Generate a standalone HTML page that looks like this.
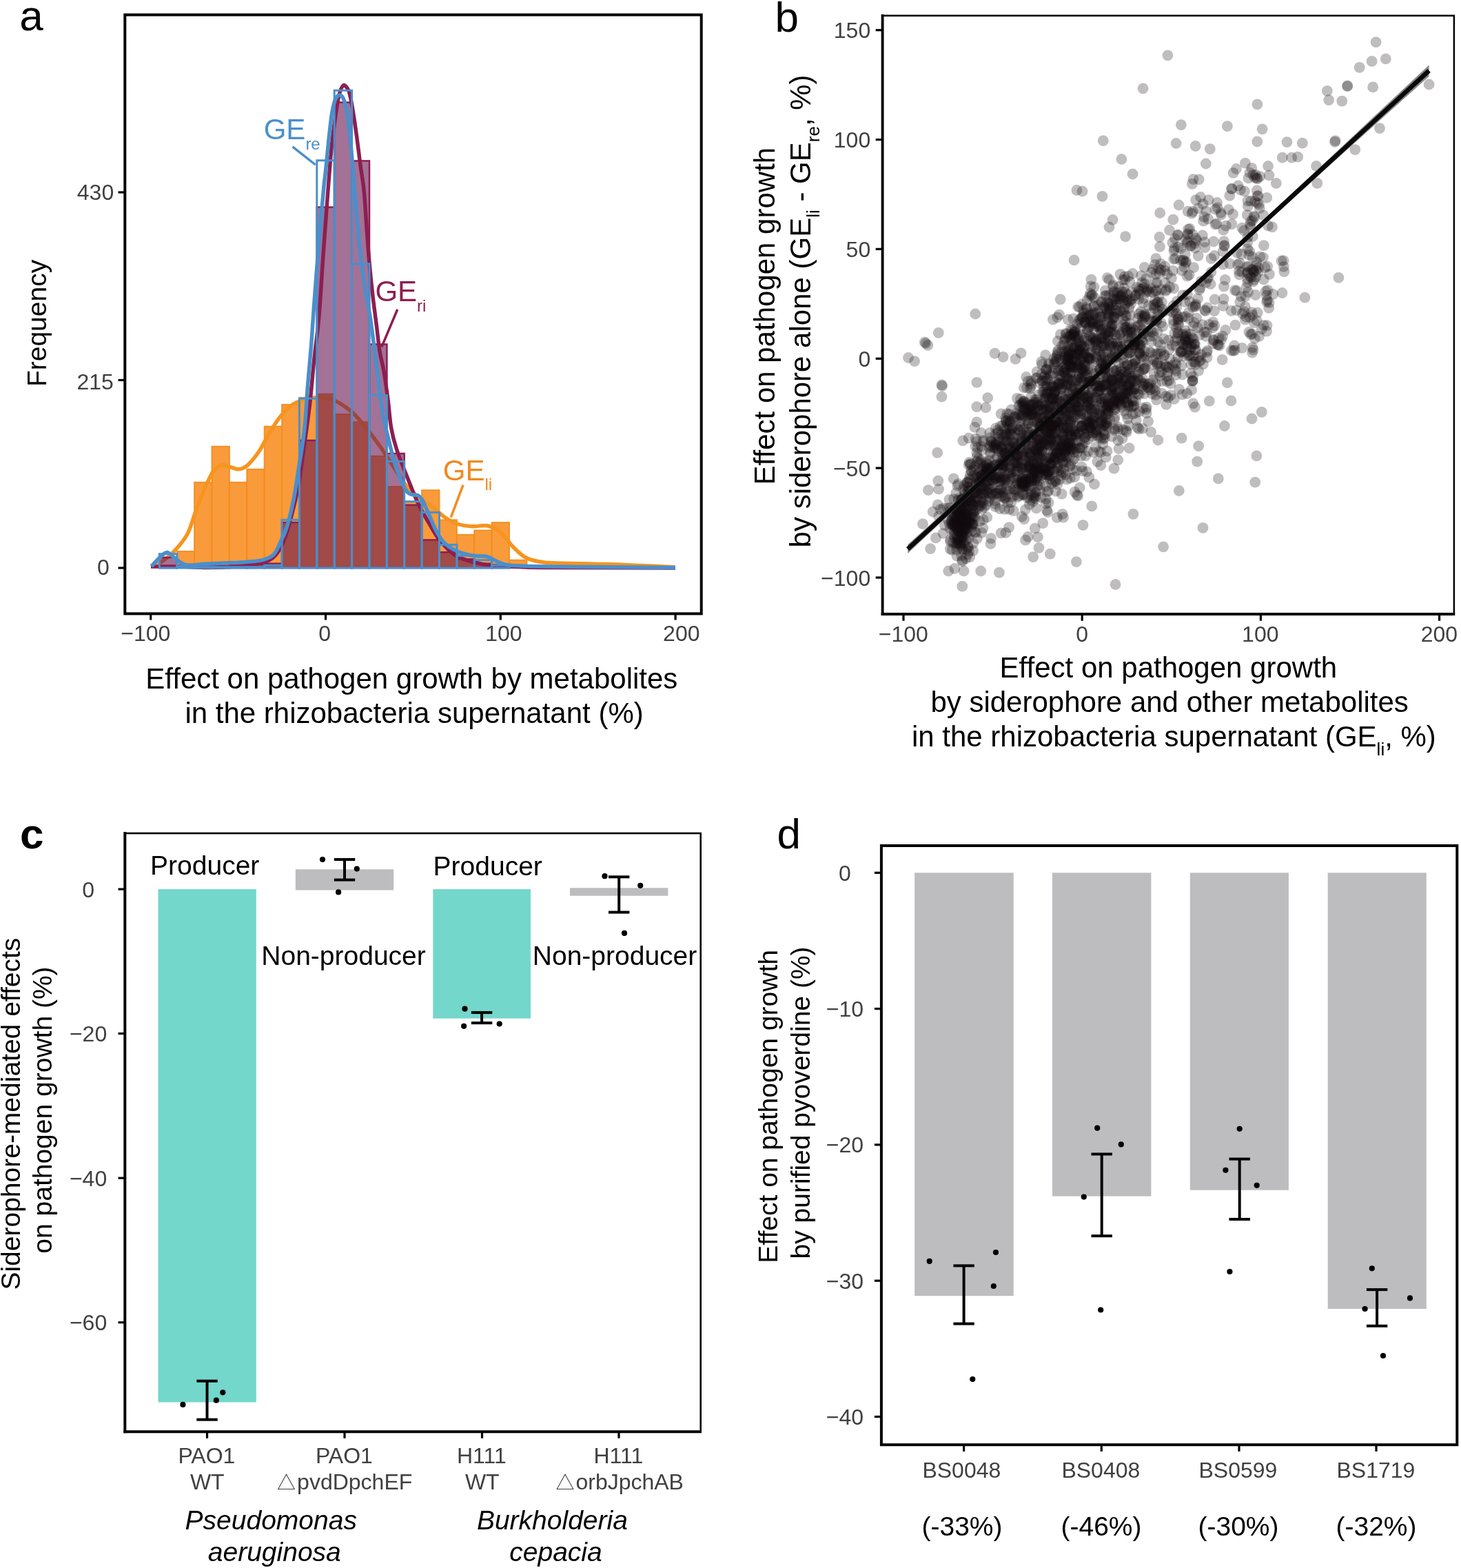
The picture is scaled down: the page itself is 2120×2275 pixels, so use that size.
<!DOCTYPE html>
<html><head><meta charset="utf-8"><title>Figure</title>
<style>html,body{margin:0;padding:0;background:#fff;}svg{display:block;}text{font-family:'Liberation Sans', Arial, Helvetica, sans-serif;}</style>
</head><body>
<svg xmlns="http://www.w3.org/2000/svg" width="2120" height="2275" viewBox="0 0 2120 2275">
<rect width="2120" height="2275" fill="#fff"/>
<g id="panel-a">
<rect x="256.8" y="799.9" width="25.4" height="24.1" fill="#F99B3B" stroke="#F28C1E" stroke-width="2" stroke-opacity="0.9"/>
<rect x="282.1" y="699.8" width="25.4" height="124.2" fill="#F99B3B" stroke="#F28C1E" stroke-width="2" stroke-opacity="0.9"/>
<rect x="307.5" y="647.8" width="25.4" height="176.2" fill="#F99B3B" stroke="#F28C1E" stroke-width="2" stroke-opacity="0.9"/>
<rect x="332.9" y="699.8" width="25.4" height="124.2" fill="#F99B3B" stroke="#F28C1E" stroke-width="2" stroke-opacity="0.9"/>
<rect x="358.3" y="680.8" width="25.4" height="143.2" fill="#F99B3B" stroke="#F28C1E" stroke-width="2" stroke-opacity="0.9"/>
<rect x="383.7" y="618.7" width="25.4" height="205.3" fill="#F99B3B" stroke="#F28C1E" stroke-width="2" stroke-opacity="0.9"/>
<rect x="409.1" y="587" width="25.4" height="237" fill="#F99B3B" stroke="#F28C1E" stroke-width="2" stroke-opacity="0.9"/>
<rect x="434.4" y="576.9" width="25.4" height="247.1" fill="#F99B3B" stroke="#F28C1E" stroke-width="2" stroke-opacity="0.9"/>
<rect x="459.8" y="571.8" width="25.4" height="252.2" fill="#F99B3B" stroke="#F28C1E" stroke-width="2" stroke-opacity="0.9"/>
<rect x="485.2" y="600.9" width="25.4" height="223.1" fill="#F99B3B" stroke="#F28C1E" stroke-width="2" stroke-opacity="0.9"/>
<rect x="510.6" y="612.3" width="25.4" height="211.7" fill="#F99B3B" stroke="#F28C1E" stroke-width="2" stroke-opacity="0.9"/>
<rect x="536" y="661.8" width="25.4" height="162.2" fill="#F99B3B" stroke="#F28C1E" stroke-width="2" stroke-opacity="0.9"/>
<rect x="561.3" y="706.1" width="25.4" height="117.9" fill="#F99B3B" stroke="#F28C1E" stroke-width="2" stroke-opacity="0.9"/>
<rect x="586.7" y="727.7" width="25.4" height="96.3" fill="#F99B3B" stroke="#F28C1E" stroke-width="2" stroke-opacity="0.9"/>
<rect x="612.1" y="711.2" width="25.4" height="112.8" fill="#F99B3B" stroke="#F28C1E" stroke-width="2" stroke-opacity="0.9"/>
<rect x="637.5" y="754.3" width="25.4" height="69.7" fill="#F99B3B" stroke="#F28C1E" stroke-width="2" stroke-opacity="0.9"/>
<rect x="662.9" y="775.8" width="25.4" height="48.2" fill="#F99B3B" stroke="#F28C1E" stroke-width="2" stroke-opacity="0.9"/>
<rect x="688.2" y="769.5" width="25.4" height="54.5" fill="#F99B3B" stroke="#F28C1E" stroke-width="2" stroke-opacity="0.9"/>
<rect x="713.6" y="758.1" width="25.4" height="65.9" fill="#F99B3B" stroke="#F28C1E" stroke-width="2" stroke-opacity="0.9"/>
<rect x="739" y="812.6" width="25.4" height="11.4" fill="#F99B3B" stroke="#F28C1E" stroke-width="2" stroke-opacity="0.9"/>
<path d="M219.8,822 C222.5,820.7 230.6,817.5 236,814 C241.4,810.5 246,807.2 252,800.7 C258,794.2 266.6,784.8 272,774.7 C277.4,764.6 280.3,751.2 284.5,740.3 C288.7,729.3 292.8,718.4 297,709 C301.2,699.6 305.3,689.7 309.5,684 C313.7,678.3 317.8,675.6 322,674.6 C326.2,673.6 330.4,676.7 334.6,677.7 C338.8,678.7 342.8,681.3 347,680.8 C351.2,680.3 354.9,678.8 359.6,674.6 C364.3,670.4 370.6,662.6 375.3,655.8 C380,649 383.1,641.7 387.8,633.9 C392.5,626.1 398.2,616 403.4,608.9 C408.6,601.8 413.8,595.5 419,591 C424.2,586.5 428.7,584.3 434.7,582 C440.7,579.7 449.1,577.8 455,577 C460.9,576.2 465,576.3 470,577 C475,577.7 480.2,579 485,581 C489.8,583 494.3,585.8 499,589 C503.7,592.2 507.5,594.6 513,600 C518.5,605.4 525.5,613.7 531.8,621.4 C538,629.1 544.2,637.5 550.5,646.4 C556.8,655.3 563,665.2 569.3,674.6 C575.5,684 581.7,694.9 588,702.7 C594.3,710.5 600.6,716.3 606.9,721.5 C613.2,726.7 619.5,729.3 625.7,734 C632,738.7 638.1,745.4 644.4,749.7 C650.6,754 656.4,757.6 663.2,760 C670,762.4 677.8,763.3 685.1,763.8 C692.4,764.3 700.2,761.5 707,762.8 C713.8,764.1 719.5,766.5 725.8,771.6 C732.1,776.7 738.3,787.2 744.6,793.5 C750.9,799.8 755.8,805.5 763.4,809.2 C771,813 778.9,814.6 790,816 C801.1,817.4 815,817.1 830,817.5 C845,817.9 863.3,818 880,818.5 C896.7,819 913.3,819.8 930,820.5 C946.7,821.2 971.7,822.6 980,823" fill="none" stroke="#F7941D" stroke-width="5.5" stroke-linejoin="round"/>
<rect x="231.4" y="808.8" width="25.4" height="15.2" fill="rgba(102,20,80,0.6)" stroke="#8C1F50" stroke-width="2.5"/>
<rect x="256.8" y="824" width="25.4" height="0" fill="rgba(102,20,80,0.6)" stroke="#8C1F50" stroke-width="2.5"/>
<rect x="282.1" y="821.5" width="25.4" height="2.5" fill="rgba(102,20,80,0.6)" stroke="#8C1F50" stroke-width="2.5"/>
<rect x="307.5" y="821.5" width="25.4" height="2.5" fill="rgba(102,20,80,0.6)" stroke="#8C1F50" stroke-width="2.5"/>
<rect x="332.9" y="820.2" width="25.4" height="3.8" fill="rgba(102,20,80,0.6)" stroke="#8C1F50" stroke-width="2.5"/>
<rect x="358.3" y="818.9" width="25.4" height="5.1" fill="rgba(102,20,80,0.6)" stroke="#8C1F50" stroke-width="2.5"/>
<rect x="383.7" y="817.7" width="25.4" height="6.3" fill="rgba(102,20,80,0.6)" stroke="#8C1F50" stroke-width="2.5"/>
<rect x="409.1" y="758.1" width="25.4" height="65.9" fill="rgba(102,20,80,0.6)" stroke="#8C1F50" stroke-width="2.5"/>
<rect x="434.4" y="639" width="25.4" height="185" fill="rgba(102,20,80,0.6)" stroke="#8C1F50" stroke-width="2.5"/>
<rect x="459.8" y="300.6" width="25.4" height="523.4" fill="rgba(102,20,80,0.6)" stroke="#8C1F50" stroke-width="2.5"/>
<rect x="485.2" y="148.5" width="25.4" height="675.5" fill="rgba(102,20,80,0.6)" stroke="#8C1F50" stroke-width="2.5"/>
<rect x="510.6" y="233.4" width="25.4" height="590.6" fill="rgba(102,20,80,0.6)" stroke="#8C1F50" stroke-width="2.5"/>
<rect x="536" y="499.5" width="25.4" height="324.5" fill="rgba(102,20,80,0.6)" stroke="#8C1F50" stroke-width="2.5"/>
<rect x="561.3" y="658" width="25.4" height="166" fill="rgba(102,20,80,0.6)" stroke="#8C1F50" stroke-width="2.5"/>
<rect x="586.7" y="732.7" width="25.4" height="91.3" fill="rgba(102,20,80,0.6)" stroke="#8C1F50" stroke-width="2.5"/>
<rect x="612.1" y="783.4" width="25.4" height="40.6" fill="rgba(102,20,80,0.6)" stroke="#8C1F50" stroke-width="2.5"/>
<rect x="637.5" y="801.2" width="25.4" height="22.8" fill="rgba(102,20,80,0.6)" stroke="#8C1F50" stroke-width="2.5"/>
<rect x="662.9" y="811.3" width="25.4" height="12.7" fill="rgba(102,20,80,0.6)" stroke="#8C1F50" stroke-width="2.5"/>
<rect x="688.2" y="817.7" width="25.4" height="6.3" fill="rgba(102,20,80,0.6)" stroke="#8C1F50" stroke-width="2.5"/>
<rect x="713.6" y="820.2" width="25.4" height="3.8" fill="rgba(102,20,80,0.6)" stroke="#8C1F50" stroke-width="2.5"/>
<path d="M219,822 C225.8,822 246.5,821.8 260,822 C273.5,822.2 286.7,823.5 300,823.5 C313.3,823.5 327.5,822.9 340,822 C352.5,821.1 365.8,820 375,818 C384.2,816 389.7,813.8 395,810 C400.3,806.2 403.3,801.7 407,795 C410.7,788.3 414,779.2 417,770 C420,760.8 422.3,750.8 425,740 C427.7,729.2 430.3,720 433,705 C435.7,690 438.2,670 441,650 C443.8,630 447.2,606.7 449.7,585 C452.2,563.3 453.8,540.8 456,520 C458.2,499.2 460.6,485 462.8,460 C465,435 466.8,400.5 469,370 C471.2,339.5 473.9,302.8 475.9,277 C477.9,251.2 479.3,232.5 481,215 C482.7,197.5 484.5,184.8 486.3,172 C488.1,159.2 490,146 492,138 C494,130 496.1,125.7 498.1,124 C500.1,122.3 502.5,126 504,128 C505.5,130 506,130.7 507.3,136 C508.6,141.3 510.3,149.6 512,160 C513.7,170.4 515.9,185.2 517.7,198.5 C519.5,211.8 521.2,226.9 523,240 C524.8,253.1 526.7,262 528.2,277 C529.7,292 530.7,312.6 532,330 C533.3,347.4 534.5,364.9 536,381.6 C537.5,398.3 539.2,414.7 541,430 C542.8,445.3 544.8,459.9 546.5,473.2 C548.2,486.5 549.2,499.1 551,510 C552.8,520.9 555,526.9 557,538.6 C559,550.3 561.2,566.4 563,580 C564.8,593.6 565.4,608 567.5,620 C569.6,632 571.6,639.8 575.6,652 C579.6,664.2 586,679.8 591.2,693 C596.4,706.2 601.8,720 607,731 C612.2,742 617.3,750.2 622.5,759 C627.7,767.8 631.5,776 638.2,784 C645,792 652.6,801.2 663,807 C673.4,812.8 688,816.1 700.8,818.6 C713.6,821.1 723.5,821.2 740,822 C756.5,822.8 760,823.2 800,823.5 C840,823.8 950,823.9 980,824" fill="none" stroke="#8C1F50" stroke-width="5.5" stroke-linejoin="round"/>
<rect x="231.4" y="803.7" width="25.4" height="20.3" fill="none" stroke="#4A8FCC" stroke-width="3"/>
<rect x="256.8" y="821.5" width="25.4" height="2.5" fill="none" stroke="#4A8FCC" stroke-width="3"/>
<rect x="282.1" y="822.7" width="25.4" height="1.3" fill="none" stroke="#4A8FCC" stroke-width="3"/>
<rect x="307.5" y="822.7" width="25.4" height="1.3" fill="none" stroke="#4A8FCC" stroke-width="3"/>
<rect x="332.9" y="822.7" width="25.4" height="1.3" fill="none" stroke="#4A8FCC" stroke-width="3"/>
<rect x="358.3" y="822.7" width="25.4" height="1.3" fill="none" stroke="#4A8FCC" stroke-width="3"/>
<rect x="383.7" y="820.2" width="25.4" height="3.8" fill="none" stroke="#4A8FCC" stroke-width="3"/>
<rect x="409.1" y="754.3" width="25.4" height="69.7" fill="none" stroke="#4A8FCC" stroke-width="3"/>
<rect x="434.4" y="578.1" width="25.4" height="245.9" fill="none" stroke="#4A8FCC" stroke-width="3"/>
<rect x="459.8" y="232.8" width="25.4" height="591.2" fill="none" stroke="#4A8FCC" stroke-width="3"/>
<rect x="485.2" y="131.2" width="25.4" height="692.8" fill="none" stroke="#4A8FCC" stroke-width="3"/>
<rect x="510.6" y="382.9" width="25.4" height="441.1" fill="none" stroke="#4A8FCC" stroke-width="3"/>
<rect x="536" y="573.6" width="25.4" height="250.4" fill="none" stroke="#4A8FCC" stroke-width="3"/>
<rect x="561.3" y="669.4" width="25.4" height="154.6" fill="none" stroke="#4A8FCC" stroke-width="3"/>
<rect x="586.7" y="727.7" width="25.4" height="96.3" fill="none" stroke="#4A8FCC" stroke-width="3"/>
<rect x="612.1" y="743.4" width="25.4" height="80.6" fill="none" stroke="#4A8FCC" stroke-width="3"/>
<rect x="637.5" y="790.4" width="25.4" height="33.6" fill="none" stroke="#4A8FCC" stroke-width="3"/>
<rect x="662.9" y="806.3" width="25.4" height="17.7" fill="none" stroke="#4A8FCC" stroke-width="3"/>
<rect x="688.2" y="812.6" width="25.4" height="11.4" fill="none" stroke="#4A8FCC" stroke-width="3"/>
<rect x="713.6" y="820.2" width="25.4" height="3.8" fill="none" stroke="#4A8FCC" stroke-width="3"/>
<rect x="739" y="824" width="25.4" height="0" fill="none" stroke="#4A8FCC" stroke-width="3"/>
<rect x="764.4" y="824" width="25.4" height="0" fill="none" stroke="#4A8FCC" stroke-width="3"/>
<rect x="789.8" y="824" width="25.4" height="0" fill="none" stroke="#4A8FCC" stroke-width="3"/>
<rect x="815.1" y="824" width="25.4" height="0" fill="none" stroke="#4A8FCC" stroke-width="3"/>
<rect x="840.5" y="824" width="25.4" height="0" fill="none" stroke="#4A8FCC" stroke-width="3"/>
<rect x="865.9" y="824" width="25.4" height="0" fill="none" stroke="#4A8FCC" stroke-width="3"/>
<rect x="891.3" y="824" width="25.4" height="0" fill="none" stroke="#4A8FCC" stroke-width="3"/>
<rect x="916.6" y="824" width="25.4" height="0" fill="none" stroke="#4A8FCC" stroke-width="3"/>
<rect x="942" y="824" width="25.4" height="0" fill="none" stroke="#4A8FCC" stroke-width="3"/>
<path d="M219.8,821.7 C221.7,819.6 227.6,812.6 231.3,809.2 C235.1,805.8 238.7,801.4 242.3,801.4 C246,801.4 248.8,806.2 253.2,809.2 C257.6,812.2 262.1,817.9 268.9,819.5 C275.7,821.1 284.5,819 293.9,818.6 C303.3,818.2 314.8,817.5 325.2,817 C335.6,816.5 347.1,816.2 356.5,815.4 C365.9,814.6 374.7,814.1 381.5,812.3 C388.3,810.5 393,808.7 397.2,804.5 C401.4,800.3 403.5,793.8 406.6,787.3 C409.7,780.8 412.9,775.3 416,765.4 C419.1,755.5 422.5,741.9 425.4,727.8 C428.3,713.7 430.5,697.9 433.2,680.8 C435.9,663.7 439.3,645.1 441.5,625 C443.7,604.9 444.8,580.9 446.5,560 C448.2,539.1 450.2,519 451.7,499.8 C453.2,480.6 454.2,462.3 455.5,445 C456.8,427.7 457.9,411.8 459.2,396 C460.4,380.2 461.7,365.1 463,350 C464.3,334.9 465.6,318.9 466.8,305.6 C468,292.3 469,280.1 470,270 C471,259.9 471.6,256.9 472.8,245.2 C474,233.5 475.9,213.4 477.3,200 C478.8,186.6 480.1,173.8 481.5,165 C482.9,156.2 484.2,151.2 485.5,147 C486.8,142.8 487.8,141.5 489,140 C490.2,138.5 491.3,138.1 492.5,138 C493.7,137.9 494.9,138.2 496,139.5 C497.1,140.8 498.4,143.4 499.4,146 C500.4,148.6 501.1,151 502,155 C502.9,159 503.7,162.5 504.7,170 C505.7,177.5 506.8,188.3 508,200 C509.2,211.7 510.6,226.7 511.7,240 C512.8,253.3 513.8,268.3 514.7,280 C515.6,291.7 516.2,298.3 517.3,310 C518.3,321.7 519.7,337.4 521,350 C522.3,362.6 523.5,373.1 525.2,385.6 C526.9,398.1 529,412.4 531,425 C533,437.6 535.2,447.5 537.3,461 C539.3,474.5 541.5,492.2 543.3,506.2 C545.1,520.2 546.5,532.7 548,545 C549.5,557.3 550.9,569.3 552.4,579.8 C553.9,590.3 555.2,599 557,608 C558.8,617 560.4,623.4 563,634 C565.6,644.6 569.4,661.1 572.5,671.5 C575.6,681.9 578.7,689.4 581.8,696.5 C584.9,703.6 588.2,710.4 591.2,714 C594.2,717.6 597.4,717.2 600,718 C602.6,718.8 604.8,717.7 607,719 C609.2,720.3 610.5,721.4 613.1,726 C615.7,730.6 619.4,739.5 622.5,746.6 C625.6,753.7 628.4,761.7 632,768.5 C635.6,775.3 639.2,782.1 644.4,787.3 C649.6,792.5 656.4,796.7 663.2,799.8 C670,802.9 677.8,804.7 685.1,806 C692.4,807.3 701.2,806.3 707,807.6 C712.8,808.9 714.4,811.8 719.6,813.9 C724.8,816 728.2,818.8 738.3,820.1 C748.4,821.4 756.4,821.2 780,821.7 C803.6,822.2 846.7,822.5 880,822.8 C913.3,823.1 963.3,823.4 980,823.5" fill="none" stroke="#4A8FCC" stroke-width="5.5" stroke-linejoin="round"/>
<text x="382.7" y="201.5" font-size="42" fill="#4A8FCC">GE<tspan font-size="24" dy="15.5">re</tspan></text>
<line x1="424.5" y1="212.8" x2="457.7" y2="239" stroke="#4A8FCC" stroke-width="3.5" stroke-linecap="butt"/>
<text x="544.4" y="437" font-size="42" fill="#8C1F50">GE<tspan font-size="24" dy="14.5">ri</tspan></text>
<line x1="576.7" y1="449" x2="553.8" y2="503.4" stroke="#8C1F50" stroke-width="3.5" stroke-linecap="butt"/>
<text x="642.8" y="696.8" font-size="42" fill="#F08A1E">GE<tspan font-size="24" dy="14.5">li</tspan></text>
<line x1="672" y1="703.7" x2="654.3" y2="750.7" stroke="#F28C1E" stroke-width="3.5" stroke-linecap="butt"/>
<rect x="181.3" y="21.5" width="836.4" height="868.9" fill="none" stroke="#000" stroke-width="4"/>
<line x1="218.7" y1="890.4" x2="218.7" y2="899.5" stroke="#000" stroke-width="3.2" stroke-linecap="butt"/>
<line x1="472.5" y1="890.4" x2="472.5" y2="899.5" stroke="#000" stroke-width="3.2" stroke-linecap="butt"/>
<line x1="726.3" y1="890.4" x2="726.3" y2="899.5" stroke="#000" stroke-width="3.2" stroke-linecap="butt"/>
<line x1="980.1" y1="890.4" x2="980.1" y2="899.5" stroke="#000" stroke-width="3.2" stroke-linecap="butt"/>
<line x1="171.5" y1="824" x2="181.3" y2="824" stroke="#000" stroke-width="3.2" stroke-linecap="butt"/>
<line x1="171.5" y1="551.5" x2="181.3" y2="551.5" stroke="#000" stroke-width="3.2" stroke-linecap="butt"/>
<line x1="171.5" y1="279" x2="181.3" y2="279" stroke="#000" stroke-width="3.2" stroke-linecap="butt"/>
<text x="175.3" y="929.8" font-size="32" fill="#404040">−100</text>
<text x="462.2" y="929.8" font-size="32" fill="#404040">0</text>
<text x="704.2" y="929.8" font-size="32" fill="#404040">100</text>
<text x="962.1" y="929.8" font-size="32" fill="#404040">200</text>
<text x="111.8" y="290.2" font-size="32" fill="#404040">430</text>
<text x="111.4" y="564.5" font-size="32" fill="#404040">215</text>
<text x="141.1" y="834.2" font-size="32" fill="#404040">0</text>
<text transform="translate(67.1,561.1) rotate(-90)" font-size="39" fill="#000">Frequency</text>
<text x="211.3" y="998.7" font-size="42" fill="#000">Effect on pathogen growth by metabolites</text>
<text x="268.4" y="1049.4" font-size="42" fill="#000">in the rhizobacteria supernatant (%)</text>
<text x="28.2" y="44.2" font-size="62" fill="#000">a</text>
</g>
<g id="panel-b">
<g fill="#140C0E" fill-opacity="0.27"><circle cx="1362.1" cy="749.1" r="7.9"/><circle cx="1368.5" cy="773.9" r="7.9"/><circle cx="1370.9" cy="762.2" r="7.9"/><circle cx="1357.9" cy="780.4" r="7.9"/><circle cx="1368.8" cy="737.4" r="7.9"/><circle cx="1362" cy="709.7" r="7.9"/><circle cx="1353.7" cy="742.5" r="7.9"/><circle cx="1360.7" cy="732.4" r="7.9"/><circle cx="1395.6" cy="754.7" r="7.9"/><circle cx="1384" cy="724.1" r="7.9"/><circle cx="1381.7" cy="749.6" r="7.9"/><circle cx="1397.7" cy="709.9" r="7.9"/><circle cx="1396.6" cy="762.1" r="7.9"/><circle cx="1381.8" cy="797.9" r="7.9"/><circle cx="1385.3" cy="756.8" r="7.9"/><circle cx="1385.8" cy="739" r="7.9"/><circle cx="1401.7" cy="767.9" r="7.9"/><circle cx="1384.4" cy="772" r="7.9"/><circle cx="1378.3" cy="736.6" r="7.9"/><circle cx="1394" cy="778.9" r="7.9"/><circle cx="1396.6" cy="750.3" r="7.9"/><circle cx="1387.1" cy="715.3" r="7.9"/><circle cx="1381" cy="757.4" r="7.9"/><circle cx="1382.3" cy="761.5" r="7.9"/><circle cx="1380.9" cy="755" r="7.9"/><circle cx="1394" cy="734.5" r="7.9"/><circle cx="1400" cy="713" r="7.9"/><circle cx="1378.9" cy="796.6" r="7.9"/><circle cx="1397.3" cy="758.1" r="7.9"/><circle cx="1388.9" cy="759.8" r="7.9"/><circle cx="1394.8" cy="750.7" r="7.9"/><circle cx="1390.4" cy="702.2" r="7.9"/><circle cx="1392.2" cy="761.8" r="7.9"/><circle cx="1379" cy="785.8" r="7.9"/><circle cx="1392.3" cy="744.9" r="7.9"/><circle cx="1380.7" cy="760.5" r="7.9"/><circle cx="1394.8" cy="724.6" r="7.9"/><circle cx="1391" cy="771" r="7.9"/><circle cx="1394" cy="730.1" r="7.9"/><circle cx="1395.3" cy="725.6" r="7.9"/><circle cx="1378.9" cy="740.7" r="7.9"/><circle cx="1401.1" cy="753.2" r="7.9"/><circle cx="1388.7" cy="766.8" r="7.9"/><circle cx="1384.6" cy="757.5" r="7.9"/><circle cx="1400.1" cy="718.1" r="7.9"/><circle cx="1397.2" cy="639.3" r="7.9"/><circle cx="1377.5" cy="724.8" r="7.9"/><circle cx="1383.8" cy="694.4" r="7.9"/><circle cx="1388.6" cy="777.4" r="7.9"/><circle cx="1384.3" cy="776.8" r="7.9"/><circle cx="1385.2" cy="780.9" r="7.9"/><circle cx="1387.1" cy="739.2" r="7.9"/><circle cx="1400.2" cy="747.3" r="7.9"/><circle cx="1390.6" cy="788.9" r="7.9"/><circle cx="1391.3" cy="756.1" r="7.9"/><circle cx="1375.8" cy="754.6" r="7.9"/><circle cx="1390.7" cy="725.6" r="7.9"/><circle cx="1390.1" cy="758.9" r="7.9"/><circle cx="1383" cy="768.3" r="7.9"/><circle cx="1384" cy="763.3" r="7.9"/><circle cx="1396" cy="763.5" r="7.9"/><circle cx="1400.7" cy="757.4" r="7.9"/><circle cx="1392.5" cy="768" r="7.9"/><circle cx="1389.2" cy="782.6" r="7.9"/><circle cx="1389.7" cy="755.8" r="7.9"/><circle cx="1387.8" cy="792.2" r="7.9"/><circle cx="1389.2" cy="704.6" r="7.9"/><circle cx="1388.2" cy="797.6" r="7.9"/><circle cx="1392.5" cy="732.9" r="7.9"/><circle cx="1391.7" cy="742" r="7.9"/><circle cx="1400.6" cy="748" r="7.9"/><circle cx="1393.2" cy="744.6" r="7.9"/><circle cx="1396.5" cy="729.8" r="7.9"/><circle cx="1379" cy="783" r="7.9"/><circle cx="1385.8" cy="752.1" r="7.9"/><circle cx="1395.4" cy="767.5" r="7.9"/><circle cx="1399.1" cy="704.8" r="7.9"/><circle cx="1378.6" cy="767.2" r="7.9"/><circle cx="1392.1" cy="732.5" r="7.9"/><circle cx="1385.7" cy="763.5" r="7.9"/><circle cx="1396.5" cy="739.9" r="7.9"/><circle cx="1395" cy="734.6" r="7.9"/><circle cx="1393.3" cy="788.6" r="7.9"/><circle cx="1386.8" cy="766.4" r="7.9"/><circle cx="1383" cy="787.2" r="7.9"/><circle cx="1387.4" cy="788.4" r="7.9"/><circle cx="1399.4" cy="742.4" r="7.9"/><circle cx="1388.4" cy="760.6" r="7.9"/><circle cx="1403.4" cy="700.3" r="7.9"/><circle cx="1413.8" cy="731.8" r="7.9"/><circle cx="1404.7" cy="712.5" r="7.9"/><circle cx="1403.8" cy="720.6" r="7.9"/><circle cx="1415.4" cy="692.7" r="7.9"/><circle cx="1418.7" cy="723.3" r="7.9"/><circle cx="1416.7" cy="714.5" r="7.9"/><circle cx="1409.7" cy="737.9" r="7.9"/><circle cx="1408.2" cy="712" r="7.9"/><circle cx="1410.7" cy="764.3" r="7.9"/><circle cx="1409.9" cy="746.3" r="7.9"/><circle cx="1403" cy="699.9" r="7.9"/><circle cx="1418.3" cy="716.2" r="7.9"/><circle cx="1402.1" cy="747.8" r="7.9"/><circle cx="1408.1" cy="725.4" r="7.9"/><circle cx="1417.2" cy="640.9" r="7.9"/><circle cx="1412.4" cy="715.3" r="7.9"/><circle cx="1427.5" cy="677.5" r="7.9"/><circle cx="1412.3" cy="788.2" r="7.9"/><circle cx="1425.7" cy="695.7" r="7.9"/><circle cx="1426.8" cy="754" r="7.9"/><circle cx="1426.5" cy="766.3" r="7.9"/><circle cx="1421.5" cy="670.6" r="7.9"/><circle cx="1424.8" cy="694.9" r="7.9"/><circle cx="1424" cy="647.8" r="7.9"/><circle cx="1420.5" cy="701.8" r="7.9"/><circle cx="1425.1" cy="652.6" r="7.9"/><circle cx="1424.9" cy="738.5" r="7.9"/><circle cx="1402.1" cy="783.9" r="7.9"/><circle cx="1407.9" cy="673.9" r="7.9"/><circle cx="1405.7" cy="635.6" r="7.9"/><circle cx="1422.9" cy="691.6" r="7.9"/><circle cx="1416.2" cy="705" r="7.9"/><circle cx="1414.9" cy="713" r="7.9"/><circle cx="1421.2" cy="672.8" r="7.9"/><circle cx="1408.6" cy="672.9" r="7.9"/><circle cx="1408" cy="758.7" r="7.9"/><circle cx="1404.9" cy="699.6" r="7.9"/><circle cx="1407.7" cy="688.3" r="7.9"/><circle cx="1424.5" cy="689.1" r="7.9"/><circle cx="1412.3" cy="759.4" r="7.9"/><circle cx="1421.2" cy="694.8" r="7.9"/><circle cx="1424.8" cy="680.8" r="7.9"/><circle cx="1405.7" cy="674.4" r="7.9"/><circle cx="1420.5" cy="679.8" r="7.9"/><circle cx="1412.1" cy="741.3" r="7.9"/><circle cx="1413.2" cy="743.8" r="7.9"/><circle cx="1405.5" cy="707.1" r="7.9"/><circle cx="1403.8" cy="721.6" r="7.9"/><circle cx="1413.7" cy="715.6" r="7.9"/><circle cx="1420.4" cy="736.2" r="7.9"/><circle cx="1410.1" cy="684.3" r="7.9"/><circle cx="1415.3" cy="647.5" r="7.9"/><circle cx="1426.4" cy="698.4" r="7.9"/><circle cx="1421" cy="699.3" r="7.9"/><circle cx="1425" cy="723.5" r="7.9"/><circle cx="1418.5" cy="650" r="7.9"/><circle cx="1410.7" cy="745.6" r="7.9"/><circle cx="1404" cy="706.1" r="7.9"/><circle cx="1417.7" cy="669.4" r="7.9"/><circle cx="1418.4" cy="692.6" r="7.9"/><circle cx="1416.2" cy="701.6" r="7.9"/><circle cx="1410.6" cy="759.4" r="7.9"/><circle cx="1402.6" cy="726.9" r="7.9"/><circle cx="1423.8" cy="715.8" r="7.9"/><circle cx="1425.2" cy="706.2" r="7.9"/><circle cx="1422" cy="707.3" r="7.9"/><circle cx="1413.1" cy="689.9" r="7.9"/><circle cx="1415.1" cy="750" r="7.9"/><circle cx="1423.7" cy="628" r="7.9"/><circle cx="1404.5" cy="732.2" r="7.9"/><circle cx="1423.8" cy="727.9" r="7.9"/><circle cx="1404.4" cy="722.2" r="7.9"/><circle cx="1417.2" cy="707.9" r="7.9"/><circle cx="1406.9" cy="711.5" r="7.9"/><circle cx="1409" cy="682.5" r="7.9"/><circle cx="1415.1" cy="727.5" r="7.9"/><circle cx="1406.9" cy="726.7" r="7.9"/><circle cx="1421" cy="684.9" r="7.9"/><circle cx="1417.8" cy="781.5" r="7.9"/><circle cx="1415.4" cy="740.9" r="7.9"/><circle cx="1411.7" cy="733.3" r="7.9"/><circle cx="1423.5" cy="667.6" r="7.9"/><circle cx="1408.2" cy="729.3" r="7.9"/><circle cx="1425.1" cy="689.5" r="7.9"/><circle cx="1413.3" cy="714.1" r="7.9"/><circle cx="1423.3" cy="733.3" r="7.9"/><circle cx="1414.2" cy="677" r="7.9"/><circle cx="1406.2" cy="755.5" r="7.9"/><circle cx="1412.4" cy="761.6" r="7.9"/><circle cx="1406.2" cy="754.6" r="7.9"/><circle cx="1421.6" cy="756.3" r="7.9"/><circle cx="1423" cy="709.5" r="7.9"/><circle cx="1425.1" cy="730.1" r="7.9"/><circle cx="1411.6" cy="718.2" r="7.9"/><circle cx="1406.5" cy="694.4" r="7.9"/><circle cx="1419.9" cy="665.3" r="7.9"/><circle cx="1407.9" cy="725.5" r="7.9"/><circle cx="1420.6" cy="699.8" r="7.9"/><circle cx="1411" cy="733" r="7.9"/><circle cx="1414.4" cy="619.8" r="7.9"/><circle cx="1415.2" cy="713.8" r="7.9"/><circle cx="1406.4" cy="671" r="7.9"/><circle cx="1403.7" cy="746.2" r="7.9"/><circle cx="1403.1" cy="749.9" r="7.9"/><circle cx="1417.6" cy="662.6" r="7.9"/><circle cx="1427.5" cy="717.5" r="7.9"/><circle cx="1403.2" cy="775.8" r="7.9"/><circle cx="1402.6" cy="738" r="7.9"/><circle cx="1416.6" cy="727.7" r="7.9"/><circle cx="1424.5" cy="772.9" r="7.9"/><circle cx="1424.8" cy="716.2" r="7.9"/><circle cx="1411.6" cy="751.1" r="7.9"/><circle cx="1427.2" cy="709.9" r="7.9"/><circle cx="1407.2" cy="696.8" r="7.9"/><circle cx="1413.2" cy="682.1" r="7.9"/><circle cx="1417.4" cy="554.8" r="7.9"/><circle cx="1426.1" cy="639.2" r="7.9"/><circle cx="1410.1" cy="730.3" r="7.9"/><circle cx="1426.7" cy="688.2" r="7.9"/><circle cx="1417.7" cy="697.7" r="7.9"/><circle cx="1407.5" cy="750.6" r="7.9"/><circle cx="1423.6" cy="690.3" r="7.9"/><circle cx="1427.5" cy="714.8" r="7.9"/><circle cx="1417.3" cy="721.7" r="7.9"/><circle cx="1452.5" cy="670.8" r="7.9"/><circle cx="1449" cy="691.2" r="7.9"/><circle cx="1452.7" cy="720.2" r="7.9"/><circle cx="1451.3" cy="695" r="7.9"/><circle cx="1452.9" cy="709.6" r="7.9"/><circle cx="1435.3" cy="649" r="7.9"/><circle cx="1451.9" cy="698.4" r="7.9"/><circle cx="1452.9" cy="656.6" r="7.9"/><circle cx="1439.6" cy="705.1" r="7.9"/><circle cx="1453" cy="679.4" r="7.9"/><circle cx="1429.8" cy="676.5" r="7.9"/><circle cx="1444.7" cy="650" r="7.9"/><circle cx="1448.8" cy="715.8" r="7.9"/><circle cx="1446.6" cy="692.6" r="7.9"/><circle cx="1434.8" cy="701.6" r="7.9"/><circle cx="1428" cy="640.7" r="7.9"/><circle cx="1438.9" cy="641.2" r="7.9"/><circle cx="1433.8" cy="697.2" r="7.9"/><circle cx="1429.9" cy="699.8" r="7.9"/><circle cx="1430.5" cy="732.6" r="7.9"/><circle cx="1432.2" cy="750.5" r="7.9"/><circle cx="1450.8" cy="738.1" r="7.9"/><circle cx="1430.4" cy="683.9" r="7.9"/><circle cx="1436.7" cy="691.4" r="7.9"/><circle cx="1444.7" cy="629.6" r="7.9"/><circle cx="1444.8" cy="621.4" r="7.9"/><circle cx="1453.5" cy="647.6" r="7.9"/><circle cx="1451.4" cy="648.7" r="7.9"/><circle cx="1444.9" cy="695" r="7.9"/><circle cx="1451.8" cy="687.2" r="7.9"/><circle cx="1451.9" cy="710.7" r="7.9"/><circle cx="1438.1" cy="781.1" r="7.9"/><circle cx="1431.3" cy="703" r="7.9"/><circle cx="1439.3" cy="679.8" r="7.9"/><circle cx="1436.4" cy="721.8" r="7.9"/><circle cx="1437" cy="635.2" r="7.9"/><circle cx="1439.3" cy="649.1" r="7.9"/><circle cx="1430.7" cy="724.5" r="7.9"/><circle cx="1436.8" cy="678.7" r="7.9"/><circle cx="1437.2" cy="656" r="7.9"/><circle cx="1444" cy="674.4" r="7.9"/><circle cx="1443.9" cy="667.5" r="7.9"/><circle cx="1434.1" cy="727.2" r="7.9"/><circle cx="1440.4" cy="689.6" r="7.9"/><circle cx="1451.7" cy="618.1" r="7.9"/><circle cx="1427.9" cy="709.8" r="7.9"/><circle cx="1445.7" cy="715.8" r="7.9"/><circle cx="1432.1" cy="684.2" r="7.9"/><circle cx="1431.8" cy="680.5" r="7.9"/><circle cx="1428.3" cy="736" r="7.9"/><circle cx="1449.3" cy="698.9" r="7.9"/><circle cx="1437" cy="646.5" r="7.9"/><circle cx="1440.7" cy="718.7" r="7.9"/><circle cx="1444.9" cy="674.3" r="7.9"/><circle cx="1444.9" cy="711.7" r="7.9"/><circle cx="1430.8" cy="687.4" r="7.9"/><circle cx="1430.4" cy="591.4" r="7.9"/><circle cx="1433.8" cy="679.5" r="7.9"/><circle cx="1443.9" cy="734.9" r="7.9"/><circle cx="1430.6" cy="705.1" r="7.9"/><circle cx="1440.5" cy="676.3" r="7.9"/><circle cx="1450.1" cy="692.6" r="7.9"/><circle cx="1435.4" cy="668.5" r="7.9"/><circle cx="1447.2" cy="662.7" r="7.9"/><circle cx="1450.2" cy="710.3" r="7.9"/><circle cx="1435.2" cy="710" r="7.9"/><circle cx="1448.1" cy="627.6" r="7.9"/><circle cx="1444.2" cy="695.2" r="7.9"/><circle cx="1438.1" cy="639.9" r="7.9"/><circle cx="1438.8" cy="716.6" r="7.9"/><circle cx="1443.9" cy="726.4" r="7.9"/><circle cx="1448.8" cy="653.9" r="7.9"/><circle cx="1438.7" cy="682.3" r="7.9"/><circle cx="1440.1" cy="696.5" r="7.9"/><circle cx="1433" cy="680.2" r="7.9"/><circle cx="1438.6" cy="689.2" r="7.9"/><circle cx="1430.9" cy="670.4" r="7.9"/><circle cx="1436.6" cy="658.9" r="7.9"/><circle cx="1447.7" cy="624.3" r="7.9"/><circle cx="1444.8" cy="642" r="7.9"/><circle cx="1433.6" cy="682.3" r="7.9"/><circle cx="1432.4" cy="679.2" r="7.9"/><circle cx="1435.8" cy="681.8" r="7.9"/><circle cx="1450.3" cy="673.5" r="7.9"/><circle cx="1441.9" cy="649.2" r="7.9"/><circle cx="1444.1" cy="730.9" r="7.9"/><circle cx="1439.6" cy="714.8" r="7.9"/><circle cx="1449.3" cy="641.4" r="7.9"/><circle cx="1444.6" cy="716.1" r="7.9"/><circle cx="1430.3" cy="690.1" r="7.9"/><circle cx="1435.8" cy="697.7" r="7.9"/><circle cx="1436.1" cy="628.1" r="7.9"/><circle cx="1452.6" cy="600.5" r="7.9"/><circle cx="1433.7" cy="673.7" r="7.9"/><circle cx="1435.4" cy="690.9" r="7.9"/><circle cx="1433" cy="715.3" r="7.9"/><circle cx="1453.2" cy="630.4" r="7.9"/><circle cx="1443.2" cy="646.1" r="7.9"/><circle cx="1451.2" cy="682.6" r="7.9"/><circle cx="1437.1" cy="708.5" r="7.9"/><circle cx="1445.1" cy="644.9" r="7.9"/><circle cx="1430.5" cy="672.7" r="7.9"/><circle cx="1437.1" cy="688" r="7.9"/><circle cx="1441.7" cy="643.3" r="7.9"/><circle cx="1448.8" cy="634.8" r="7.9"/><circle cx="1430.2" cy="690.7" r="7.9"/><circle cx="1440.4" cy="697.2" r="7.9"/><circle cx="1452.6" cy="773.3" r="7.9"/><circle cx="1431.9" cy="713" r="7.9"/><circle cx="1443.6" cy="691.8" r="7.9"/><circle cx="1433.2" cy="577.2" r="7.9"/><circle cx="1445.7" cy="645.1" r="7.9"/><circle cx="1447" cy="651.5" r="7.9"/><circle cx="1437.4" cy="789" r="7.9"/><circle cx="1450.5" cy="675.2" r="7.9"/><circle cx="1462.7" cy="661.7" r="7.9"/><circle cx="1468.3" cy="695.2" r="7.9"/><circle cx="1454.8" cy="679.2" r="7.9"/><circle cx="1477.2" cy="670.8" r="7.9"/><circle cx="1475.8" cy="691.7" r="7.9"/><circle cx="1460.9" cy="614.3" r="7.9"/><circle cx="1453.8" cy="651.6" r="7.9"/><circle cx="1468.1" cy="631" r="7.9"/><circle cx="1464.4" cy="616.9" r="7.9"/><circle cx="1456.9" cy="621.3" r="7.9"/><circle cx="1465.6" cy="612.3" r="7.9"/><circle cx="1474.3" cy="647.9" r="7.9"/><circle cx="1472" cy="657.2" r="7.9"/><circle cx="1476.7" cy="661.8" r="7.9"/><circle cx="1473.4" cy="604.6" r="7.9"/><circle cx="1472.5" cy="626.9" r="7.9"/><circle cx="1466" cy="624.2" r="7.9"/><circle cx="1471.5" cy="654.1" r="7.9"/><circle cx="1456.2" cy="671.5" r="7.9"/><circle cx="1477.6" cy="601.9" r="7.9"/><circle cx="1458" cy="675.3" r="7.9"/><circle cx="1454.2" cy="674.7" r="7.9"/><circle cx="1460" cy="696" r="7.9"/><circle cx="1454.6" cy="618" r="7.9"/><circle cx="1471.6" cy="672.9" r="7.9"/><circle cx="1455.5" cy="677.8" r="7.9"/><circle cx="1470.6" cy="684.2" r="7.9"/><circle cx="1464.7" cy="681.6" r="7.9"/><circle cx="1461.8" cy="700.7" r="7.9"/><circle cx="1464" cy="600.9" r="7.9"/><circle cx="1464.6" cy="739" r="7.9"/><circle cx="1466" cy="667.1" r="7.9"/><circle cx="1476.3" cy="660" r="7.9"/><circle cx="1467" cy="685.6" r="7.9"/><circle cx="1474.7" cy="671.2" r="7.9"/><circle cx="1472.8" cy="670" r="7.9"/><circle cx="1476" cy="577.8" r="7.9"/><circle cx="1476" cy="701" r="7.9"/><circle cx="1467.1" cy="626.7" r="7.9"/><circle cx="1457.4" cy="722.9" r="7.9"/><circle cx="1466" cy="612.3" r="7.9"/><circle cx="1467" cy="629.6" r="7.9"/><circle cx="1468.9" cy="621.5" r="7.9"/><circle cx="1479.1" cy="719.4" r="7.9"/><circle cx="1467.7" cy="640.4" r="7.9"/><circle cx="1476.7" cy="721.2" r="7.9"/><circle cx="1463.7" cy="685.9" r="7.9"/><circle cx="1457.4" cy="697.2" r="7.9"/><circle cx="1459.9" cy="666.1" r="7.9"/><circle cx="1475.4" cy="607.2" r="7.9"/><circle cx="1460.1" cy="611.1" r="7.9"/><circle cx="1454.7" cy="674.2" r="7.9"/><circle cx="1461" cy="641.4" r="7.9"/><circle cx="1458.9" cy="721.6" r="7.9"/><circle cx="1455.1" cy="634.7" r="7.9"/><circle cx="1464" cy="661.2" r="7.9"/><circle cx="1466.3" cy="654.7" r="7.9"/><circle cx="1455.3" cy="719.5" r="7.9"/><circle cx="1455.1" cy="661.7" r="7.9"/><circle cx="1455.2" cy="666.1" r="7.9"/><circle cx="1470.7" cy="692.8" r="7.9"/><circle cx="1467.5" cy="594.4" r="7.9"/><circle cx="1477.5" cy="622.9" r="7.9"/><circle cx="1460.2" cy="710.2" r="7.9"/><circle cx="1476.5" cy="676.9" r="7.9"/><circle cx="1455.4" cy="648.8" r="7.9"/><circle cx="1460.5" cy="630.4" r="7.9"/><circle cx="1465.5" cy="610.3" r="7.9"/><circle cx="1471.3" cy="671.4" r="7.9"/><circle cx="1471.6" cy="713.7" r="7.9"/><circle cx="1472.1" cy="718.3" r="7.9"/><circle cx="1460.4" cy="630.3" r="7.9"/><circle cx="1474.4" cy="662.5" r="7.9"/><circle cx="1479.3" cy="617.9" r="7.9"/><circle cx="1457.5" cy="646" r="7.9"/><circle cx="1469.6" cy="655.5" r="7.9"/><circle cx="1459.3" cy="708.2" r="7.9"/><circle cx="1464.1" cy="765.2" r="7.9"/><circle cx="1470.6" cy="710.3" r="7.9"/><circle cx="1464.9" cy="650.3" r="7.9"/><circle cx="1459.4" cy="773" r="7.9"/><circle cx="1475.8" cy="660.7" r="7.9"/><circle cx="1479.1" cy="704" r="7.9"/><circle cx="1475.1" cy="696.7" r="7.9"/><circle cx="1473.9" cy="705.4" r="7.9"/><circle cx="1462.7" cy="670.3" r="7.9"/><circle cx="1478.3" cy="588.4" r="7.9"/><circle cx="1479.2" cy="624" r="7.9"/><circle cx="1458.1" cy="667.8" r="7.9"/><circle cx="1474.8" cy="662" r="7.9"/><circle cx="1466.8" cy="681.2" r="7.9"/><circle cx="1453.7" cy="696.4" r="7.9"/><circle cx="1479.5" cy="602.3" r="7.9"/><circle cx="1463.4" cy="609.1" r="7.9"/><circle cx="1459.6" cy="659.1" r="7.9"/><circle cx="1469" cy="720.8" r="7.9"/><circle cx="1476" cy="683.6" r="7.9"/><circle cx="1471" cy="642.7" r="7.9"/><circle cx="1457.2" cy="657.6" r="7.9"/><circle cx="1473.7" cy="710.7" r="7.9"/><circle cx="1456.2" cy="693" r="7.9"/><circle cx="1470.6" cy="741.1" r="7.9"/><circle cx="1464.4" cy="644.8" r="7.9"/><circle cx="1461" cy="600.1" r="7.9"/><circle cx="1466.4" cy="678.1" r="7.9"/><circle cx="1476.5" cy="676.6" r="7.9"/><circle cx="1470.2" cy="640.7" r="7.9"/><circle cx="1467.3" cy="728.6" r="7.9"/><circle cx="1471.4" cy="668.2" r="7.9"/><circle cx="1472.1" cy="605.3" r="7.9"/><circle cx="1465.6" cy="709.4" r="7.9"/><circle cx="1471.9" cy="642.3" r="7.9"/><circle cx="1465.5" cy="628.7" r="7.9"/><circle cx="1459.6" cy="623.2" r="7.9"/><circle cx="1471.3" cy="648.8" r="7.9"/><circle cx="1470.4" cy="656.5" r="7.9"/><circle cx="1457.5" cy="633.7" r="7.9"/><circle cx="1459.8" cy="610.3" r="7.9"/><circle cx="1461.8" cy="657.2" r="7.9"/><circle cx="1462.4" cy="729.5" r="7.9"/><circle cx="1465.7" cy="695.1" r="7.9"/><circle cx="1455.8" cy="714.9" r="7.9"/><circle cx="1459.1" cy="694.1" r="7.9"/><circle cx="1458.9" cy="658.9" r="7.9"/><circle cx="1457.6" cy="738.8" r="7.9"/><circle cx="1455.7" cy="694.6" r="7.9"/><circle cx="1468.7" cy="642.7" r="7.9"/><circle cx="1474.8" cy="600" r="7.9"/><circle cx="1458.3" cy="656.3" r="7.9"/><circle cx="1463.7" cy="687.4" r="7.9"/><circle cx="1474.1" cy="650.9" r="7.9"/><circle cx="1458.2" cy="631" r="7.9"/><circle cx="1458.9" cy="723.9" r="7.9"/><circle cx="1474.9" cy="683.6" r="7.9"/><circle cx="1469.3" cy="620.3" r="7.9"/><circle cx="1459.3" cy="606.6" r="7.9"/><circle cx="1455.8" cy="638.6" r="7.9"/><circle cx="1459.7" cy="639.9" r="7.9"/><circle cx="1458.3" cy="650.8" r="7.9"/><circle cx="1456.3" cy="674.8" r="7.9"/><circle cx="1483.6" cy="702.5" r="7.9"/><circle cx="1480.7" cy="677" r="7.9"/><circle cx="1483" cy="635.3" r="7.9"/><circle cx="1502.1" cy="653.4" r="7.9"/><circle cx="1493.4" cy="621.8" r="7.9"/><circle cx="1493.9" cy="708" r="7.9"/><circle cx="1490.7" cy="722" r="7.9"/><circle cx="1480.3" cy="635.4" r="7.9"/><circle cx="1495.5" cy="725.7" r="7.9"/><circle cx="1500.8" cy="629.9" r="7.9"/><circle cx="1498.8" cy="586.7" r="7.9"/><circle cx="1493.5" cy="627" r="7.9"/><circle cx="1484.1" cy="659.7" r="7.9"/><circle cx="1484.4" cy="583.2" r="7.9"/><circle cx="1488.7" cy="645.4" r="7.9"/><circle cx="1496.3" cy="575.8" r="7.9"/><circle cx="1501" cy="687.5" r="7.9"/><circle cx="1487.7" cy="696.4" r="7.9"/><circle cx="1481.2" cy="673.4" r="7.9"/><circle cx="1501.8" cy="766.7" r="7.9"/><circle cx="1488.6" cy="705.3" r="7.9"/><circle cx="1495.8" cy="639.2" r="7.9"/><circle cx="1487" cy="698.6" r="7.9"/><circle cx="1485.8" cy="704" r="7.9"/><circle cx="1498.9" cy="588" r="7.9"/><circle cx="1504.2" cy="699.2" r="7.9"/><circle cx="1504.6" cy="692.9" r="7.9"/><circle cx="1503.8" cy="580" r="7.9"/><circle cx="1503.3" cy="548.5" r="7.9"/><circle cx="1484" cy="707.8" r="7.9"/><circle cx="1485.5" cy="588.8" r="7.9"/><circle cx="1485.7" cy="653.2" r="7.9"/><circle cx="1493.3" cy="674.6" r="7.9"/><circle cx="1493.9" cy="591.5" r="7.9"/><circle cx="1494.7" cy="680.9" r="7.9"/><circle cx="1501.4" cy="580.1" r="7.9"/><circle cx="1501.4" cy="593.8" r="7.9"/><circle cx="1498" cy="669.5" r="7.9"/><circle cx="1488.5" cy="591.7" r="7.9"/><circle cx="1486.3" cy="582.1" r="7.9"/><circle cx="1490.5" cy="599.3" r="7.9"/><circle cx="1496" cy="560.6" r="7.9"/><circle cx="1498.5" cy="649" r="7.9"/><circle cx="1492.5" cy="699.1" r="7.9"/><circle cx="1485.2" cy="595.7" r="7.9"/><circle cx="1485.2" cy="583" r="7.9"/><circle cx="1495.8" cy="553" r="7.9"/><circle cx="1503.9" cy="658.6" r="7.9"/><circle cx="1489.1" cy="547" r="7.9"/><circle cx="1490.7" cy="655.6" r="7.9"/><circle cx="1489.3" cy="662.6" r="7.9"/><circle cx="1499" cy="601" r="7.9"/><circle cx="1498" cy="644.8" r="7.9"/><circle cx="1494.7" cy="587.4" r="7.9"/><circle cx="1487.9" cy="739.3" r="7.9"/><circle cx="1483.4" cy="694.8" r="7.9"/><circle cx="1483.1" cy="657.4" r="7.9"/><circle cx="1486.8" cy="706.2" r="7.9"/><circle cx="1481" cy="641.2" r="7.9"/><circle cx="1496.2" cy="658.3" r="7.9"/><circle cx="1505.3" cy="655.9" r="7.9"/><circle cx="1500" cy="611.1" r="7.9"/><circle cx="1503.3" cy="631.3" r="7.9"/><circle cx="1481.5" cy="512.4" r="7.9"/><circle cx="1481.2" cy="627" r="7.9"/><circle cx="1483.2" cy="585.7" r="7.9"/><circle cx="1503.8" cy="737.4" r="7.9"/><circle cx="1491.7" cy="603.2" r="7.9"/><circle cx="1498.5" cy="727.9" r="7.9"/><circle cx="1496" cy="717.6" r="7.9"/><circle cx="1498.9" cy="655.6" r="7.9"/><circle cx="1494.4" cy="661.2" r="7.9"/><circle cx="1501.1" cy="630.3" r="7.9"/><circle cx="1491.8" cy="631.1" r="7.9"/><circle cx="1495.9" cy="690.1" r="7.9"/><circle cx="1482.4" cy="603" r="7.9"/><circle cx="1494.9" cy="593.6" r="7.9"/><circle cx="1485.6" cy="650.3" r="7.9"/><circle cx="1481.9" cy="631.9" r="7.9"/><circle cx="1483.4" cy="680.2" r="7.9"/><circle cx="1502.7" cy="682.9" r="7.9"/><circle cx="1488.6" cy="694.9" r="7.9"/><circle cx="1490" cy="687.1" r="7.9"/><circle cx="1487.2" cy="718.2" r="7.9"/><circle cx="1501.2" cy="698" r="7.9"/><circle cx="1503.7" cy="678.9" r="7.9"/><circle cx="1502.8" cy="696.3" r="7.9"/><circle cx="1488.2" cy="695.8" r="7.9"/><circle cx="1493.7" cy="588.3" r="7.9"/><circle cx="1497.2" cy="595.2" r="7.9"/><circle cx="1499.1" cy="642" r="7.9"/><circle cx="1497.8" cy="601" r="7.9"/><circle cx="1500.7" cy="683.7" r="7.9"/><circle cx="1488.4" cy="584.7" r="7.9"/><circle cx="1503.9" cy="683.7" r="7.9"/><circle cx="1494.9" cy="563.7" r="7.9"/><circle cx="1481" cy="700.3" r="7.9"/><circle cx="1503.5" cy="713.9" r="7.9"/><circle cx="1504.7" cy="645.1" r="7.9"/><circle cx="1483.9" cy="701.3" r="7.9"/><circle cx="1484.2" cy="717.9" r="7.9"/><circle cx="1489.9" cy="682.8" r="7.9"/><circle cx="1483.1" cy="694" r="7.9"/><circle cx="1494.6" cy="673" r="7.9"/><circle cx="1493.7" cy="664.1" r="7.9"/><circle cx="1480.7" cy="612" r="7.9"/><circle cx="1493.8" cy="731.9" r="7.9"/><circle cx="1491.7" cy="778.8" r="7.9"/><circle cx="1486.1" cy="753.1" r="7.9"/><circle cx="1485.4" cy="621.7" r="7.9"/><circle cx="1497.1" cy="686.9" r="7.9"/><circle cx="1495.8" cy="693.5" r="7.9"/><circle cx="1480.7" cy="619.5" r="7.9"/><circle cx="1484.2" cy="662.1" r="7.9"/><circle cx="1491.8" cy="594.9" r="7.9"/><circle cx="1496.1" cy="556.8" r="7.9"/><circle cx="1499.9" cy="718.6" r="7.9"/><circle cx="1499.7" cy="681.8" r="7.9"/><circle cx="1498.4" cy="694.9" r="7.9"/><circle cx="1481.9" cy="698.7" r="7.9"/><circle cx="1505" cy="638.8" r="7.9"/><circle cx="1504.7" cy="539.3" r="7.9"/><circle cx="1491.3" cy="609.8" r="7.9"/><circle cx="1497.7" cy="692.9" r="7.9"/><circle cx="1484.5" cy="695.9" r="7.9"/><circle cx="1487.7" cy="640.6" r="7.9"/><circle cx="1482.6" cy="590.6" r="7.9"/><circle cx="1503.2" cy="679.4" r="7.9"/><circle cx="1488.8" cy="606.4" r="7.9"/><circle cx="1482.7" cy="699.2" r="7.9"/><circle cx="1496.1" cy="697.9" r="7.9"/><circle cx="1494.3" cy="596.9" r="7.9"/><circle cx="1494.7" cy="676.6" r="7.9"/><circle cx="1502.7" cy="723.2" r="7.9"/><circle cx="1498.2" cy="597.7" r="7.9"/><circle cx="1482.8" cy="749.5" r="7.9"/><circle cx="1485" cy="705.7" r="7.9"/><circle cx="1490.9" cy="627.2" r="7.9"/><circle cx="1504.6" cy="548.7" r="7.9"/><circle cx="1490.3" cy="677.4" r="7.9"/><circle cx="1502.3" cy="651.5" r="7.9"/><circle cx="1488.5" cy="699.4" r="7.9"/><circle cx="1486.1" cy="587.5" r="7.9"/><circle cx="1480.2" cy="650.3" r="7.9"/><circle cx="1484.5" cy="603.9" r="7.9"/><circle cx="1488" cy="597.9" r="7.9"/><circle cx="1492.1" cy="613.9" r="7.9"/><circle cx="1499.1" cy="690.2" r="7.9"/><circle cx="1483.9" cy="690.4" r="7.9"/><circle cx="1480.1" cy="587.5" r="7.9"/><circle cx="1496.8" cy="705.3" r="7.9"/><circle cx="1480.7" cy="665.2" r="7.9"/><circle cx="1482.7" cy="702.4" r="7.9"/><circle cx="1482.8" cy="639.9" r="7.9"/><circle cx="1500.5" cy="672.3" r="7.9"/><circle cx="1502.5" cy="720.2" r="7.9"/><circle cx="1483.9" cy="705.4" r="7.9"/><circle cx="1489.7" cy="705.1" r="7.9"/><circle cx="1494.3" cy="657.1" r="7.9"/><circle cx="1485.9" cy="562.4" r="7.9"/><circle cx="1500.8" cy="673.2" r="7.9"/><circle cx="1491.4" cy="553.1" r="7.9"/><circle cx="1484.6" cy="716.9" r="7.9"/><circle cx="1494.9" cy="694.9" r="7.9"/><circle cx="1487.4" cy="700.7" r="7.9"/><circle cx="1484.4" cy="679" r="7.9"/><circle cx="1497.4" cy="601.8" r="7.9"/><circle cx="1488.8" cy="632.2" r="7.9"/><circle cx="1504.4" cy="606.3" r="7.9"/><circle cx="1486" cy="593.1" r="7.9"/><circle cx="1499.6" cy="683.3" r="7.9"/><circle cx="1501.9" cy="714.6" r="7.9"/><circle cx="1483.1" cy="601.1" r="7.9"/><circle cx="1484.8" cy="700.2" r="7.9"/><circle cx="1497.1" cy="697.7" r="7.9"/><circle cx="1496.9" cy="618.8" r="7.9"/><circle cx="1504.8" cy="664.1" r="7.9"/><circle cx="1504.4" cy="611.1" r="7.9"/><circle cx="1500.4" cy="585.3" r="7.9"/><circle cx="1501.8" cy="603" r="7.9"/><circle cx="1492.5" cy="677.9" r="7.9"/><circle cx="1484.5" cy="673.5" r="7.9"/><circle cx="1496.3" cy="661.3" r="7.9"/><circle cx="1496" cy="669.5" r="7.9"/><circle cx="1482.4" cy="636.9" r="7.9"/><circle cx="1502.7" cy="653" r="7.9"/><circle cx="1505.2" cy="691.6" r="7.9"/><circle cx="1482.5" cy="680.2" r="7.9"/><circle cx="1497.6" cy="679.2" r="7.9"/><circle cx="1499.9" cy="722.5" r="7.9"/><circle cx="1495.7" cy="712.6" r="7.9"/><circle cx="1491.2" cy="635.4" r="7.9"/><circle cx="1490.1" cy="562.6" r="7.9"/><circle cx="1487.9" cy="667.3" r="7.9"/><circle cx="1489" cy="651.7" r="7.9"/><circle cx="1492.3" cy="614.9" r="7.9"/><circle cx="1492.5" cy="647" r="7.9"/><circle cx="1495" cy="601.5" r="7.9"/><circle cx="1493.8" cy="670.3" r="7.9"/><circle cx="1480.8" cy="579" r="7.9"/><circle cx="1504.8" cy="672.3" r="7.9"/><circle cx="1494.3" cy="678.2" r="7.9"/><circle cx="1497.9" cy="634.8" r="7.9"/><circle cx="1501.5" cy="583.4" r="7.9"/><circle cx="1492.3" cy="599" r="7.9"/><circle cx="1513.7" cy="681.2" r="7.9"/><circle cx="1531" cy="634.4" r="7.9"/><circle cx="1515.5" cy="637.8" r="7.9"/><circle cx="1530.7" cy="626.8" r="7.9"/><circle cx="1518.9" cy="576.2" r="7.9"/><circle cx="1522.6" cy="595.1" r="7.9"/><circle cx="1512.8" cy="568.8" r="7.9"/><circle cx="1513.2" cy="759.1" r="7.9"/><circle cx="1506.9" cy="697.7" r="7.9"/><circle cx="1517.7" cy="623.8" r="7.9"/><circle cx="1510" cy="679.8" r="7.9"/><circle cx="1519.1" cy="569.5" r="7.9"/><circle cx="1517.6" cy="723.8" r="7.9"/><circle cx="1528.2" cy="618.4" r="7.9"/><circle cx="1528.8" cy="579.2" r="7.9"/><circle cx="1525.4" cy="623.2" r="7.9"/><circle cx="1516.3" cy="683.2" r="7.9"/><circle cx="1523.3" cy="683.9" r="7.9"/><circle cx="1524.6" cy="674.1" r="7.9"/><circle cx="1531.1" cy="663.3" r="7.9"/><circle cx="1516.3" cy="682.1" r="7.9"/><circle cx="1510.6" cy="721.5" r="7.9"/><circle cx="1510.3" cy="618.1" r="7.9"/><circle cx="1518.6" cy="626" r="7.9"/><circle cx="1509.5" cy="618.8" r="7.9"/><circle cx="1528.8" cy="599.1" r="7.9"/><circle cx="1523.5" cy="665" r="7.9"/><circle cx="1529.6" cy="662.8" r="7.9"/><circle cx="1522.3" cy="576.8" r="7.9"/><circle cx="1517.2" cy="552.5" r="7.9"/><circle cx="1525.2" cy="664.1" r="7.9"/><circle cx="1510.2" cy="634.4" r="7.9"/><circle cx="1522.9" cy="625.9" r="7.9"/><circle cx="1521.1" cy="614.1" r="7.9"/><circle cx="1510.4" cy="665.2" r="7.9"/><circle cx="1527.1" cy="617.9" r="7.9"/><circle cx="1523.5" cy="673" r="7.9"/><circle cx="1528.8" cy="588.9" r="7.9"/><circle cx="1530.7" cy="667.2" r="7.9"/><circle cx="1525.7" cy="619.9" r="7.9"/><circle cx="1524.1" cy="591" r="7.9"/><circle cx="1519.7" cy="713.5" r="7.9"/><circle cx="1508" cy="618.3" r="7.9"/><circle cx="1505.7" cy="635.6" r="7.9"/><circle cx="1523.2" cy="586.7" r="7.9"/><circle cx="1530.3" cy="631.1" r="7.9"/><circle cx="1521.2" cy="712.1" r="7.9"/><circle cx="1506" cy="637.8" r="7.9"/><circle cx="1511.5" cy="594.2" r="7.9"/><circle cx="1517" cy="680.7" r="7.9"/><circle cx="1518.3" cy="689.4" r="7.9"/><circle cx="1523.1" cy="543.5" r="7.9"/><circle cx="1521.7" cy="527.5" r="7.9"/><circle cx="1523.3" cy="627.6" r="7.9"/><circle cx="1530.8" cy="568.9" r="7.9"/><circle cx="1525.7" cy="672.3" r="7.9"/><circle cx="1519.7" cy="560.4" r="7.9"/><circle cx="1523.8" cy="803.7" r="7.9"/><circle cx="1520.9" cy="614.9" r="7.9"/><circle cx="1516.4" cy="644.5" r="7.9"/><circle cx="1512.5" cy="689.3" r="7.9"/><circle cx="1510.7" cy="660.2" r="7.9"/><circle cx="1527.2" cy="672.1" r="7.9"/><circle cx="1527.5" cy="634.5" r="7.9"/><circle cx="1513.8" cy="589.8" r="7.9"/><circle cx="1530.6" cy="606.4" r="7.9"/><circle cx="1516.8" cy="624" r="7.9"/><circle cx="1513.8" cy="593.8" r="7.9"/><circle cx="1531" cy="650.6" r="7.9"/><circle cx="1516.3" cy="571.9" r="7.9"/><circle cx="1519.7" cy="688" r="7.9"/><circle cx="1529.4" cy="681.5" r="7.9"/><circle cx="1526.9" cy="577.1" r="7.9"/><circle cx="1530.7" cy="619" r="7.9"/><circle cx="1516.9" cy="611.1" r="7.9"/><circle cx="1530" cy="528.3" r="7.9"/><circle cx="1519.1" cy="535.8" r="7.9"/><circle cx="1515.4" cy="605.4" r="7.9"/><circle cx="1508.8" cy="668.1" r="7.9"/><circle cx="1530" cy="646.1" r="7.9"/><circle cx="1526.5" cy="629.2" r="7.9"/><circle cx="1509.3" cy="703.3" r="7.9"/><circle cx="1512" cy="655.9" r="7.9"/><circle cx="1507.4" cy="596.7" r="7.9"/><circle cx="1510.1" cy="645.1" r="7.9"/><circle cx="1519.7" cy="571.4" r="7.9"/><circle cx="1520" cy="550.6" r="7.9"/><circle cx="1511.3" cy="524.8" r="7.9"/><circle cx="1521.1" cy="590.3" r="7.9"/><circle cx="1530" cy="684" r="7.9"/><circle cx="1518.9" cy="548.4" r="7.9"/><circle cx="1522.9" cy="529.1" r="7.9"/><circle cx="1511.3" cy="646.5" r="7.9"/><circle cx="1525.9" cy="701.6" r="7.9"/><circle cx="1522.6" cy="600.6" r="7.9"/><circle cx="1529.2" cy="520.3" r="7.9"/><circle cx="1507.3" cy="658.6" r="7.9"/><circle cx="1518.3" cy="610.8" r="7.9"/><circle cx="1521.6" cy="683.8" r="7.9"/><circle cx="1528.6" cy="561.9" r="7.9"/><circle cx="1523" cy="645.3" r="7.9"/><circle cx="1517.4" cy="594" r="7.9"/><circle cx="1525.6" cy="642.7" r="7.9"/><circle cx="1516.8" cy="575.6" r="7.9"/><circle cx="1520.4" cy="686.1" r="7.9"/><circle cx="1520.9" cy="603.1" r="7.9"/><circle cx="1507.5" cy="687.6" r="7.9"/><circle cx="1520.2" cy="638.8" r="7.9"/><circle cx="1509.3" cy="555.9" r="7.9"/><circle cx="1518.1" cy="536.4" r="7.9"/><circle cx="1515.6" cy="653.6" r="7.9"/><circle cx="1509" cy="601.5" r="7.9"/><circle cx="1519.9" cy="677.2" r="7.9"/><circle cx="1529.6" cy="627.6" r="7.9"/><circle cx="1523.4" cy="695.3" r="7.9"/><circle cx="1509.4" cy="664.5" r="7.9"/><circle cx="1509" cy="683.6" r="7.9"/><circle cx="1517.1" cy="543.5" r="7.9"/><circle cx="1529.4" cy="571.7" r="7.9"/><circle cx="1523.2" cy="605.4" r="7.9"/><circle cx="1526" cy="647.5" r="7.9"/><circle cx="1523.4" cy="689.3" r="7.9"/><circle cx="1512.4" cy="654.1" r="7.9"/><circle cx="1524.9" cy="615.8" r="7.9"/><circle cx="1511.9" cy="528.8" r="7.9"/><circle cx="1519.6" cy="609.9" r="7.9"/><circle cx="1521.8" cy="684.3" r="7.9"/><circle cx="1515.1" cy="546.6" r="7.9"/><circle cx="1506.5" cy="671.1" r="7.9"/><circle cx="1525.4" cy="662.9" r="7.9"/><circle cx="1528.5" cy="541.4" r="7.9"/><circle cx="1517.9" cy="560.3" r="7.9"/><circle cx="1515.7" cy="583.9" r="7.9"/><circle cx="1517.8" cy="536.1" r="7.9"/><circle cx="1528.4" cy="578" r="7.9"/><circle cx="1511.2" cy="643.7" r="7.9"/><circle cx="1517.1" cy="515.2" r="7.9"/><circle cx="1514.7" cy="561.1" r="7.9"/><circle cx="1517.7" cy="638.5" r="7.9"/><circle cx="1525.1" cy="544.4" r="7.9"/><circle cx="1517.8" cy="688.2" r="7.9"/><circle cx="1529.2" cy="534.4" r="7.9"/><circle cx="1519.1" cy="670.7" r="7.9"/><circle cx="1505.8" cy="704.7" r="7.9"/><circle cx="1508.4" cy="644.7" r="7.9"/><circle cx="1524.8" cy="558.5" r="7.9"/><circle cx="1526.2" cy="616.6" r="7.9"/><circle cx="1520.4" cy="635" r="7.9"/><circle cx="1516.6" cy="673.3" r="7.9"/><circle cx="1520.7" cy="644.9" r="7.9"/><circle cx="1507.3" cy="649.1" r="7.9"/><circle cx="1510.1" cy="617.5" r="7.9"/><circle cx="1517.4" cy="730.7" r="7.9"/><circle cx="1524.4" cy="648.5" r="7.9"/><circle cx="1516.8" cy="626.7" r="7.9"/><circle cx="1528.2" cy="560.6" r="7.9"/><circle cx="1518.9" cy="740.4" r="7.9"/><circle cx="1521.8" cy="603" r="7.9"/><circle cx="1512" cy="607.1" r="7.9"/><circle cx="1515.6" cy="645.2" r="7.9"/><circle cx="1527.1" cy="616.6" r="7.9"/><circle cx="1517.5" cy="705.9" r="7.9"/><circle cx="1511.5" cy="653.9" r="7.9"/><circle cx="1506" cy="587.4" r="7.9"/><circle cx="1522.3" cy="690.8" r="7.9"/><circle cx="1531.1" cy="612.9" r="7.9"/><circle cx="1523.5" cy="579.2" r="7.9"/><circle cx="1506.8" cy="605.9" r="7.9"/><circle cx="1525.5" cy="568.5" r="7.9"/><circle cx="1514.3" cy="641.3" r="7.9"/><circle cx="1520.7" cy="630.5" r="7.9"/><circle cx="1505.6" cy="584" r="7.9"/><circle cx="1521.7" cy="664.2" r="7.9"/><circle cx="1507.3" cy="572.9" r="7.9"/><circle cx="1514.7" cy="568.7" r="7.9"/><circle cx="1526.4" cy="581.3" r="7.9"/><circle cx="1507.3" cy="625.4" r="7.9"/><circle cx="1506.7" cy="677.9" r="7.9"/><circle cx="1523.8" cy="591.6" r="7.9"/><circle cx="1521.6" cy="729.3" r="7.9"/><circle cx="1511.4" cy="542.9" r="7.9"/><circle cx="1505.5" cy="652.3" r="7.9"/><circle cx="1526.3" cy="559.7" r="7.9"/><circle cx="1530.1" cy="621.4" r="7.9"/><circle cx="1516.1" cy="613.8" r="7.9"/><circle cx="1507.7" cy="615.7" r="7.9"/><circle cx="1524.3" cy="637.9" r="7.9"/><circle cx="1506.9" cy="604.3" r="7.9"/><circle cx="1514.2" cy="605" r="7.9"/><circle cx="1513.8" cy="621.8" r="7.9"/><circle cx="1507" cy="595.3" r="7.9"/><circle cx="1521.2" cy="566.9" r="7.9"/><circle cx="1525.8" cy="617.7" r="7.9"/><circle cx="1510" cy="678.8" r="7.9"/><circle cx="1506.3" cy="662.7" r="7.9"/><circle cx="1530.3" cy="663.1" r="7.9"/><circle cx="1527.9" cy="463.6" r="7.9"/><circle cx="1512.9" cy="679.1" r="7.9"/><circle cx="1530.4" cy="666.9" r="7.9"/><circle cx="1517" cy="629.1" r="7.9"/><circle cx="1528.4" cy="571.5" r="7.9"/><circle cx="1507.6" cy="649.4" r="7.9"/><circle cx="1506.4" cy="589.1" r="7.9"/><circle cx="1528.3" cy="698.6" r="7.9"/><circle cx="1530.2" cy="570" r="7.9"/><circle cx="1509" cy="712" r="7.9"/><circle cx="1524.4" cy="639.1" r="7.9"/><circle cx="1525.8" cy="562" r="7.9"/><circle cx="1531.1" cy="648" r="7.9"/><circle cx="1511.9" cy="552.3" r="7.9"/><circle cx="1530.3" cy="525.4" r="7.9"/><circle cx="1511.7" cy="639.5" r="7.9"/><circle cx="1523.7" cy="675" r="7.9"/><circle cx="1522" cy="617.9" r="7.9"/><circle cx="1508.3" cy="588.4" r="7.9"/><circle cx="1527.4" cy="628.8" r="7.9"/><circle cx="1516.4" cy="588.2" r="7.9"/><circle cx="1514" cy="631.5" r="7.9"/><circle cx="1522.1" cy="598.1" r="7.9"/><circle cx="1526.7" cy="620.6" r="7.9"/><circle cx="1512.3" cy="618.1" r="7.9"/><circle cx="1515.7" cy="668.9" r="7.9"/><circle cx="1520.3" cy="743.1" r="7.9"/><circle cx="1523.1" cy="635.8" r="7.9"/><circle cx="1507.5" cy="794.9" r="7.9"/><circle cx="1507.7" cy="677.8" r="7.9"/><circle cx="1511.1" cy="586.3" r="7.9"/><circle cx="1520" cy="593.1" r="7.9"/><circle cx="1512.9" cy="552.9" r="7.9"/><circle cx="1515.3" cy="620.9" r="7.9"/><circle cx="1508.6" cy="637.6" r="7.9"/><circle cx="1506.7" cy="681.6" r="7.9"/><circle cx="1527.9" cy="659" r="7.9"/><circle cx="1526.3" cy="578.7" r="7.9"/><circle cx="1505.8" cy="614.7" r="7.9"/><circle cx="1517.4" cy="669" r="7.9"/><circle cx="1508.5" cy="685.1" r="7.9"/><circle cx="1531" cy="566.9" r="7.9"/><circle cx="1516.9" cy="691.9" r="7.9"/><circle cx="1516.2" cy="577.7" r="7.9"/><circle cx="1531.6" cy="616.6" r="7.9"/><circle cx="1542.1" cy="642.5" r="7.9"/><circle cx="1555.4" cy="530.8" r="7.9"/><circle cx="1551.4" cy="592.1" r="7.9"/><circle cx="1539" cy="689.9" r="7.9"/><circle cx="1542.5" cy="628.1" r="7.9"/><circle cx="1553.6" cy="598.3" r="7.9"/><circle cx="1553.2" cy="590.7" r="7.9"/><circle cx="1535.8" cy="537" r="7.9"/><circle cx="1555.6" cy="504.9" r="7.9"/><circle cx="1555.2" cy="650.1" r="7.9"/><circle cx="1541.8" cy="644.6" r="7.9"/><circle cx="1540.8" cy="563.7" r="7.9"/><circle cx="1542.7" cy="618.4" r="7.9"/><circle cx="1534.3" cy="510.9" r="7.9"/><circle cx="1543.2" cy="539.4" r="7.9"/><circle cx="1536.1" cy="555.8" r="7.9"/><circle cx="1538.6" cy="434.3" r="7.9"/><circle cx="1550.3" cy="524.5" r="7.9"/><circle cx="1543.3" cy="532.8" r="7.9"/><circle cx="1543.8" cy="500.5" r="7.9"/><circle cx="1538.5" cy="659.5" r="7.9"/><circle cx="1540.3" cy="645.3" r="7.9"/><circle cx="1548.7" cy="604.7" r="7.9"/><circle cx="1552.6" cy="625.1" r="7.9"/><circle cx="1543.4" cy="533.1" r="7.9"/><circle cx="1550.5" cy="513.9" r="7.9"/><circle cx="1546.2" cy="535.9" r="7.9"/><circle cx="1554.5" cy="493.3" r="7.9"/><circle cx="1533.8" cy="750.8" r="7.9"/><circle cx="1540" cy="545.4" r="7.9"/><circle cx="1553.9" cy="532.9" r="7.9"/><circle cx="1534.9" cy="567.2" r="7.9"/><circle cx="1535.2" cy="598.1" r="7.9"/><circle cx="1533.2" cy="640.9" r="7.9"/><circle cx="1533.7" cy="553.9" r="7.9"/><circle cx="1545.8" cy="598.7" r="7.9"/><circle cx="1553.6" cy="613.3" r="7.9"/><circle cx="1546.4" cy="688.6" r="7.9"/><circle cx="1549.5" cy="548.9" r="7.9"/><circle cx="1556.4" cy="532.7" r="7.9"/><circle cx="1538.8" cy="612.1" r="7.9"/><circle cx="1549.3" cy="542.6" r="7.9"/><circle cx="1554.3" cy="539.1" r="7.9"/><circle cx="1547" cy="548.1" r="7.9"/><circle cx="1531.3" cy="698.3" r="7.9"/><circle cx="1536.1" cy="653.4" r="7.9"/><circle cx="1532.7" cy="612.2" r="7.9"/><circle cx="1549.9" cy="507.4" r="7.9"/><circle cx="1537" cy="551.4" r="7.9"/><circle cx="1553.7" cy="610.9" r="7.9"/><circle cx="1552" cy="676.4" r="7.9"/><circle cx="1545.1" cy="516.2" r="7.9"/><circle cx="1553.6" cy="477.4" r="7.9"/><circle cx="1554.5" cy="632.4" r="7.9"/><circle cx="1536.8" cy="521.4" r="7.9"/><circle cx="1543.1" cy="680.9" r="7.9"/><circle cx="1539.9" cy="620.4" r="7.9"/><circle cx="1544.5" cy="494.6" r="7.9"/><circle cx="1550.8" cy="515.7" r="7.9"/><circle cx="1552.9" cy="693.6" r="7.9"/><circle cx="1534.4" cy="610.3" r="7.9"/><circle cx="1539.8" cy="523.9" r="7.9"/><circle cx="1539.2" cy="684.7" r="7.9"/><circle cx="1534.3" cy="638.3" r="7.9"/><circle cx="1534.6" cy="581.9" r="7.9"/><circle cx="1551.3" cy="643" r="7.9"/><circle cx="1552.3" cy="653.5" r="7.9"/><circle cx="1545.4" cy="541.3" r="7.9"/><circle cx="1545.5" cy="656.4" r="7.9"/><circle cx="1534.4" cy="514.2" r="7.9"/><circle cx="1534.8" cy="557.7" r="7.9"/><circle cx="1546.6" cy="610.3" r="7.9"/><circle cx="1541.9" cy="669.6" r="7.9"/><circle cx="1544.5" cy="590.6" r="7.9"/><circle cx="1551" cy="556" r="7.9"/><circle cx="1546.7" cy="654.3" r="7.9"/><circle cx="1556" cy="478.4" r="7.9"/><circle cx="1541.2" cy="555.7" r="7.9"/><circle cx="1541.3" cy="648.1" r="7.9"/><circle cx="1550" cy="488.5" r="7.9"/><circle cx="1547.7" cy="594.1" r="7.9"/><circle cx="1550.2" cy="629.9" r="7.9"/><circle cx="1550.2" cy="509" r="7.9"/><circle cx="1549.8" cy="551.3" r="7.9"/><circle cx="1538.8" cy="485.4" r="7.9"/><circle cx="1541.1" cy="560.9" r="7.9"/><circle cx="1556.4" cy="681.3" r="7.9"/><circle cx="1549" cy="579.7" r="7.9"/><circle cx="1555.2" cy="484.8" r="7.9"/><circle cx="1553.1" cy="594" r="7.9"/><circle cx="1551.1" cy="627" r="7.9"/><circle cx="1533.7" cy="679.1" r="7.9"/><circle cx="1545.8" cy="491.1" r="7.9"/><circle cx="1551.3" cy="530.2" r="7.9"/><circle cx="1556.2" cy="597.6" r="7.9"/><circle cx="1553.4" cy="617.1" r="7.9"/><circle cx="1553.8" cy="674.5" r="7.9"/><circle cx="1536.1" cy="683.4" r="7.9"/><circle cx="1547.1" cy="484.9" r="7.9"/><circle cx="1546.6" cy="483.8" r="7.9"/><circle cx="1542.4" cy="608.2" r="7.9"/><circle cx="1543" cy="631.3" r="7.9"/><circle cx="1532.7" cy="611.7" r="7.9"/><circle cx="1544.1" cy="661.4" r="7.9"/><circle cx="1552.2" cy="642.4" r="7.9"/><circle cx="1537.3" cy="556.1" r="7.9"/><circle cx="1533.9" cy="579.8" r="7.9"/><circle cx="1533.1" cy="595.6" r="7.9"/><circle cx="1545.7" cy="579.2" r="7.9"/><circle cx="1534.7" cy="656.8" r="7.9"/><circle cx="1545.9" cy="596.5" r="7.9"/><circle cx="1531.8" cy="585.5" r="7.9"/><circle cx="1531.8" cy="712.6" r="7.9"/><circle cx="1549.6" cy="520.5" r="7.9"/><circle cx="1542" cy="604.1" r="7.9"/><circle cx="1552.7" cy="650.2" r="7.9"/><circle cx="1552.2" cy="661.5" r="7.9"/><circle cx="1551.3" cy="569.6" r="7.9"/><circle cx="1547.5" cy="663" r="7.9"/><circle cx="1546.1" cy="530.6" r="7.9"/><circle cx="1545" cy="509.9" r="7.9"/><circle cx="1553.9" cy="488" r="7.9"/><circle cx="1547.1" cy="556.7" r="7.9"/><circle cx="1543.5" cy="620.8" r="7.9"/><circle cx="1547.6" cy="620.4" r="7.9"/><circle cx="1537.5" cy="695.8" r="7.9"/><circle cx="1555.4" cy="564.4" r="7.9"/><circle cx="1547.4" cy="558" r="7.9"/><circle cx="1539.6" cy="662.1" r="7.9"/><circle cx="1553.3" cy="636.4" r="7.9"/><circle cx="1533.1" cy="517.4" r="7.9"/><circle cx="1550.5" cy="515.4" r="7.9"/><circle cx="1532.2" cy="657.3" r="7.9"/><circle cx="1540.7" cy="628.5" r="7.9"/><circle cx="1531.8" cy="697.9" r="7.9"/><circle cx="1534.3" cy="460.3" r="7.9"/><circle cx="1540.7" cy="716.7" r="7.9"/><circle cx="1537.9" cy="601" r="7.9"/><circle cx="1548.5" cy="528.1" r="7.9"/><circle cx="1540.2" cy="595.8" r="7.9"/><circle cx="1555.6" cy="496.8" r="7.9"/><circle cx="1554.7" cy="511.6" r="7.9"/><circle cx="1539.7" cy="649.1" r="7.9"/><circle cx="1541" cy="501.4" r="7.9"/><circle cx="1555.1" cy="540.3" r="7.9"/><circle cx="1541.7" cy="635" r="7.9"/><circle cx="1553" cy="644" r="7.9"/><circle cx="1540.1" cy="664.7" r="7.9"/><circle cx="1552.8" cy="527.7" r="7.9"/><circle cx="1554.5" cy="630.8" r="7.9"/><circle cx="1554.7" cy="601.6" r="7.9"/><circle cx="1544.9" cy="606.4" r="7.9"/><circle cx="1543.8" cy="672.6" r="7.9"/><circle cx="1549.6" cy="501.9" r="7.9"/><circle cx="1542.9" cy="631.9" r="7.9"/><circle cx="1555.6" cy="652.1" r="7.9"/><circle cx="1550.2" cy="571.1" r="7.9"/><circle cx="1546.1" cy="520.5" r="7.9"/><circle cx="1553.3" cy="541.8" r="7.9"/><circle cx="1546.2" cy="656.2" r="7.9"/><circle cx="1531.7" cy="567" r="7.9"/><circle cx="1549.5" cy="647.9" r="7.9"/><circle cx="1553.3" cy="578.6" r="7.9"/><circle cx="1535.6" cy="508.2" r="7.9"/><circle cx="1541.2" cy="600" r="7.9"/><circle cx="1534.9" cy="494.8" r="7.9"/><circle cx="1533.8" cy="613" r="7.9"/><circle cx="1542.6" cy="670.8" r="7.9"/><circle cx="1544.6" cy="518.2" r="7.9"/><circle cx="1548.4" cy="643" r="7.9"/><circle cx="1551.6" cy="611.8" r="7.9"/><circle cx="1540.2" cy="563.9" r="7.9"/><circle cx="1539.1" cy="537.6" r="7.9"/><circle cx="1534.6" cy="664.9" r="7.9"/><circle cx="1554.6" cy="608.1" r="7.9"/><circle cx="1535.8" cy="538.2" r="7.9"/><circle cx="1547.6" cy="585.1" r="7.9"/><circle cx="1543.3" cy="651.9" r="7.9"/><circle cx="1544" cy="662.2" r="7.9"/><circle cx="1549.6" cy="621.1" r="7.9"/><circle cx="1540.6" cy="654.5" r="7.9"/><circle cx="1542.4" cy="574.6" r="7.9"/><circle cx="1551.2" cy="520.7" r="7.9"/><circle cx="1536.6" cy="617.1" r="7.9"/><circle cx="1538.3" cy="594.1" r="7.9"/><circle cx="1554.3" cy="522.5" r="7.9"/><circle cx="1552.5" cy="528.6" r="7.9"/><circle cx="1552.8" cy="530.8" r="7.9"/><circle cx="1533.8" cy="657.7" r="7.9"/><circle cx="1547.9" cy="546.1" r="7.9"/><circle cx="1542.2" cy="686.1" r="7.9"/><circle cx="1537" cy="558.6" r="7.9"/><circle cx="1544.7" cy="625.5" r="7.9"/><circle cx="1549.5" cy="510.8" r="7.9"/><circle cx="1552.3" cy="646.6" r="7.9"/><circle cx="1540.7" cy="510" r="7.9"/><circle cx="1532.2" cy="521.1" r="7.9"/><circle cx="1536.9" cy="456.7" r="7.9"/><circle cx="1532.5" cy="524.5" r="7.9"/><circle cx="1553.3" cy="632.5" r="7.9"/><circle cx="1556.5" cy="668.2" r="7.9"/><circle cx="1535.2" cy="676.6" r="7.9"/><circle cx="1538.2" cy="581.9" r="7.9"/><circle cx="1554.3" cy="552.2" r="7.9"/><circle cx="1533" cy="583.1" r="7.9"/><circle cx="1555.5" cy="514.4" r="7.9"/><circle cx="1544" cy="540.8" r="7.9"/><circle cx="1532.7" cy="672.1" r="7.9"/><circle cx="1546.5" cy="652.7" r="7.9"/><circle cx="1552.8" cy="486.8" r="7.9"/><circle cx="1546.6" cy="575.2" r="7.9"/><circle cx="1539.8" cy="651.1" r="7.9"/><circle cx="1552" cy="584.4" r="7.9"/><circle cx="1550.6" cy="608.6" r="7.9"/><circle cx="1551.1" cy="639.7" r="7.9"/><circle cx="1538.8" cy="638.3" r="7.9"/><circle cx="1536.4" cy="590.6" r="7.9"/><circle cx="1548.3" cy="523" r="7.9"/><circle cx="1538.1" cy="544.8" r="7.9"/><circle cx="1551.3" cy="518.3" r="7.9"/><circle cx="1551.8" cy="490.3" r="7.9"/><circle cx="1555.5" cy="579.2" r="7.9"/><circle cx="1546.5" cy="670.5" r="7.9"/><circle cx="1535" cy="613.6" r="7.9"/><circle cx="1556.3" cy="566.8" r="7.9"/><circle cx="1554.1" cy="590.8" r="7.9"/><circle cx="1538.9" cy="584.2" r="7.9"/><circle cx="1534.3" cy="702.6" r="7.9"/><circle cx="1544.5" cy="639.5" r="7.9"/><circle cx="1556" cy="552.2" r="7.9"/><circle cx="1554.7" cy="560.4" r="7.9"/><circle cx="1544.1" cy="621.1" r="7.9"/><circle cx="1548.9" cy="518.1" r="7.9"/><circle cx="1548.6" cy="559.7" r="7.9"/><circle cx="1547.1" cy="646.3" r="7.9"/><circle cx="1538" cy="577.9" r="7.9"/><circle cx="1542.3" cy="558" r="7.9"/><circle cx="1548.1" cy="695.7" r="7.9"/><circle cx="1541.3" cy="593.9" r="7.9"/><circle cx="1533.9" cy="656.8" r="7.9"/><circle cx="1550.1" cy="645.4" r="7.9"/><circle cx="1549.6" cy="649.2" r="7.9"/><circle cx="1556.3" cy="532.5" r="7.9"/><circle cx="1539.9" cy="615.2" r="7.9"/><circle cx="1555.2" cy="622.2" r="7.9"/><circle cx="1537.4" cy="651.7" r="7.9"/><circle cx="1549.8" cy="463.7" r="7.9"/><circle cx="1537.1" cy="638.7" r="7.9"/><circle cx="1544.4" cy="646.5" r="7.9"/><circle cx="1579.6" cy="613.1" r="7.9"/><circle cx="1559" cy="617.3" r="7.9"/><circle cx="1573.7" cy="513.1" r="7.9"/><circle cx="1557.3" cy="652" r="7.9"/><circle cx="1559.8" cy="513.3" r="7.9"/><circle cx="1560.5" cy="584.6" r="7.9"/><circle cx="1562.1" cy="550.8" r="7.9"/><circle cx="1570.8" cy="683.3" r="7.9"/><circle cx="1561.8" cy="570.4" r="7.9"/><circle cx="1570.4" cy="536.8" r="7.9"/><circle cx="1582.7" cy="463.7" r="7.9"/><circle cx="1567.3" cy="649.7" r="7.9"/><circle cx="1558.4" cy="582.7" r="7.9"/><circle cx="1569.6" cy="677.4" r="7.9"/><circle cx="1564.9" cy="548.2" r="7.9"/><circle cx="1563.4" cy="656.2" r="7.9"/><circle cx="1572.5" cy="517.3" r="7.9"/><circle cx="1564.3" cy="514.6" r="7.9"/><circle cx="1580.2" cy="604.5" r="7.9"/><circle cx="1573.6" cy="504.7" r="7.9"/><circle cx="1568.2" cy="579" r="7.9"/><circle cx="1567" cy="607.7" r="7.9"/><circle cx="1570.2" cy="624.2" r="7.9"/><circle cx="1575.8" cy="622.2" r="7.9"/><circle cx="1560.9" cy="554.6" r="7.9"/><circle cx="1562.1" cy="512.4" r="7.9"/><circle cx="1558.7" cy="626.2" r="7.9"/><circle cx="1573.8" cy="467.7" r="7.9"/><circle cx="1582.7" cy="593.3" r="7.9"/><circle cx="1575.3" cy="577.6" r="7.9"/><circle cx="1576.8" cy="448.4" r="7.9"/><circle cx="1566.1" cy="630.7" r="7.9"/><circle cx="1570.8" cy="543.3" r="7.9"/><circle cx="1580.8" cy="430.1" r="7.9"/><circle cx="1570" cy="441.4" r="7.9"/><circle cx="1567.6" cy="502.1" r="7.9"/><circle cx="1582.9" cy="609.9" r="7.9"/><circle cx="1565.1" cy="564" r="7.9"/><circle cx="1566.6" cy="650.4" r="7.9"/><circle cx="1564" cy="601" r="7.9"/><circle cx="1566.1" cy="445.3" r="7.9"/><circle cx="1562.7" cy="552.2" r="7.9"/><circle cx="1582.7" cy="553.3" r="7.9"/><circle cx="1560.7" cy="630.4" r="7.9"/><circle cx="1558.3" cy="483.1" r="7.9"/><circle cx="1562.4" cy="276" r="7.9"/><circle cx="1581.2" cy="612.3" r="7.9"/><circle cx="1569.7" cy="459.9" r="7.9"/><circle cx="1559.6" cy="593.6" r="7.9"/><circle cx="1563.5" cy="508" r="7.9"/><circle cx="1564.2" cy="719.4" r="7.9"/><circle cx="1573.5" cy="635" r="7.9"/><circle cx="1557.3" cy="462.3" r="7.9"/><circle cx="1579.3" cy="522.7" r="7.9"/><circle cx="1576.2" cy="584.7" r="7.9"/><circle cx="1565.8" cy="627.5" r="7.9"/><circle cx="1568.6" cy="606.1" r="7.9"/><circle cx="1557.6" cy="605.1" r="7.9"/><circle cx="1561.6" cy="589.3" r="7.9"/><circle cx="1582.1" cy="425.9" r="7.9"/><circle cx="1564.1" cy="591.3" r="7.9"/><circle cx="1560.6" cy="524.1" r="7.9"/><circle cx="1576.6" cy="446" r="7.9"/><circle cx="1563.4" cy="577.5" r="7.9"/><circle cx="1582.7" cy="623.2" r="7.9"/><circle cx="1568.8" cy="582.6" r="7.9"/><circle cx="1569.5" cy="547.5" r="7.9"/><circle cx="1577.5" cy="576.8" r="7.9"/><circle cx="1568.5" cy="599" r="7.9"/><circle cx="1572.6" cy="502.2" r="7.9"/><circle cx="1575.2" cy="661.3" r="7.9"/><circle cx="1565.6" cy="617.8" r="7.9"/><circle cx="1578.5" cy="519.6" r="7.9"/><circle cx="1571.5" cy="761.9" r="7.9"/><circle cx="1563.9" cy="583.3" r="7.9"/><circle cx="1576.6" cy="595.4" r="7.9"/><circle cx="1562.5" cy="499.4" r="7.9"/><circle cx="1566.9" cy="523.3" r="7.9"/><circle cx="1561.4" cy="633" r="7.9"/><circle cx="1570.9" cy="460.6" r="7.9"/><circle cx="1559.3" cy="585.6" r="7.9"/><circle cx="1564.2" cy="445" r="7.9"/><circle cx="1582.6" cy="467.9" r="7.9"/><circle cx="1572.5" cy="524.9" r="7.9"/><circle cx="1564.7" cy="629.6" r="7.9"/><circle cx="1573.2" cy="565.3" r="7.9"/><circle cx="1558.6" cy="377.4" r="7.9"/><circle cx="1569.5" cy="521.4" r="7.9"/><circle cx="1569.9" cy="618" r="7.9"/><circle cx="1579.3" cy="637.1" r="7.9"/><circle cx="1578.8" cy="654.8" r="7.9"/><circle cx="1569.7" cy="535" r="7.9"/><circle cx="1575.5" cy="610.3" r="7.9"/><circle cx="1563.7" cy="571.1" r="7.9"/><circle cx="1581.8" cy="512.1" r="7.9"/><circle cx="1574.8" cy="514" r="7.9"/><circle cx="1559.7" cy="604" r="7.9"/><circle cx="1558.6" cy="505.3" r="7.9"/><circle cx="1578" cy="518.9" r="7.9"/><circle cx="1579.9" cy="616.4" r="7.9"/><circle cx="1570.6" cy="277.5" r="7.9"/><circle cx="1565.3" cy="497.9" r="7.9"/><circle cx="1579.8" cy="518.8" r="7.9"/><circle cx="1572.2" cy="494.3" r="7.9"/><circle cx="1569.4" cy="572.5" r="7.9"/><circle cx="1560.5" cy="488.6" r="7.9"/><circle cx="1566.6" cy="508.5" r="7.9"/><circle cx="1565.4" cy="465.1" r="7.9"/><circle cx="1571.7" cy="535" r="7.9"/><circle cx="1568.8" cy="534.7" r="7.9"/><circle cx="1574.9" cy="634.5" r="7.9"/><circle cx="1581.9" cy="620.5" r="7.9"/><circle cx="1559.1" cy="532.9" r="7.9"/><circle cx="1573.4" cy="490" r="7.9"/><circle cx="1564.6" cy="490.1" r="7.9"/><circle cx="1559.5" cy="488" r="7.9"/><circle cx="1572" cy="554.4" r="7.9"/><circle cx="1571.4" cy="460.1" r="7.9"/><circle cx="1572" cy="576.2" r="7.9"/><circle cx="1577.2" cy="544" r="7.9"/><circle cx="1581.8" cy="466.5" r="7.9"/><circle cx="1557.9" cy="562.9" r="7.9"/><circle cx="1577.4" cy="454" r="7.9"/><circle cx="1573.7" cy="628.6" r="7.9"/><circle cx="1573.9" cy="620.8" r="7.9"/><circle cx="1563.5" cy="514.1" r="7.9"/><circle cx="1577.3" cy="554.6" r="7.9"/><circle cx="1565.2" cy="542.5" r="7.9"/><circle cx="1564.2" cy="590.5" r="7.9"/><circle cx="1577.6" cy="481.7" r="7.9"/><circle cx="1578.2" cy="587.6" r="7.9"/><circle cx="1577.8" cy="583.2" r="7.9"/><circle cx="1568.3" cy="485.7" r="7.9"/><circle cx="1569.2" cy="540.2" r="7.9"/><circle cx="1574" cy="642.2" r="7.9"/><circle cx="1576.5" cy="617.4" r="7.9"/><circle cx="1559.7" cy="477.6" r="7.9"/><circle cx="1580.9" cy="456.9" r="7.9"/><circle cx="1572.1" cy="512.8" r="7.9"/><circle cx="1577" cy="604.5" r="7.9"/><circle cx="1561.9" cy="595.5" r="7.9"/><circle cx="1567.6" cy="557.1" r="7.9"/><circle cx="1577.8" cy="478.1" r="7.9"/><circle cx="1579.5" cy="580.4" r="7.9"/><circle cx="1581.5" cy="621.1" r="7.9"/><circle cx="1565.9" cy="528.4" r="7.9"/><circle cx="1576.9" cy="684.4" r="7.9"/><circle cx="1579.6" cy="475.4" r="7.9"/><circle cx="1565.7" cy="591.2" r="7.9"/><circle cx="1575.7" cy="468.8" r="7.9"/><circle cx="1559.3" cy="503.6" r="7.9"/><circle cx="1568.2" cy="514" r="7.9"/><circle cx="1567.6" cy="463" r="7.9"/><circle cx="1560.4" cy="533.2" r="7.9"/><circle cx="1558.8" cy="502.4" r="7.9"/><circle cx="1578.7" cy="589.5" r="7.9"/><circle cx="1579.2" cy="583.6" r="7.9"/><circle cx="1558.8" cy="516.4" r="7.9"/><circle cx="1562.7" cy="718.1" r="7.9"/><circle cx="1573.8" cy="529.9" r="7.9"/><circle cx="1580.5" cy="520.5" r="7.9"/><circle cx="1581.1" cy="499.4" r="7.9"/><circle cx="1570.4" cy="649.8" r="7.9"/><circle cx="1574.1" cy="538" r="7.9"/><circle cx="1574.8" cy="546.4" r="7.9"/><circle cx="1566.6" cy="707.7" r="7.9"/><circle cx="1557.5" cy="521.2" r="7.9"/><circle cx="1566.1" cy="640.4" r="7.9"/><circle cx="1581.3" cy="593" r="7.9"/><circle cx="1577.5" cy="435.9" r="7.9"/><circle cx="1566.3" cy="571" r="7.9"/><circle cx="1565.6" cy="528" r="7.9"/><circle cx="1558.8" cy="656" r="7.9"/><circle cx="1577.6" cy="611.6" r="7.9"/><circle cx="1566.8" cy="584.1" r="7.9"/><circle cx="1581.5" cy="553.6" r="7.9"/><circle cx="1582.2" cy="520" r="7.9"/><circle cx="1568.9" cy="619.2" r="7.9"/><circle cx="1564.9" cy="494.2" r="7.9"/><circle cx="1578.8" cy="573.1" r="7.9"/><circle cx="1582.7" cy="415.4" r="7.9"/><circle cx="1579.9" cy="556.3" r="7.9"/><circle cx="1557.6" cy="643.3" r="7.9"/><circle cx="1567.7" cy="574.4" r="7.9"/><circle cx="1578" cy="536.9" r="7.9"/><circle cx="1580.9" cy="571.1" r="7.9"/><circle cx="1573.4" cy="541.4" r="7.9"/><circle cx="1574.3" cy="531.8" r="7.9"/><circle cx="1561.4" cy="524.6" r="7.9"/><circle cx="1559.9" cy="480.9" r="7.9"/><circle cx="1569.6" cy="499.5" r="7.9"/><circle cx="1569.6" cy="501.4" r="7.9"/><circle cx="1567" cy="510.1" r="7.9"/><circle cx="1582.2" cy="619.7" r="7.9"/><circle cx="1583" cy="489.2" r="7.9"/><circle cx="1582.4" cy="577.4" r="7.9"/><circle cx="1573.6" cy="527.2" r="7.9"/><circle cx="1581.4" cy="473.6" r="7.9"/><circle cx="1580.4" cy="692.7" r="7.9"/><circle cx="1558.2" cy="485.2" r="7.9"/><circle cx="1558.8" cy="665.7" r="7.9"/><circle cx="1580.8" cy="614.2" r="7.9"/><circle cx="1559.7" cy="481.5" r="7.9"/><circle cx="1563" cy="574.6" r="7.9"/><circle cx="1578.8" cy="494.4" r="7.9"/><circle cx="1582.5" cy="590" r="7.9"/><circle cx="1569" cy="661.3" r="7.9"/><circle cx="1581.5" cy="487.1" r="7.9"/><circle cx="1579.9" cy="459.1" r="7.9"/><circle cx="1572.1" cy="450.2" r="7.9"/><circle cx="1581.4" cy="552.6" r="7.9"/><circle cx="1571.1" cy="645.1" r="7.9"/><circle cx="1559.3" cy="630.2" r="7.9"/><circle cx="1560.7" cy="516.7" r="7.9"/><circle cx="1568.1" cy="549.6" r="7.9"/><circle cx="1563.1" cy="470.1" r="7.9"/><circle cx="1569.1" cy="467.9" r="7.9"/><circle cx="1576.8" cy="590.2" r="7.9"/><circle cx="1569.1" cy="618.2" r="7.9"/><circle cx="1562" cy="682.8" r="7.9"/><circle cx="1559.2" cy="692.2" r="7.9"/><circle cx="1579.4" cy="575.2" r="7.9"/><circle cx="1582.7" cy="510.1" r="7.9"/><circle cx="1582.6" cy="521.7" r="7.9"/><circle cx="1558.7" cy="625.2" r="7.9"/><circle cx="1569.8" cy="553.9" r="7.9"/><circle cx="1568.6" cy="595.6" r="7.9"/><circle cx="1576.5" cy="461.6" r="7.9"/><circle cx="1563.9" cy="529.2" r="7.9"/><circle cx="1573.9" cy="467.3" r="7.9"/><circle cx="1560.6" cy="650.7" r="7.9"/><circle cx="1573.2" cy="566.2" r="7.9"/><circle cx="1572.1" cy="601" r="7.9"/><circle cx="1564" cy="532.9" r="7.9"/><circle cx="1569.8" cy="618.7" r="7.9"/><circle cx="1563.6" cy="639.3" r="7.9"/><circle cx="1567.7" cy="569.1" r="7.9"/><circle cx="1563.2" cy="487.2" r="7.9"/><circle cx="1559.6" cy="713.9" r="7.9"/><circle cx="1560.4" cy="564.7" r="7.9"/><circle cx="1579.1" cy="556.1" r="7.9"/><circle cx="1577.3" cy="630.3" r="7.9"/><circle cx="1558.1" cy="576.5" r="7.9"/><circle cx="1568.5" cy="475.1" r="7.9"/><circle cx="1566.6" cy="508.2" r="7.9"/><circle cx="1572.5" cy="454.5" r="7.9"/><circle cx="1580.2" cy="628.5" r="7.9"/><circle cx="1571.2" cy="507.2" r="7.9"/><circle cx="1566.2" cy="596.6" r="7.9"/><circle cx="1557.9" cy="485.6" r="7.9"/><circle cx="1588" cy="702.5" r="7.9"/><circle cx="1603.4" cy="630.1" r="7.9"/><circle cx="1608.4" cy="459.9" r="7.9"/><circle cx="1593.7" cy="634.2" r="7.9"/><circle cx="1587.6" cy="525.5" r="7.9"/><circle cx="1604" cy="565.2" r="7.9"/><circle cx="1605" cy="429" r="7.9"/><circle cx="1594.7" cy="474.3" r="7.9"/><circle cx="1596" cy="536.2" r="7.9"/><circle cx="1590.8" cy="618.8" r="7.9"/><circle cx="1606.3" cy="452.8" r="7.9"/><circle cx="1603.8" cy="601.7" r="7.9"/><circle cx="1607.7" cy="595.7" r="7.9"/><circle cx="1603.5" cy="615.6" r="7.9"/><circle cx="1588.1" cy="605.4" r="7.9"/><circle cx="1596.5" cy="478.4" r="7.9"/><circle cx="1597.4" cy="656.2" r="7.9"/><circle cx="1587.5" cy="444.3" r="7.9"/><circle cx="1588.6" cy="541.8" r="7.9"/><circle cx="1597.7" cy="437.5" r="7.9"/><circle cx="1592.4" cy="631.7" r="7.9"/><circle cx="1599" cy="438.8" r="7.9"/><circle cx="1598.7" cy="578.9" r="7.9"/><circle cx="1601.6" cy="486.8" r="7.9"/><circle cx="1587.5" cy="616.9" r="7.9"/><circle cx="1588.9" cy="453.8" r="7.9"/><circle cx="1592.1" cy="522.2" r="7.9"/><circle cx="1585.5" cy="610.7" r="7.9"/><circle cx="1592.1" cy="492.9" r="7.9"/><circle cx="1597.9" cy="603.3" r="7.9"/><circle cx="1588.2" cy="431.8" r="7.9"/><circle cx="1608" cy="597.7" r="7.9"/><circle cx="1606.8" cy="403.2" r="7.9"/><circle cx="1586.1" cy="491.5" r="7.9"/><circle cx="1584.8" cy="536.7" r="7.9"/><circle cx="1606.1" cy="558.2" r="7.9"/><circle cx="1600.9" cy="497.5" r="7.9"/><circle cx="1607.1" cy="588.9" r="7.9"/><circle cx="1608.4" cy="600.2" r="7.9"/><circle cx="1597.5" cy="578.8" r="7.9"/><circle cx="1600.4" cy="644.5" r="7.9"/><circle cx="1588.3" cy="469.3" r="7.9"/><circle cx="1587.6" cy="443.7" r="7.9"/><circle cx="1603" cy="535.2" r="7.9"/><circle cx="1586.2" cy="628.5" r="7.9"/><circle cx="1596" cy="566.1" r="7.9"/><circle cx="1594.2" cy="555.5" r="7.9"/><circle cx="1598.1" cy="479.1" r="7.9"/><circle cx="1588.5" cy="559.2" r="7.9"/><circle cx="1602.9" cy="533.5" r="7.9"/><circle cx="1608.7" cy="443.7" r="7.9"/><circle cx="1605.4" cy="579.1" r="7.9"/><circle cx="1584.3" cy="569.6" r="7.9"/><circle cx="1601.7" cy="617.1" r="7.9"/><circle cx="1598.1" cy="583.5" r="7.9"/><circle cx="1585.1" cy="598.8" r="7.9"/><circle cx="1605.8" cy="614" r="7.9"/><circle cx="1596.5" cy="622.5" r="7.9"/><circle cx="1595.9" cy="535.7" r="7.9"/><circle cx="1593.5" cy="568.2" r="7.9"/><circle cx="1597.4" cy="591.8" r="7.9"/><circle cx="1597.9" cy="483.2" r="7.9"/><circle cx="1602.6" cy="558" r="7.9"/><circle cx="1592.8" cy="468.4" r="7.9"/><circle cx="1606" cy="449.1" r="7.9"/><circle cx="1604.2" cy="485.4" r="7.9"/><circle cx="1604.8" cy="522.8" r="7.9"/><circle cx="1599.7" cy="559.2" r="7.9"/><circle cx="1599.1" cy="477.7" r="7.9"/><circle cx="1601.4" cy="443.5" r="7.9"/><circle cx="1589.4" cy="495.5" r="7.9"/><circle cx="1597.5" cy="611.5" r="7.9"/><circle cx="1585" cy="465.8" r="7.9"/><circle cx="1586.3" cy="489.8" r="7.9"/><circle cx="1583.4" cy="405.6" r="7.9"/><circle cx="1605.5" cy="593.1" r="7.9"/><circle cx="1592" cy="589.3" r="7.9"/><circle cx="1597.4" cy="516.2" r="7.9"/><circle cx="1600.6" cy="526.8" r="7.9"/><circle cx="1588" cy="551.1" r="7.9"/><circle cx="1602.2" cy="518.4" r="7.9"/><circle cx="1586.5" cy="475.1" r="7.9"/><circle cx="1585.5" cy="614" r="7.9"/><circle cx="1592.1" cy="509" r="7.9"/><circle cx="1585" cy="565.7" r="7.9"/><circle cx="1602.1" cy="577.6" r="7.9"/><circle cx="1596.2" cy="596.4" r="7.9"/><circle cx="1602.5" cy="635.6" r="7.9"/><circle cx="1588.5" cy="593.9" r="7.9"/><circle cx="1607.5" cy="481.1" r="7.9"/><circle cx="1583.8" cy="429.1" r="7.9"/><circle cx="1599.6" cy="522.2" r="7.9"/><circle cx="1601.5" cy="446.7" r="7.9"/><circle cx="1589.2" cy="552.5" r="7.9"/><circle cx="1600.7" cy="531" r="7.9"/><circle cx="1608.6" cy="494.5" r="7.9"/><circle cx="1589.9" cy="648.8" r="7.9"/><circle cx="1598.3" cy="497.2" r="7.9"/><circle cx="1606.7" cy="438.8" r="7.9"/><circle cx="1603.9" cy="421.6" r="7.9"/><circle cx="1586.4" cy="496.6" r="7.9"/><circle cx="1602.1" cy="534.5" r="7.9"/><circle cx="1584.8" cy="580.8" r="7.9"/><circle cx="1587.2" cy="615.4" r="7.9"/><circle cx="1605.9" cy="617.4" r="7.9"/><circle cx="1607.9" cy="487.3" r="7.9"/><circle cx="1591.5" cy="473.7" r="7.9"/><circle cx="1596.8" cy="536.4" r="7.9"/><circle cx="1591.3" cy="623.8" r="7.9"/><circle cx="1606.3" cy="591.2" r="7.9"/><circle cx="1598.3" cy="491" r="7.9"/><circle cx="1607.4" cy="584.6" r="7.9"/><circle cx="1599.9" cy="610.1" r="7.9"/><circle cx="1589.8" cy="627.6" r="7.9"/><circle cx="1585.2" cy="633.1" r="7.9"/><circle cx="1592.3" cy="669.8" r="7.9"/><circle cx="1604.7" cy="663.4" r="7.9"/><circle cx="1607.6" cy="455.5" r="7.9"/><circle cx="1599" cy="538" r="7.9"/><circle cx="1596.9" cy="464.9" r="7.9"/><circle cx="1583.7" cy="456.6" r="7.9"/><circle cx="1596.3" cy="472.1" r="7.9"/><circle cx="1600.2" cy="560.6" r="7.9"/><circle cx="1596.1" cy="564.9" r="7.9"/><circle cx="1603.1" cy="616.7" r="7.9"/><circle cx="1603.2" cy="429.4" r="7.9"/><circle cx="1602.6" cy="491.4" r="7.9"/><circle cx="1601.2" cy="502.4" r="7.9"/><circle cx="1588.8" cy="490.7" r="7.9"/><circle cx="1608.5" cy="487.2" r="7.9"/><circle cx="1595.4" cy="606.7" r="7.9"/><circle cx="1585.9" cy="456.6" r="7.9"/><circle cx="1604" cy="586.1" r="7.9"/><circle cx="1601.5" cy="501.4" r="7.9"/><circle cx="1603.2" cy="445.1" r="7.9"/><circle cx="1590.2" cy="582.1" r="7.9"/><circle cx="1604.3" cy="482.9" r="7.9"/><circle cx="1603.9" cy="558.8" r="7.9"/><circle cx="1609" cy="440.4" r="7.9"/><circle cx="1596.7" cy="456.6" r="7.9"/><circle cx="1603.9" cy="529.6" r="7.9"/><circle cx="1605.3" cy="601.1" r="7.9"/><circle cx="1592.9" cy="453.1" r="7.9"/><circle cx="1587.7" cy="604.4" r="7.9"/><circle cx="1608.9" cy="586.5" r="7.9"/><circle cx="1584.2" cy="552.6" r="7.9"/><circle cx="1592.8" cy="442.4" r="7.9"/><circle cx="1593.3" cy="568.3" r="7.9"/><circle cx="1585.5" cy="468" r="7.9"/><circle cx="1602.2" cy="630.5" r="7.9"/><circle cx="1605.6" cy="595.9" r="7.9"/><circle cx="1606.5" cy="654.4" r="7.9"/><circle cx="1595.7" cy="509.4" r="7.9"/><circle cx="1603" cy="544.9" r="7.9"/><circle cx="1589.2" cy="496.5" r="7.9"/><circle cx="1591.6" cy="624.2" r="7.9"/><circle cx="1596" cy="613.1" r="7.9"/><circle cx="1607.5" cy="548.3" r="7.9"/><circle cx="1585" cy="427.6" r="7.9"/><circle cx="1591.3" cy="593.5" r="7.9"/><circle cx="1597.8" cy="553.6" r="7.9"/><circle cx="1600.6" cy="606.4" r="7.9"/><circle cx="1594.5" cy="600" r="7.9"/><circle cx="1596.1" cy="602" r="7.9"/><circle cx="1606.9" cy="619.9" r="7.9"/><circle cx="1601.6" cy="625.7" r="7.9"/><circle cx="1597.4" cy="635.7" r="7.9"/><circle cx="1603.9" cy="495.5" r="7.9"/><circle cx="1603.9" cy="534.5" r="7.9"/><circle cx="1584.1" cy="595.3" r="7.9"/><circle cx="1591.4" cy="578.2" r="7.9"/><circle cx="1601" cy="512.7" r="7.9"/><circle cx="1599.5" cy="459.7" r="7.9"/><circle cx="1597.7" cy="523.4" r="7.9"/><circle cx="1589.7" cy="576.6" r="7.9"/><circle cx="1591.1" cy="506.4" r="7.9"/><circle cx="1583.8" cy="540.3" r="7.9"/><circle cx="1607.1" cy="508.8" r="7.9"/><circle cx="1603.4" cy="582.9" r="7.9"/><circle cx="1598.7" cy="491.5" r="7.9"/><circle cx="1603.4" cy="541.2" r="7.9"/><circle cx="1605.3" cy="471.7" r="7.9"/><circle cx="1605.6" cy="612.8" r="7.9"/><circle cx="1597.6" cy="459.8" r="7.9"/><circle cx="1589.6" cy="512.4" r="7.9"/><circle cx="1591" cy="559.2" r="7.9"/><circle cx="1607.8" cy="589.7" r="7.9"/><circle cx="1596.5" cy="459.8" r="7.9"/><circle cx="1591.1" cy="562" r="7.9"/><circle cx="1608.1" cy="568.7" r="7.9"/><circle cx="1604.5" cy="577.9" r="7.9"/><circle cx="1597.3" cy="675.1" r="7.9"/><circle cx="1607.3" cy="466.8" r="7.9"/><circle cx="1586.7" cy="656.3" r="7.9"/><circle cx="1585.2" cy="469.9" r="7.9"/><circle cx="1597.7" cy="526.6" r="7.9"/><circle cx="1607.9" cy="523.8" r="7.9"/><circle cx="1585.1" cy="608.2" r="7.9"/><circle cx="1587.4" cy="416.6" r="7.9"/><circle cx="1600.4" cy="637.1" r="7.9"/><circle cx="1606.7" cy="548.1" r="7.9"/><circle cx="1605.5" cy="510.9" r="7.9"/><circle cx="1597.7" cy="615" r="7.9"/><circle cx="1593.4" cy="568.4" r="7.9"/><circle cx="1590.1" cy="492.8" r="7.9"/><circle cx="1592.5" cy="500.5" r="7.9"/><circle cx="1604.8" cy="528" r="7.9"/><circle cx="1607.5" cy="536.2" r="7.9"/><circle cx="1585" cy="502.2" r="7.9"/><circle cx="1595.2" cy="560.1" r="7.9"/><circle cx="1589.8" cy="627" r="7.9"/><circle cx="1598.3" cy="502.1" r="7.9"/><circle cx="1594.7" cy="655.1" r="7.9"/><circle cx="1598.7" cy="562.4" r="7.9"/><circle cx="1587" cy="454.1" r="7.9"/><circle cx="1591" cy="517.5" r="7.9"/><circle cx="1593.6" cy="471.5" r="7.9"/><circle cx="1600.7" cy="545.8" r="7.9"/><circle cx="1596.3" cy="559.8" r="7.9"/><circle cx="1608.3" cy="550" r="7.9"/><circle cx="1614" cy="550.7" r="7.9"/><circle cx="1619.5" cy="437.4" r="7.9"/><circle cx="1623.4" cy="651" r="7.9"/><circle cx="1633.7" cy="624.4" r="7.9"/><circle cx="1626.6" cy="587.3" r="7.9"/><circle cx="1629.6" cy="623.5" r="7.9"/><circle cx="1617.9" cy="579.2" r="7.9"/><circle cx="1612" cy="572.6" r="7.9"/><circle cx="1612" cy="501.8" r="7.9"/><circle cx="1626.1" cy="549.1" r="7.9"/><circle cx="1634.3" cy="576" r="7.9"/><circle cx="1610.6" cy="608.9" r="7.9"/><circle cx="1615.6" cy="570" r="7.9"/><circle cx="1613.4" cy="588.8" r="7.9"/><circle cx="1619.7" cy="442.6" r="7.9"/><circle cx="1620.7" cy="541.9" r="7.9"/><circle cx="1619.2" cy="537.4" r="7.9"/><circle cx="1625.8" cy="485.3" r="7.9"/><circle cx="1622.1" cy="501.6" r="7.9"/><circle cx="1627.4" cy="231" r="7.9"/><circle cx="1630.8" cy="578.4" r="7.9"/><circle cx="1617.6" cy="593.6" r="7.9"/><circle cx="1615.2" cy="552.5" r="7.9"/><circle cx="1610.1" cy="468.2" r="7.9"/><circle cx="1613.7" cy="550.3" r="7.9"/><circle cx="1621.9" cy="429.5" r="7.9"/><circle cx="1620.4" cy="516.8" r="7.9"/><circle cx="1632.4" cy="466.5" r="7.9"/><circle cx="1613.2" cy="633.4" r="7.9"/><circle cx="1618.6" cy="848" r="7.9"/><circle cx="1621.7" cy="454" r="7.9"/><circle cx="1625.5" cy="397.9" r="7.9"/><circle cx="1616.2" cy="503.2" r="7.9"/><circle cx="1612.9" cy="565.1" r="7.9"/><circle cx="1618" cy="455.7" r="7.9"/><circle cx="1629.9" cy="436.2" r="7.9"/><circle cx="1617.8" cy="582" r="7.9"/><circle cx="1626.8" cy="554.7" r="7.9"/><circle cx="1612.9" cy="552.8" r="7.9"/><circle cx="1610.4" cy="590.8" r="7.9"/><circle cx="1631.5" cy="500.3" r="7.9"/><circle cx="1629.3" cy="506.9" r="7.9"/><circle cx="1613.9" cy="497.8" r="7.9"/><circle cx="1611.8" cy="481.4" r="7.9"/><circle cx="1615.2" cy="587.9" r="7.9"/><circle cx="1614.7" cy="470.8" r="7.9"/><circle cx="1621.6" cy="584.8" r="7.9"/><circle cx="1631" cy="552.7" r="7.9"/><circle cx="1620.8" cy="577.7" r="7.9"/><circle cx="1622" cy="619.3" r="7.9"/><circle cx="1629.1" cy="564.2" r="7.9"/><circle cx="1618.2" cy="473.1" r="7.9"/><circle cx="1621.4" cy="569.3" r="7.9"/><circle cx="1613.3" cy="439.1" r="7.9"/><circle cx="1628.4" cy="514.3" r="7.9"/><circle cx="1609.9" cy="447.2" r="7.9"/><circle cx="1634.2" cy="479" r="7.9"/><circle cx="1625.4" cy="429.7" r="7.9"/><circle cx="1609.5" cy="456.5" r="7.9"/><circle cx="1628.6" cy="481.8" r="7.9"/><circle cx="1616.6" cy="514" r="7.9"/><circle cx="1617.5" cy="624.3" r="7.9"/><circle cx="1632.3" cy="475.3" r="7.9"/><circle cx="1615.3" cy="413.3" r="7.9"/><circle cx="1616.9" cy="622.2" r="7.9"/><circle cx="1623.3" cy="583.2" r="7.9"/><circle cx="1631.7" cy="401.5" r="7.9"/><circle cx="1634.5" cy="544.5" r="7.9"/><circle cx="1629.4" cy="406.1" r="7.9"/><circle cx="1626.9" cy="590.5" r="7.9"/><circle cx="1625" cy="557.4" r="7.9"/><circle cx="1613.3" cy="560.3" r="7.9"/><circle cx="1632.4" cy="405.7" r="7.9"/><circle cx="1634.6" cy="539.4" r="7.9"/><circle cx="1613.6" cy="535.2" r="7.9"/><circle cx="1629.6" cy="576" r="7.9"/><circle cx="1632.8" cy="442.3" r="7.9"/><circle cx="1616.6" cy="434.1" r="7.9"/><circle cx="1633.4" cy="583.7" r="7.9"/><circle cx="1634.1" cy="578.2" r="7.9"/><circle cx="1614.5" cy="521" r="7.9"/><circle cx="1615" cy="562.6" r="7.9"/><circle cx="1627.1" cy="555.3" r="7.9"/><circle cx="1624.5" cy="434.2" r="7.9"/><circle cx="1623.4" cy="580.5" r="7.9"/><circle cx="1628.1" cy="549.1" r="7.9"/><circle cx="1619.5" cy="582" r="7.9"/><circle cx="1629.6" cy="471.5" r="7.9"/><circle cx="1629.8" cy="570.5" r="7.9"/><circle cx="1625.1" cy="451.3" r="7.9"/><circle cx="1630" cy="452.8" r="7.9"/><circle cx="1617.2" cy="594.4" r="7.9"/><circle cx="1622.7" cy="560.7" r="7.9"/><circle cx="1632.7" cy="547.7" r="7.9"/><circle cx="1632.1" cy="539.9" r="7.9"/><circle cx="1612.8" cy="551.4" r="7.9"/><circle cx="1628.2" cy="423.3" r="7.9"/><circle cx="1623.2" cy="546.5" r="7.9"/><circle cx="1616.8" cy="591.3" r="7.9"/><circle cx="1609.6" cy="405.9" r="7.9"/><circle cx="1625" cy="439.3" r="7.9"/><circle cx="1633.1" cy="343.2" r="7.9"/><circle cx="1623.2" cy="526.9" r="7.9"/><circle cx="1619.5" cy="450.7" r="7.9"/><circle cx="1610.8" cy="473.2" r="7.9"/><circle cx="1630.6" cy="431.9" r="7.9"/><circle cx="1626.8" cy="534.9" r="7.9"/><circle cx="1626.2" cy="575.2" r="7.9"/><circle cx="1630.8" cy="417.8" r="7.9"/><circle cx="1629.2" cy="490.8" r="7.9"/><circle cx="1618.9" cy="485.9" r="7.9"/><circle cx="1626" cy="576.6" r="7.9"/><circle cx="1619.2" cy="572.4" r="7.9"/><circle cx="1615.7" cy="442.3" r="7.9"/><circle cx="1614" cy="497.9" r="7.9"/><circle cx="1626.9" cy="539.4" r="7.9"/><circle cx="1614.9" cy="573.5" r="7.9"/><circle cx="1629.4" cy="463.3" r="7.9"/><circle cx="1624.6" cy="582.2" r="7.9"/><circle cx="1609.5" cy="329.5" r="7.9"/><circle cx="1620.9" cy="425" r="7.9"/><circle cx="1611.2" cy="450" r="7.9"/><circle cx="1612.9" cy="442.7" r="7.9"/><circle cx="1622" cy="495.3" r="7.9"/><circle cx="1624" cy="415.8" r="7.9"/><circle cx="1622.4" cy="622.6" r="7.9"/><circle cx="1617.3" cy="517.3" r="7.9"/><circle cx="1610.4" cy="481.9" r="7.9"/><circle cx="1634.5" cy="458.3" r="7.9"/><circle cx="1613.6" cy="585.4" r="7.9"/><circle cx="1625.8" cy="585.5" r="7.9"/><circle cx="1609.5" cy="586.9" r="7.9"/><circle cx="1615.1" cy="415.7" r="7.9"/><circle cx="1610.3" cy="501.7" r="7.9"/><circle cx="1622" cy="550.4" r="7.9"/><circle cx="1622.4" cy="639" r="7.9"/><circle cx="1616.7" cy="580" r="7.9"/><circle cx="1613.5" cy="566.6" r="7.9"/><circle cx="1617.5" cy="481.4" r="7.9"/><circle cx="1632.7" cy="457.6" r="7.9"/><circle cx="1631.3" cy="596.3" r="7.9"/><circle cx="1616.3" cy="460.5" r="7.9"/><circle cx="1616.6" cy="422.9" r="7.9"/><circle cx="1632.6" cy="571.9" r="7.9"/><circle cx="1629.9" cy="520.7" r="7.9"/><circle cx="1627" cy="429.9" r="7.9"/><circle cx="1619.7" cy="537.8" r="7.9"/><circle cx="1619.6" cy="497.8" r="7.9"/><circle cx="1620.7" cy="577.1" r="7.9"/><circle cx="1634.9" cy="513.6" r="7.9"/><circle cx="1616.2" cy="459.3" r="7.9"/><circle cx="1617.8" cy="558.4" r="7.9"/><circle cx="1622.2" cy="667.3" r="7.9"/><circle cx="1634.5" cy="474.5" r="7.9"/><circle cx="1634.9" cy="626.7" r="7.9"/><circle cx="1614.6" cy="462" r="7.9"/><circle cx="1624.4" cy="508.2" r="7.9"/><circle cx="1609.4" cy="428.2" r="7.9"/><circle cx="1632.4" cy="531.7" r="7.9"/><circle cx="1611.2" cy="565" r="7.9"/><circle cx="1613.4" cy="551.5" r="7.9"/><circle cx="1613.4" cy="471.5" r="7.9"/><circle cx="1616.7" cy="539.2" r="7.9"/><circle cx="1615.9" cy="429" r="7.9"/><circle cx="1613.9" cy="517.2" r="7.9"/><circle cx="1631.3" cy="449.1" r="7.9"/><circle cx="1628.6" cy="636.2" r="7.9"/><circle cx="1633.1" cy="476.2" r="7.9"/><circle cx="1632.4" cy="569.7" r="7.9"/><circle cx="1632.4" cy="423.9" r="7.9"/><circle cx="1629.8" cy="560.5" r="7.9"/><circle cx="1616.5" cy="679.7" r="7.9"/><circle cx="1616.4" cy="424.6" r="7.9"/><circle cx="1614" cy="482.9" r="7.9"/><circle cx="1622.3" cy="545.3" r="7.9"/><circle cx="1626.3" cy="450.6" r="7.9"/><circle cx="1611.3" cy="556.6" r="7.9"/><circle cx="1634.5" cy="560.3" r="7.9"/><circle cx="1617.6" cy="604.6" r="7.9"/><circle cx="1618.3" cy="460.7" r="7.9"/><circle cx="1631.1" cy="526.8" r="7.9"/><circle cx="1634.6" cy="601.1" r="7.9"/><circle cx="1612.7" cy="474.8" r="7.9"/><circle cx="1632.1" cy="571.4" r="7.9"/><circle cx="1622.3" cy="503.7" r="7.9"/><circle cx="1624.9" cy="486" r="7.9"/><circle cx="1620.4" cy="433.5" r="7.9"/><circle cx="1613.8" cy="517.6" r="7.9"/><circle cx="1616.8" cy="608.7" r="7.9"/><circle cx="1616.6" cy="572.8" r="7.9"/><circle cx="1626.1" cy="558.2" r="7.9"/><circle cx="1628.4" cy="506.6" r="7.9"/><circle cx="1614.6" cy="318.8" r="7.9"/><circle cx="1619.3" cy="518.6" r="7.9"/><circle cx="1626.3" cy="502.8" r="7.9"/><circle cx="1610.1" cy="452" r="7.9"/><circle cx="1628.6" cy="427.8" r="7.9"/><circle cx="1618.8" cy="564.2" r="7.9"/><circle cx="1625.8" cy="543.1" r="7.9"/><circle cx="1611.7" cy="503.4" r="7.9"/><circle cx="1646.4" cy="552.7" r="7.9"/><circle cx="1654.8" cy="552" r="7.9"/><circle cx="1636.5" cy="566.7" r="7.9"/><circle cx="1646.6" cy="552.3" r="7.9"/><circle cx="1654.5" cy="500" r="7.9"/><circle cx="1647.1" cy="496.9" r="7.9"/><circle cx="1653.4" cy="426.2" r="7.9"/><circle cx="1646.8" cy="542.6" r="7.9"/><circle cx="1660.6" cy="459.9" r="7.9"/><circle cx="1646.3" cy="570.5" r="7.9"/><circle cx="1657.5" cy="478.1" r="7.9"/><circle cx="1638.5" cy="560.6" r="7.9"/><circle cx="1660.1" cy="558.1" r="7.9"/><circle cx="1642.9" cy="552" r="7.9"/><circle cx="1641.7" cy="545.7" r="7.9"/><circle cx="1656.7" cy="419.4" r="7.9"/><circle cx="1637.5" cy="558.1" r="7.9"/><circle cx="1659" cy="535.8" r="7.9"/><circle cx="1639.5" cy="511.4" r="7.9"/><circle cx="1642.8" cy="581.1" r="7.9"/><circle cx="1653.3" cy="597.2" r="7.9"/><circle cx="1657.7" cy="463.2" r="7.9"/><circle cx="1657.3" cy="555.8" r="7.9"/><circle cx="1656.3" cy="489.8" r="7.9"/><circle cx="1655.5" cy="452.3" r="7.9"/><circle cx="1660.5" cy="517.7" r="7.9"/><circle cx="1636" cy="528.9" r="7.9"/><circle cx="1636.9" cy="559.5" r="7.9"/><circle cx="1640.8" cy="441.2" r="7.9"/><circle cx="1639.1" cy="557.2" r="7.9"/><circle cx="1646.7" cy="523.7" r="7.9"/><circle cx="1650.3" cy="497.1" r="7.9"/><circle cx="1635.3" cy="438.7" r="7.9"/><circle cx="1643.4" cy="482.3" r="7.9"/><circle cx="1651.8" cy="472.1" r="7.9"/><circle cx="1637.1" cy="490.4" r="7.9"/><circle cx="1641.8" cy="490" r="7.9"/><circle cx="1645.1" cy="588.2" r="7.9"/><circle cx="1659.7" cy="483.8" r="7.9"/><circle cx="1652.9" cy="572.4" r="7.9"/><circle cx="1649.6" cy="417" r="7.9"/><circle cx="1640.1" cy="457" r="7.9"/><circle cx="1648.7" cy="609.8" r="7.9"/><circle cx="1652.3" cy="433.9" r="7.9"/><circle cx="1636.4" cy="570.5" r="7.9"/><circle cx="1638" cy="588.1" r="7.9"/><circle cx="1658.5" cy="591.8" r="7.9"/><circle cx="1639.6" cy="535.6" r="7.9"/><circle cx="1645.5" cy="500" r="7.9"/><circle cx="1657.1" cy="458.2" r="7.9"/><circle cx="1651.4" cy="461.6" r="7.9"/><circle cx="1639.6" cy="409" r="7.9"/><circle cx="1638" cy="500.6" r="7.9"/><circle cx="1642.2" cy="590.6" r="7.9"/><circle cx="1657.1" cy="410.1" r="7.9"/><circle cx="1642.9" cy="433.6" r="7.9"/><circle cx="1646.1" cy="562.5" r="7.9"/><circle cx="1639.3" cy="469.5" r="7.9"/><circle cx="1657.9" cy="621.7" r="7.9"/><circle cx="1637.1" cy="590.1" r="7.9"/><circle cx="1638.9" cy="540.6" r="7.9"/><circle cx="1638.6" cy="650.1" r="7.9"/><circle cx="1641.6" cy="475.5" r="7.9"/><circle cx="1636" cy="569.2" r="7.9"/><circle cx="1636" cy="435.6" r="7.9"/><circle cx="1645.2" cy="528" r="7.9"/><circle cx="1656" cy="400.1" r="7.9"/><circle cx="1650.7" cy="547.2" r="7.9"/><circle cx="1653.6" cy="512.6" r="7.9"/><circle cx="1647" cy="564.1" r="7.9"/><circle cx="1658.7" cy="565.2" r="7.9"/><circle cx="1653.8" cy="514.2" r="7.9"/><circle cx="1650.7" cy="571.6" r="7.9"/><circle cx="1643" cy="488.8" r="7.9"/><circle cx="1640.8" cy="549.1" r="7.9"/><circle cx="1652.4" cy="418.8" r="7.9"/><circle cx="1658.7" cy="484.6" r="7.9"/><circle cx="1638.5" cy="437.5" r="7.9"/><circle cx="1650.4" cy="620.3" r="7.9"/><circle cx="1643.9" cy="565.6" r="7.9"/><circle cx="1658.2" cy="467.8" r="7.9"/><circle cx="1641.8" cy="552.4" r="7.9"/><circle cx="1644.4" cy="745.8" r="7.9"/><circle cx="1652.7" cy="622.3" r="7.9"/><circle cx="1648.8" cy="474.9" r="7.9"/><circle cx="1659.4" cy="521.1" r="7.9"/><circle cx="1659.5" cy="536.1" r="7.9"/><circle cx="1641" cy="509.8" r="7.9"/><circle cx="1658.7" cy="560.3" r="7.9"/><circle cx="1643.3" cy="528.9" r="7.9"/><circle cx="1637.5" cy="495.8" r="7.9"/><circle cx="1636.3" cy="583.9" r="7.9"/><circle cx="1647.9" cy="581.3" r="7.9"/><circle cx="1652.6" cy="455.5" r="7.9"/><circle cx="1640" cy="481.1" r="7.9"/><circle cx="1636" cy="427.3" r="7.9"/><circle cx="1660.8" cy="387.8" r="7.9"/><circle cx="1660.4" cy="571.1" r="7.9"/><circle cx="1653.7" cy="510.9" r="7.9"/><circle cx="1637.8" cy="617.5" r="7.9"/><circle cx="1642" cy="423.7" r="7.9"/><circle cx="1637.9" cy="542.7" r="7.9"/><circle cx="1643.5" cy="600.8" r="7.9"/><circle cx="1658.7" cy="439.9" r="7.9"/><circle cx="1646.2" cy="504.2" r="7.9"/><circle cx="1641.9" cy="482.7" r="7.9"/><circle cx="1652.7" cy="532.8" r="7.9"/><circle cx="1636.4" cy="481.8" r="7.9"/><circle cx="1655" cy="501.5" r="7.9"/><circle cx="1651.3" cy="550.1" r="7.9"/><circle cx="1646.8" cy="500.1" r="7.9"/><circle cx="1645.2" cy="501.2" r="7.9"/><circle cx="1657.1" cy="494.5" r="7.9"/><circle cx="1657.2" cy="548.7" r="7.9"/><circle cx="1640.2" cy="565" r="7.9"/><circle cx="1643.6" cy="397" r="7.9"/><circle cx="1640.2" cy="435.6" r="7.9"/><circle cx="1653.5" cy="512.2" r="7.9"/><circle cx="1656.4" cy="517.5" r="7.9"/><circle cx="1652.9" cy="422" r="7.9"/><circle cx="1637.1" cy="400.6" r="7.9"/><circle cx="1638" cy="512.5" r="7.9"/><circle cx="1636.9" cy="586.1" r="7.9"/><circle cx="1644.6" cy="589.3" r="7.9"/><circle cx="1647.8" cy="532.1" r="7.9"/><circle cx="1652.4" cy="539.7" r="7.9"/><circle cx="1659.6" cy="417.5" r="7.9"/><circle cx="1647.9" cy="599.4" r="7.9"/><circle cx="1636.2" cy="530.1" r="7.9"/><circle cx="1654.7" cy="471.8" r="7.9"/><circle cx="1658.7" cy="496.4" r="7.9"/><circle cx="1640.3" cy="478.2" r="7.9"/><circle cx="1646.1" cy="500.7" r="7.9"/><circle cx="1647.7" cy="428.5" r="7.9"/><circle cx="1644.9" cy="582.9" r="7.9"/><circle cx="1652.4" cy="499.1" r="7.9"/><circle cx="1646.9" cy="522.7" r="7.9"/><circle cx="1654.3" cy="504.8" r="7.9"/><circle cx="1636.3" cy="607.3" r="7.9"/><circle cx="1642.4" cy="567.5" r="7.9"/><circle cx="1645.4" cy="495.9" r="7.9"/><circle cx="1647.5" cy="429" r="7.9"/><circle cx="1638.4" cy="511.6" r="7.9"/><circle cx="1647.7" cy="526.7" r="7.9"/><circle cx="1647" cy="479.5" r="7.9"/><circle cx="1640.2" cy="553.8" r="7.9"/><circle cx="1638.4" cy="447.1" r="7.9"/><circle cx="1643.6" cy="252.5" r="7.9"/><circle cx="1645.6" cy="565.6" r="7.9"/><circle cx="1659.1" cy="433" r="7.9"/><circle cx="1667.5" cy="423.4" r="7.9"/><circle cx="1678.7" cy="463.7" r="7.9"/><circle cx="1661.1" cy="509.9" r="7.9"/><circle cx="1685.7" cy="420" r="7.9"/><circle cx="1685.9" cy="570.6" r="7.9"/><circle cx="1664.4" cy="419.2" r="7.9"/><circle cx="1686.3" cy="552.8" r="7.9"/><circle cx="1662.9" cy="593.8" r="7.9"/><circle cx="1667.9" cy="463.8" r="7.9"/><circle cx="1665.6" cy="523.8" r="7.9"/><circle cx="1678.2" cy="465.9" r="7.9"/><circle cx="1672.6" cy="424" r="7.9"/><circle cx="1683" cy="357.8" r="7.9"/><circle cx="1682.3" cy="444.1" r="7.9"/><circle cx="1683" cy="545.5" r="7.9"/><circle cx="1675.7" cy="383.8" r="7.9"/><circle cx="1677.1" cy="557.4" r="7.9"/><circle cx="1663.7" cy="590.7" r="7.9"/><circle cx="1679.5" cy="480.9" r="7.9"/><circle cx="1680.6" cy="495.8" r="7.9"/><circle cx="1665.6" cy="481" r="7.9"/><circle cx="1666.1" cy="611.3" r="7.9"/><circle cx="1666.1" cy="562.7" r="7.9"/><circle cx="1679.5" cy="513.5" r="7.9"/><circle cx="1684.5" cy="391.9" r="7.9"/><circle cx="1674.6" cy="542.4" r="7.9"/><circle cx="1676.3" cy="513.6" r="7.9"/><circle cx="1678.9" cy="410.2" r="7.9"/><circle cx="1670.5" cy="495.5" r="7.9"/><circle cx="1683.7" cy="500.5" r="7.9"/><circle cx="1682.4" cy="540.1" r="7.9"/><circle cx="1661" cy="556.3" r="7.9"/><circle cx="1682.3" cy="396.4" r="7.9"/><circle cx="1666.9" cy="443.3" r="7.9"/><circle cx="1670.5" cy="454.2" r="7.9"/><circle cx="1663.3" cy="424" r="7.9"/><circle cx="1685.9" cy="438.6" r="7.9"/><circle cx="1672.4" cy="528.9" r="7.9"/><circle cx="1681.2" cy="389.7" r="7.9"/><circle cx="1677.5" cy="422.3" r="7.9"/><circle cx="1678" cy="421.1" r="7.9"/><circle cx="1679.1" cy="527.2" r="7.9"/><circle cx="1668.2" cy="510.1" r="7.9"/><circle cx="1670.5" cy="467.1" r="7.9"/><circle cx="1682.4" cy="344" r="7.9"/><circle cx="1677" cy="398.1" r="7.9"/><circle cx="1661.8" cy="534.7" r="7.9"/><circle cx="1684.3" cy="382.9" r="7.9"/><circle cx="1680.1" cy="525.9" r="7.9"/><circle cx="1673.3" cy="481.9" r="7.9"/><circle cx="1683.5" cy="513.5" r="7.9"/><circle cx="1679.4" cy="528.7" r="7.9"/><circle cx="1676.5" cy="466.1" r="7.9"/><circle cx="1686.8" cy="448.8" r="7.9"/><circle cx="1670.6" cy="481.2" r="7.9"/><circle cx="1673.3" cy="564" r="7.9"/><circle cx="1680.3" cy="438.5" r="7.9"/><circle cx="1672.6" cy="551.4" r="7.9"/><circle cx="1661.1" cy="533.9" r="7.9"/><circle cx="1667.7" cy="487.8" r="7.9"/><circle cx="1665.4" cy="421.3" r="7.9"/><circle cx="1674" cy="487.9" r="7.9"/><circle cx="1680" cy="450.7" r="7.9"/><circle cx="1684.4" cy="531.5" r="7.9"/><circle cx="1661" cy="455.6" r="7.9"/><circle cx="1669.8" cy="511.9" r="7.9"/><circle cx="1680.3" cy="638.5" r="7.9"/><circle cx="1675.1" cy="447.2" r="7.9"/><circle cx="1666.5" cy="557.2" r="7.9"/><circle cx="1669.5" cy="556.1" r="7.9"/><circle cx="1686.5" cy="453.4" r="7.9"/><circle cx="1679" cy="439" r="7.9"/><circle cx="1673.3" cy="465.6" r="7.9"/><circle cx="1670.3" cy="418" r="7.9"/><circle cx="1673.7" cy="443.1" r="7.9"/><circle cx="1680.3" cy="456.8" r="7.9"/><circle cx="1671.9" cy="571.5" r="7.9"/><circle cx="1685.6" cy="539.3" r="7.9"/><circle cx="1676.7" cy="409.8" r="7.9"/><circle cx="1675.6" cy="435.9" r="7.9"/><circle cx="1677.3" cy="375.1" r="7.9"/><circle cx="1676.3" cy="566.6" r="7.9"/><circle cx="1662.9" cy="404.4" r="7.9"/><circle cx="1670.6" cy="395.5" r="7.9"/><circle cx="1663.7" cy="599.4" r="7.9"/><circle cx="1678.1" cy="580.1" r="7.9"/><circle cx="1675.7" cy="441.6" r="7.9"/><circle cx="1684.7" cy="468.4" r="7.9"/><circle cx="1661.6" cy="459.2" r="7.9"/><circle cx="1677" cy="573.1" r="7.9"/><circle cx="1669.2" cy="565.3" r="7.9"/><circle cx="1665.1" cy="561.5" r="7.9"/><circle cx="1673.9" cy="521.9" r="7.9"/><circle cx="1683.2" cy="309" r="7.9"/><circle cx="1670.1" cy="626.8" r="7.9"/><circle cx="1672.9" cy="390.6" r="7.9"/><circle cx="1684.5" cy="509.7" r="7.9"/><circle cx="1681.6" cy="429.8" r="7.9"/><circle cx="1661.1" cy="457.5" r="7.9"/><circle cx="1661" cy="411.9" r="7.9"/><circle cx="1705.5" cy="375.2" r="7.9"/><circle cx="1697" cy="334" r="7.9"/><circle cx="1698.8" cy="573.4" r="7.9"/><circle cx="1689.7" cy="515" r="7.9"/><circle cx="1708.8" cy="341" r="7.9"/><circle cx="1709.5" cy="358.4" r="7.9"/><circle cx="1691.6" cy="422.2" r="7.9"/><circle cx="1693.7" cy="397.6" r="7.9"/><circle cx="1702.8" cy="464.7" r="7.9"/><circle cx="1704.9" cy="346.3" r="7.9"/><circle cx="1692.3" cy="586.8" r="7.9"/><circle cx="1691.9" cy="574.9" r="7.9"/><circle cx="1689.3" cy="516" r="7.9"/><circle cx="1697.2" cy="416.4" r="7.9"/><circle cx="1699.8" cy="403.6" r="7.9"/><circle cx="1687" cy="473.7" r="7.9"/><circle cx="1690.1" cy="392.3" r="7.9"/><circle cx="1688.1" cy="793.3" r="7.9"/><circle cx="1692.6" cy="531.7" r="7.9"/><circle cx="1703.1" cy="418.4" r="7.9"/><circle cx="1697.6" cy="520.9" r="7.9"/><circle cx="1707.2" cy="445.8" r="7.9"/><circle cx="1707.8" cy="490.3" r="7.9"/><circle cx="1706.6" cy="208" r="7.9"/><circle cx="1701.3" cy="352.1" r="7.9"/><circle cx="1695.8" cy="493.6" r="7.9"/><circle cx="1690.4" cy="529.1" r="7.9"/><circle cx="1702.4" cy="443.7" r="7.9"/><circle cx="1710" cy="460" r="7.9"/><circle cx="1696.3" cy="552.2" r="7.9"/><circle cx="1703.2" cy="375.9" r="7.9"/><circle cx="1702.7" cy="470.3" r="7.9"/><circle cx="1707" cy="475.8" r="7.9"/><circle cx="1710.9" cy="564.9" r="7.9"/><circle cx="1688.9" cy="491.7" r="7.9"/><circle cx="1704.1" cy="360.7" r="7.9"/><circle cx="1703.6" cy="449.5" r="7.9"/><circle cx="1692.6" cy="420.1" r="7.9"/><circle cx="1690.3" cy="386.6" r="7.9"/><circle cx="1701" cy="530.5" r="7.9"/><circle cx="1692.2" cy="532.6" r="7.9"/><circle cx="1705.3" cy="526" r="7.9"/><circle cx="1694.9" cy="576.9" r="7.9"/><circle cx="1698.6" cy="556.5" r="7.9"/><circle cx="1704.5" cy="535.6" r="7.9"/><circle cx="1690.6" cy="410.4" r="7.9"/><circle cx="1695.9" cy="533.2" r="7.9"/><circle cx="1703.8" cy="578.9" r="7.9"/><circle cx="1710.8" cy="712" r="7.9"/><circle cx="1709" cy="463.6" r="7.9"/><circle cx="1702.3" cy="318.7" r="7.9"/><circle cx="1701.9" cy="392.9" r="7.9"/><circle cx="1709.8" cy="482.4" r="7.9"/><circle cx="1710.6" cy="297.5" r="7.9"/><circle cx="1706.8" cy="455.1" r="7.9"/><circle cx="1703.4" cy="364" r="7.9"/><circle cx="1697" cy="451.2" r="7.9"/><circle cx="1696.2" cy="507.1" r="7.9"/><circle cx="1701.7" cy="453.1" r="7.9"/><circle cx="1709.6" cy="341" r="7.9"/><circle cx="1693.4" cy="553.5" r="7.9"/><circle cx="1693.4" cy="545.9" r="7.9"/><circle cx="1694.9" cy="540.3" r="7.9"/><circle cx="1707.9" cy="437.1" r="7.9"/><circle cx="1709.7" cy="462.6" r="7.9"/><circle cx="1706.4" cy="538.4" r="7.9"/><circle cx="1715.6" cy="572.3" r="7.9"/><circle cx="1724.7" cy="462" r="7.9"/><circle cx="1719.5" cy="368.7" r="7.9"/><circle cx="1734.3" cy="443.6" r="7.9"/><circle cx="1726.3" cy="492.5" r="7.9"/><circle cx="1722" cy="511.4" r="7.9"/><circle cx="1733.7" cy="506.9" r="7.9"/><circle cx="1738.1" cy="433.3" r="7.9"/><circle cx="1733.9" cy="353.2" r="7.9"/><circle cx="1730.8" cy="306.9" r="7.9"/><circle cx="1718.6" cy="387.6" r="7.9"/><circle cx="1720.5" cy="494.3" r="7.9"/><circle cx="1720.4" cy="381.1" r="7.9"/><circle cx="1737.9" cy="475.4" r="7.9"/><circle cx="1734.7" cy="528.9" r="7.9"/><circle cx="1719.8" cy="480" r="7.9"/><circle cx="1730.9" cy="551.8" r="7.9"/><circle cx="1734.7" cy="212" r="7.9"/><circle cx="1722.9" cy="350.1" r="7.9"/><circle cx="1713.9" cy="181.1" r="7.9"/><circle cx="1723.7" cy="306.6" r="7.9"/><circle cx="1720.2" cy="347.3" r="7.9"/><circle cx="1723.4" cy="339.1" r="7.9"/><circle cx="1717.5" cy="378.3" r="7.9"/><circle cx="1735.4" cy="441.4" r="7.9"/><circle cx="1728.4" cy="356.6" r="7.9"/><circle cx="1721.1" cy="379.3" r="7.9"/><circle cx="1715.1" cy="392.7" r="7.9"/><circle cx="1730.2" cy="552.6" r="7.9"/><circle cx="1725.7" cy="399" r="7.9"/><circle cx="1731.9" cy="515.8" r="7.9"/><circle cx="1726.4" cy="437.7" r="7.9"/><circle cx="1729.5" cy="309.6" r="7.9"/><circle cx="1733.7" cy="525.3" r="7.9"/><circle cx="1722.6" cy="353" r="7.9"/><circle cx="1734.3" cy="360" r="7.9"/><circle cx="1727.9" cy="541.8" r="7.9"/><circle cx="1732.6" cy="499.6" r="7.9"/><circle cx="1716" cy="428.4" r="7.9"/><circle cx="1724.4" cy="516.3" r="7.9"/><circle cx="1735.3" cy="346" r="7.9"/><circle cx="1729.9" cy="266.9" r="7.9"/><circle cx="1731.1" cy="473.2" r="7.9"/><circle cx="1717.3" cy="500.1" r="7.9"/><circle cx="1726.5" cy="332" r="7.9"/><circle cx="1722.4" cy="571" r="7.9"/><circle cx="1734.4" cy="444.9" r="7.9"/><circle cx="1731.5" cy="260.2" r="7.9"/><circle cx="1737.2" cy="669.6" r="7.9"/><circle cx="1722.7" cy="400.7" r="7.9"/><circle cx="1713.1" cy="377.7" r="7.9"/><circle cx="1731.3" cy="585.3" r="7.9"/><circle cx="1729" cy="565.6" r="7.9"/><circle cx="1723.6" cy="340.7" r="7.9"/><circle cx="1719.4" cy="438.1" r="7.9"/><circle cx="1719.7" cy="495.1" r="7.9"/><circle cx="1738.7" cy="371.1" r="7.9"/><circle cx="1716.8" cy="377.6" r="7.9"/><circle cx="1730.7" cy="445.3" r="7.9"/><circle cx="1724.1" cy="332.7" r="7.9"/><circle cx="1733.9" cy="590.6" r="7.9"/><circle cx="1732.6" cy="467.9" r="7.9"/><circle cx="1716" cy="459.9" r="7.9"/><circle cx="1716" cy="543.5" r="7.9"/><circle cx="1713.2" cy="360.5" r="7.9"/><circle cx="1715.9" cy="508.9" r="7.9"/><circle cx="1720.1" cy="459.4" r="7.9"/><circle cx="1730.7" cy="340.2" r="7.9"/><circle cx="1723.1" cy="427.3" r="7.9"/><circle cx="1727.2" cy="356.6" r="7.9"/><circle cx="1726.4" cy="484.9" r="7.9"/><circle cx="1736.3" cy="348.9" r="7.9"/><circle cx="1714.5" cy="530.5" r="7.9"/><circle cx="1735.2" cy="290.2" r="7.9"/><circle cx="1732" cy="388.2" r="7.9"/><circle cx="1761.1" cy="350.5" r="7.9"/><circle cx="1753" cy="317.6" r="7.9"/><circle cx="1750" cy="410.2" r="7.9"/><circle cx="1762.4" cy="472.3" r="7.9"/><circle cx="1744.7" cy="471.1" r="7.9"/><circle cx="1756.6" cy="412.2" r="7.9"/><circle cx="1755.8" cy="216.2" r="7.9"/><circle cx="1743.1" cy="407.9" r="7.9"/><circle cx="1739.5" cy="518.4" r="7.9"/><circle cx="1763.6" cy="303.6" r="7.9"/><circle cx="1762.6" cy="434.5" r="7.9"/><circle cx="1744.9" cy="341.5" r="7.9"/><circle cx="1757.4" cy="395" r="7.9"/><circle cx="1741.4" cy="417.7" r="7.9"/><circle cx="1760.1" cy="467.4" r="7.9"/><circle cx="1742" cy="286" r="7.9"/><circle cx="1746.2" cy="320.7" r="7.9"/><circle cx="1738.7" cy="302.3" r="7.9"/><circle cx="1757.5" cy="375.2" r="7.9"/><circle cx="1739.7" cy="260.3" r="7.9"/><circle cx="1749" cy="451.2" r="7.9"/><circle cx="1739.2" cy="647.1" r="7.9"/><circle cx="1762" cy="451.1" r="7.9"/><circle cx="1753.8" cy="290.1" r="7.9"/><circle cx="1743" cy="514.5" r="7.9"/><circle cx="1762.1" cy="371" r="7.9"/><circle cx="1749.9" cy="488" r="7.9"/><circle cx="1751.6" cy="518.6" r="7.9"/><circle cx="1747.9" cy="351.2" r="7.9"/><circle cx="1740.4" cy="420.5" r="7.9"/><circle cx="1745.6" cy="295.8" r="7.9"/><circle cx="1751" cy="482.2" r="7.9"/><circle cx="1753.2" cy="402.9" r="7.9"/><circle cx="1760.2" cy="498.5" r="7.9"/><circle cx="1750" cy="306.3" r="7.9"/><circle cx="1747.6" cy="481.8" r="7.9"/><circle cx="1754.2" cy="470.9" r="7.9"/><circle cx="1749.8" cy="237.5" r="7.9"/><circle cx="1761.1" cy="493.9" r="7.9"/><circle cx="1745.5" cy="765.9" r="7.9"/><circle cx="1742.3" cy="522.8" r="7.9"/><circle cx="1751.9" cy="446.3" r="7.9"/><circle cx="1751.7" cy="404.1" r="7.9"/><circle cx="1747.1" cy="314.7" r="7.9"/><circle cx="1748.2" cy="450" r="7.9"/><circle cx="1748.5" cy="359.1" r="7.9"/><circle cx="1763.6" cy="325.7" r="7.9"/><circle cx="1745.9" cy="528.3" r="7.9"/><circle cx="1760.9" cy="493" r="7.9"/><circle cx="1759.6" cy="475.4" r="7.9"/><circle cx="1766.1" cy="294" r="7.9"/><circle cx="1773.6" cy="521.9" r="7.9"/><circle cx="1771.4" cy="308.6" r="7.9"/><circle cx="1789" cy="310.7" r="7.9"/><circle cx="1789.6" cy="250.8" r="7.9"/><circle cx="1769.5" cy="501.4" r="7.9"/><circle cx="1786.8" cy="508.5" r="7.9"/><circle cx="1767.7" cy="500.4" r="7.9"/><circle cx="1766.8" cy="499.8" r="7.9"/><circle cx="1782.9" cy="304.1" r="7.9"/><circle cx="1774.7" cy="383.7" r="7.9"/><circle cx="1784.3" cy="283.9" r="7.9"/><circle cx="1775" cy="443.8" r="7.9"/><circle cx="1775.6" cy="433.8" r="7.9"/><circle cx="1776" cy="415.7" r="7.9"/><circle cx="1789.7" cy="509.2" r="7.9"/><circle cx="1774.5" cy="364.9" r="7.9"/><circle cx="1784.6" cy="382.6" r="7.9"/><circle cx="1786.4" cy="581.4" r="7.9"/><circle cx="1765.3" cy="324.5" r="7.9"/><circle cx="1776.9" cy="618" r="7.9"/><circle cx="1775.2" cy="333.7" r="7.9"/><circle cx="1787.4" cy="325.2" r="7.9"/><circle cx="1787.2" cy="274.1" r="7.9"/><circle cx="1767.8" cy="694.4" r="7.9"/><circle cx="1766.7" cy="301.3" r="7.9"/><circle cx="1777.7" cy="405.8" r="7.9"/><circle cx="1778.3" cy="479" r="7.9"/><circle cx="1772.1" cy="492.7" r="7.9"/><circle cx="1776" cy="350.2" r="7.9"/><circle cx="1776.8" cy="356.8" r="7.9"/><circle cx="1774.2" cy="487.6" r="7.9"/><circle cx="1786.5" cy="451" r="7.9"/><circle cx="1776.3" cy="356.2" r="7.9"/><circle cx="1778.8" cy="327.7" r="7.9"/><circle cx="1787.2" cy="273.6" r="7.9"/><circle cx="1768.4" cy="490.5" r="7.9"/><circle cx="1772" cy="311.5" r="7.9"/><circle cx="1791.1" cy="501.5" r="7.9"/><circle cx="1810.5" cy="291.7" r="7.9"/><circle cx="1805.9" cy="277.7" r="7.9"/><circle cx="1802.4" cy="394.6" r="7.9"/><circle cx="1796.6" cy="269.5" r="7.9"/><circle cx="1813.2" cy="364.7" r="7.9"/><circle cx="1805.2" cy="452.1" r="7.9"/><circle cx="1802.3" cy="504.8" r="7.9"/><circle cx="1796.1" cy="383.9" r="7.9"/><circle cx="1802.8" cy="454.8" r="7.9"/><circle cx="1794.3" cy="421.8" r="7.9"/><circle cx="1800.9" cy="430.2" r="7.9"/><circle cx="1810.2" cy="361" r="7.9"/><circle cx="1808.1" cy="460" r="7.9"/><circle cx="1809.8" cy="311.8" r="7.9"/><circle cx="1810.9" cy="299.2" r="7.9"/><circle cx="1810.4" cy="409.7" r="7.9"/><circle cx="1791.7" cy="508.2" r="7.9"/><circle cx="1816.2" cy="243.8" r="7.9"/><circle cx="1810.5" cy="343.9" r="7.9"/><circle cx="1795.3" cy="366.7" r="7.9"/><circle cx="1808.4" cy="417.3" r="7.9"/><circle cx="1799.9" cy="275.3" r="7.9"/><circle cx="1806.8" cy="463.6" r="7.9"/><circle cx="1793.9" cy="245" r="7.9"/><circle cx="1802.3" cy="330.7" r="7.9"/><circle cx="1798" cy="393.4" r="7.9"/><circle cx="1809.5" cy="386.9" r="7.9"/><circle cx="1816.4" cy="453.1" r="7.9"/><circle cx="1798.9" cy="381.8" r="7.9"/><circle cx="1814.9" cy="485.2" r="7.9"/><circle cx="1810.3" cy="404.7" r="7.9"/><circle cx="1794" cy="450.2" r="7.9"/><circle cx="1812.2" cy="370" r="7.9"/><circle cx="1813.4" cy="250.5" r="7.9"/><circle cx="1791.9" cy="421.2" r="7.9"/><circle cx="1792.4" cy="471.6" r="7.9"/><circle cx="1810.1" cy="351.4" r="7.9"/><circle cx="1805.2" cy="334.5" r="7.9"/><circle cx="1799.3" cy="438" r="7.9"/><circle cx="1811.5" cy="258.4" r="7.9"/><circle cx="1810.3" cy="395.1" r="7.9"/><circle cx="1819.5" cy="313.7" r="7.9"/><circle cx="1827.8" cy="302.1" r="7.9"/><circle cx="1833.7" cy="405.4" r="7.9"/><circle cx="1818.4" cy="507.7" r="7.9"/><circle cx="1839.4" cy="420.8" r="7.9"/><circle cx="1824.7" cy="453.6" r="7.9"/><circle cx="1819.8" cy="468.2" r="7.9"/><circle cx="1841.9" cy="397.8" r="7.9"/><circle cx="1830.7" cy="477.5" r="7.9"/><circle cx="1835.5" cy="388.2" r="7.9"/><circle cx="1817.5" cy="504.1" r="7.9"/><circle cx="1833.9" cy="356.2" r="7.9"/><circle cx="1830.8" cy="597.8" r="7.9"/><circle cx="1841.7" cy="439.1" r="7.9"/><circle cx="1817.4" cy="457.2" r="7.9"/><circle cx="1823.7" cy="258.4" r="7.9"/><circle cx="1838.5" cy="472.2" r="7.9"/><circle cx="1838.1" cy="438.2" r="7.9"/><circle cx="1818.3" cy="253.9" r="7.9"/><circle cx="1838.9" cy="435.7" r="7.9"/><circle cx="1828.3" cy="256.1" r="7.9"/><circle cx="1823.9" cy="276.5" r="7.9"/><circle cx="1841.5" cy="254.3" r="7.9"/><circle cx="1838.2" cy="286.8" r="7.9"/><circle cx="1839.1" cy="386.7" r="7.9"/><circle cx="1822.4" cy="401.4" r="7.9"/><circle cx="1821.8" cy="253.7" r="7.9"/><circle cx="1817.8" cy="342.9" r="7.9"/><circle cx="1824.4" cy="294.3" r="7.9"/><circle cx="1823.7" cy="465.2" r="7.9"/><circle cx="1828.3" cy="372.4" r="7.9"/><circle cx="1823.4" cy="661.4" r="7.9"/><circle cx="1837.8" cy="428.6" r="7.9"/><circle cx="1816.5" cy="607.5" r="7.9"/><circle cx="1821.9" cy="428" r="7.9"/><circle cx="1824.3" cy="205.5" r="7.9"/><circle cx="1838" cy="480.6" r="7.9"/><circle cx="1820.3" cy="315.1" r="7.9"/><circle cx="1824.4" cy="151.3" r="7.9"/><circle cx="1824.7" cy="259.3" r="7.9"/><circle cx="1827" cy="487.9" r="7.9"/><circle cx="1820.9" cy="257.7" r="7.9"/><circle cx="1840" cy="327.4" r="7.9"/><circle cx="1825.6" cy="394.5" r="7.9"/><circle cx="1833.2" cy="312.2" r="7.9"/><circle cx="1819.1" cy="394.2" r="7.9"/><circle cx="1826.9" cy="296.6" r="7.9"/><circle cx="1821.2" cy="699.7" r="7.9"/><circle cx="1833.6" cy="471.9" r="7.9"/><circle cx="1832.9" cy="373.6" r="7.9"/><circle cx="1840.1" cy="241" r="7.9"/><circle cx="1841.2" cy="446.8" r="7.9"/><circle cx="1863.4" cy="394.1" r="7.9"/><circle cx="1859.5" cy="378.5" r="7.9"/><circle cx="1851.8" cy="265.9" r="7.9"/><circle cx="1862.8" cy="386.8" r="7.9"/><circle cx="1862.6" cy="378.1" r="7.9"/><circle cx="1392.2" cy="746.8" r="7.9"/><circle cx="1410.9" cy="760.6" r="7.9"/><circle cx="1390.3" cy="785.9" r="7.9"/><circle cx="1412" cy="799" r="7.9"/><circle cx="1395" cy="806.1" r="7.9"/><circle cx="1416.1" cy="772.4" r="7.9"/><circle cx="1402.3" cy="762.9" r="7.9"/><circle cx="1413.3" cy="747.9" r="7.9"/><circle cx="1398.6" cy="779.8" r="7.9"/><circle cx="1396.2" cy="812.7" r="7.9"/><circle cx="1401.1" cy="760.6" r="7.9"/><circle cx="1389.4" cy="759" r="7.9"/><circle cx="1398.8" cy="746.3" r="7.9"/><circle cx="1387.8" cy="742.6" r="7.9"/><circle cx="1390.2" cy="786.7" r="7.9"/><circle cx="1400.1" cy="743.8" r="7.9"/><circle cx="1383.9" cy="761.1" r="7.9"/><circle cx="1398" cy="787.2" r="7.9"/><circle cx="1396.6" cy="724.5" r="7.9"/><circle cx="1389.6" cy="755.9" r="7.9"/><circle cx="1393.8" cy="756.5" r="7.9"/><circle cx="1398.6" cy="744.6" r="7.9"/><circle cx="1388.7" cy="764.8" r="7.9"/><circle cx="1404.4" cy="761.5" r="7.9"/><circle cx="1407.3" cy="808.1" r="7.9"/><circle cx="1391.1" cy="771.3" r="7.9"/><circle cx="1382.7" cy="745.8" r="7.9"/><circle cx="1392.6" cy="737.3" r="7.9"/><circle cx="1395.1" cy="759.4" r="7.9"/><circle cx="1396.5" cy="814.5" r="7.9"/><circle cx="1396.3" cy="753.5" r="7.9"/><circle cx="1394.5" cy="754.5" r="7.9"/><circle cx="1397.3" cy="737.2" r="7.9"/><circle cx="1399.7" cy="732.2" r="7.9"/><circle cx="1399.1" cy="752.9" r="7.9"/><circle cx="1409.4" cy="727.8" r="7.9"/><circle cx="1393.8" cy="770.1" r="7.9"/><circle cx="1398" cy="772.2" r="7.9"/><circle cx="1388.9" cy="748.2" r="7.9"/><circle cx="1394.4" cy="769.3" r="7.9"/><circle cx="1396.4" cy="797.5" r="7.9"/><circle cx="1392.5" cy="762.8" r="7.9"/><circle cx="1387.3" cy="738" r="7.9"/><circle cx="1397.5" cy="753.7" r="7.9"/><circle cx="1398.8" cy="738.7" r="7.9"/><circle cx="1398.9" cy="770.8" r="7.9"/><circle cx="1397" cy="756.2" r="7.9"/><circle cx="1390.4" cy="744.1" r="7.9"/><circle cx="1406.2" cy="758.7" r="7.9"/><circle cx="1364.6" cy="739.2" r="7.9"/><circle cx="1402.2" cy="796.9" r="7.9"/><circle cx="1399.1" cy="769.4" r="7.9"/><circle cx="1401.7" cy="810.1" r="7.9"/><circle cx="1388.5" cy="806.6" r="7.9"/><circle cx="1406" cy="799.6" r="7.9"/><circle cx="1401.5" cy="757.7" r="7.9"/><circle cx="1393.2" cy="733.7" r="7.9"/><circle cx="1396.5" cy="779.7" r="7.9"/><circle cx="1385.3" cy="824.8" r="7.9"/><circle cx="1389.8" cy="759.8" r="7.9"/><circle cx="1410.1" cy="770.8" r="7.9"/><circle cx="1396.2" cy="751.4" r="7.9"/><circle cx="1403.8" cy="720.2" r="7.9"/><circle cx="1403.7" cy="740.2" r="7.9"/><circle cx="1388.6" cy="752" r="7.9"/><circle cx="1400.3" cy="728.3" r="7.9"/><circle cx="1387.2" cy="763.7" r="7.9"/><circle cx="1397.1" cy="796.4" r="7.9"/><circle cx="1404.7" cy="793.2" r="7.9"/><circle cx="1398.4" cy="756.6" r="7.9"/><circle cx="1395.3" cy="775.5" r="7.9"/><circle cx="1398.9" cy="789.6" r="7.9"/><circle cx="1394.1" cy="751.9" r="7.9"/><circle cx="1385.1" cy="749" r="7.9"/><circle cx="1402.8" cy="757.8" r="7.9"/><circle cx="1394" cy="746.5" r="7.9"/><circle cx="1395.4" cy="781.9" r="7.9"/><circle cx="1403.4" cy="765.9" r="7.9"/><circle cx="1389.8" cy="750.2" r="7.9"/><circle cx="1390.4" cy="770.3" r="7.9"/><circle cx="1404.3" cy="804.1" r="7.9"/><circle cx="1395" cy="772.5" r="7.9"/><circle cx="1381.5" cy="754.3" r="7.9"/><circle cx="1394.4" cy="791.5" r="7.9"/><circle cx="1414.3" cy="772.4" r="7.9"/><circle cx="1377.7" cy="760.1" r="7.9"/><circle cx="1390.3" cy="762" r="7.9"/><circle cx="1400" cy="764.9" r="7.9"/><circle cx="1404.8" cy="794.6" r="7.9"/><circle cx="1374.6" cy="737.3" r="7.9"/><circle cx="1391.3" cy="723.2" r="7.9"/><circle cx="1402.1" cy="773.3" r="7.9"/><circle cx="1396" cy="777.3" r="7.9"/><circle cx="1389.3" cy="778.7" r="7.9"/><circle cx="1393" cy="753.5" r="7.9"/><circle cx="1393.4" cy="784.1" r="7.9"/><circle cx="1391.1" cy="782" r="7.9"/><circle cx="1399.5" cy="737.7" r="7.9"/><circle cx="1395.4" cy="730" r="7.9"/><circle cx="1385.7" cy="747.1" r="7.9"/><circle cx="1386.9" cy="739.2" r="7.9"/><circle cx="1397.6" cy="767.2" r="7.9"/><circle cx="1393.5" cy="791.8" r="7.9"/><circle cx="1399.2" cy="767.9" r="7.9"/><circle cx="1396.3" cy="765" r="7.9"/><circle cx="1419.8" cy="733.7" r="7.9"/><circle cx="1394.1" cy="765.2" r="7.9"/><circle cx="1393.5" cy="742" r="7.9"/><circle cx="1395.7" cy="724.4" r="7.9"/><circle cx="1405.8" cy="780.9" r="7.9"/><circle cx="1709.3" cy="518" r="7.9"/><circle cx="1710" cy="471.7" r="7.9"/><circle cx="1714.1" cy="510.1" r="7.9"/><circle cx="1713.6" cy="511.2" r="7.9"/><circle cx="1731.6" cy="524.8" r="7.9"/><circle cx="1729.6" cy="489.3" r="7.9"/><circle cx="1733.3" cy="498.3" r="7.9"/><circle cx="1701" cy="500.8" r="7.9"/><circle cx="1713.2" cy="509.8" r="7.9"/><circle cx="1721.3" cy="501.4" r="7.9"/><circle cx="1716.2" cy="485.2" r="7.9"/><circle cx="1735.4" cy="507.9" r="7.9"/><circle cx="1723.9" cy="496.5" r="7.9"/><circle cx="1751.8" cy="508.8" r="7.9"/><circle cx="1751.1" cy="511.2" r="7.9"/><circle cx="1728.9" cy="499.4" r="7.9"/><circle cx="1704.9" cy="494.6" r="7.9"/><circle cx="1720.2" cy="492.3" r="7.9"/><circle cx="1715.2" cy="499.1" r="7.9"/><circle cx="1741" cy="486" r="7.9"/><circle cx="1720.8" cy="484.3" r="7.9"/><circle cx="1734.2" cy="499.6" r="7.9"/><circle cx="1710.2" cy="468" r="7.9"/><circle cx="1706.5" cy="544.1" r="7.9"/><circle cx="1706.6" cy="502.9" r="7.9"/><circle cx="1722.8" cy="502.2" r="7.9"/><circle cx="1730.4" cy="552.9" r="7.9"/><circle cx="1714.2" cy="494.5" r="7.9"/><circle cx="1740.4" cy="524.1" r="7.9"/><circle cx="1736.1" cy="461.6" r="7.9"/><circle cx="1706.6" cy="528.9" r="7.9"/><circle cx="1721.6" cy="487.8" r="7.9"/><circle cx="1727.1" cy="507.7" r="7.9"/><circle cx="1709.3" cy="484" r="7.9"/><circle cx="1704.2" cy="483.8" r="7.9"/><circle cx="1717.8" cy="516.7" r="7.9"/><circle cx="1725.9" cy="515.3" r="7.9"/><circle cx="1728.6" cy="503.3" r="7.9"/><circle cx="1728.1" cy="528.3" r="7.9"/><circle cx="1731.6" cy="491.8" r="7.9"/><circle cx="1724.6" cy="453.3" r="7.9"/><circle cx="1727.8" cy="515.9" r="7.9"/><circle cx="1739.1" cy="537.8" r="7.9"/><circle cx="1730.9" cy="546.3" r="7.9"/><circle cx="1718.8" cy="488.5" r="7.9"/><circle cx="1811" cy="423.7" r="7.9"/><circle cx="1826" cy="388.2" r="7.9"/><circle cx="1817" cy="511.7" r="7.9"/><circle cx="1823.4" cy="380.2" r="7.9"/><circle cx="1817.7" cy="391.1" r="7.9"/><circle cx="1806.9" cy="445.2" r="7.9"/><circle cx="1816" cy="391.2" r="7.9"/><circle cx="1813.9" cy="401" r="7.9"/><circle cx="1815.2" cy="291.7" r="7.9"/><circle cx="1831.6" cy="187.3" r="7.9"/><circle cx="1818.5" cy="408.6" r="7.9"/><circle cx="1836.6" cy="422.7" r="7.9"/><circle cx="1817.4" cy="320" r="7.9"/><circle cx="1823.1" cy="392.3" r="7.9"/><circle cx="1821" cy="292.2" r="7.9"/><circle cx="1823" cy="385.8" r="7.9"/><circle cx="1811.6" cy="386.9" r="7.9"/><circle cx="1819.4" cy="405.9" r="7.9"/><circle cx="1817.5" cy="373" r="7.9"/><circle cx="1815.5" cy="402.3" r="7.9"/><circle cx="1814.4" cy="329.6" r="7.9"/><circle cx="1810.2" cy="396.2" r="7.9"/><circle cx="1817.1" cy="484.6" r="7.9"/><circle cx="1801.5" cy="368.7" r="7.9"/><circle cx="1819.5" cy="393.8" r="7.9"/><circle cx="1825.6" cy="284.1" r="7.9"/><circle cx="1824.3" cy="284.3" r="7.9"/><circle cx="1814.8" cy="321" r="7.9"/><circle cx="1812.4" cy="481.8" r="7.9"/><circle cx="1814" cy="325.5" r="7.9"/><circle cx="1798.3" cy="398.5" r="7.9"/><circle cx="1807.1" cy="430" r="7.9"/><circle cx="1806.9" cy="236.7" r="7.9"/><circle cx="1813.6" cy="460.3" r="7.9"/><circle cx="1820.8" cy="491.2" r="7.9"/><circle cx="1694.4" cy="80.3" r="7.9"/><circle cx="1658.6" cy="128.3" r="7.9"/><circle cx="1600.8" cy="204.2" r="7.9"/><circle cx="1599.5" cy="284.9" r="7.9"/><circle cx="1780.9" cy="183.2" r="7.9"/><circle cx="1415.2" cy="455.5" r="7.9"/><circle cx="1318" cy="519" r="7.9"/><circle cx="1327.1" cy="524.1" r="7.9"/><circle cx="1341.8" cy="496.5" r="7.9"/><circle cx="1343.4" cy="498.1" r="7.9"/><circle cx="1346.3" cy="500.9" r="7.9"/><circle cx="1361.8" cy="482.8" r="7.9"/><circle cx="1366.5" cy="558.4" r="7.9"/><circle cx="1367.2" cy="560" r="7.9"/><circle cx="1366.5" cy="575.6" r="7.9"/><circle cx="1443.5" cy="512.7" r="7.9"/><circle cx="1455.6" cy="517.8" r="7.9"/><circle cx="1473.5" cy="520.9" r="7.9"/><circle cx="1417.3" cy="590.2" r="7.9"/><circle cx="1417.3" cy="612.4" r="7.9"/><circle cx="1416" cy="636.6" r="7.9"/><circle cx="1417.3" cy="656.9" r="7.9"/><circle cx="1360.2" cy="656.9" r="7.9"/><circle cx="1361.3" cy="697.6" r="7.9"/><circle cx="1347" cy="711.2" r="7.9"/><circle cx="1339" cy="760.2" r="7.9"/><circle cx="1350.1" cy="796.1" r="7.9"/><circle cx="1376.3" cy="828.5" r="7.9"/><circle cx="1398.6" cy="828.5" r="7.9"/><circle cx="1396.3" cy="850.7" r="7.9"/><circle cx="1423.2" cy="828.5" r="7.9"/><circle cx="1449.9" cy="830.7" r="7.9"/><circle cx="1499.2" cy="808.1" r="7.9"/><circle cx="1561.9" cy="815.1" r="7.9"/><circle cx="1488" cy="783.7" r="7.9"/><circle cx="1505.9" cy="779.2" r="7.9"/><circle cx="1584.2" cy="734.4" r="7.9"/><circle cx="1541.7" cy="745.9" r="7.9"/><circle cx="1543" cy="750.6" r="7.9"/><circle cx="1714.6" cy="635.6" r="7.9"/><circle cx="1754.8" cy="581.9" r="7.9"/><circle cx="1780.9" cy="555.2" r="7.9"/><circle cx="1942.4" cy="402.8" r="7.9"/><circle cx="1893.4" cy="431.7" r="7.9"/><circle cx="1860.5" cy="425" r="7.9"/><circle cx="1847.3" cy="426.9" r="7.9"/><circle cx="1846" cy="329.4" r="7.9"/><circle cx="1867.5" cy="206.1" r="7.9"/><circle cx="1889.8" cy="207.7" r="7.9"/><circle cx="1860.8" cy="228.7" r="7.9"/><circle cx="1883.1" cy="227.7" r="7.9"/><circle cx="1874.2" cy="228.7" r="7.9"/><circle cx="1911.3" cy="265.8" r="7.9"/><circle cx="1910" cy="241" r="7.9"/><circle cx="1937" cy="205.8" r="7.9"/><circle cx="1937.7" cy="204.2" r="7.9"/><circle cx="1966.3" cy="217.2" r="7.9"/><circle cx="2002" cy="186.1" r="7.9"/><circle cx="1925.8" cy="131.8" r="7.9"/><circle cx="1928.2" cy="145.1" r="7.9"/><circle cx="1947.3" cy="146.7" r="7.9"/><circle cx="1954.9" cy="125.1" r="7.9"/><circle cx="1955.4" cy="124.4" r="7.9"/><circle cx="1972.7" cy="97.8" r="7.9"/><circle cx="1990.6" cy="88.9" r="7.9"/><circle cx="2010.8" cy="85.4" r="7.9"/><circle cx="1996.6" cy="61.2" r="7.9"/><circle cx="1992.2" cy="126.4" r="7.9"/><circle cx="2073.6" cy="122.5" r="7.9"/></g>
<polygon points="1317.2,790.3 1336.1,773.3 1355,756.3 1373.9,739.3 1392.9,722.2 1411.8,705.1 1430.7,688 1449.6,670.9 1468.5,653.8 1487.4,636.6 1506.3,619.4 1525.2,602.2 1544.1,585 1563,567.7 1581.9,550.4 1600.9,533.1 1619.8,515.8 1638.7,498.5 1657.6,481.1 1676.5,463.8 1695.4,446.4 1714.3,429 1733.2,411.5 1752.1,394.1 1771,376.6 1789.9,359.1 1808.8,341.6 1827.8,324 1846.7,306.5 1865.6,288.9 1884.5,271.3 1903.4,253.7 1922.3,236.1 1941.2,218.4 1960.1,200.7 1979,183 1997.9,165.3 2016.8,147.6 2035.7,129.8 2054.7,112.1 2073.6,94.3 2073.6,110.8 2054.7,127.7 2035.7,144.6 2016.8,161.6 1997.9,178.6 1979,195.5 1960.1,212.6 1941.2,229.6 1922.3,246.6 1903.4,263.7 1884.5,280.8 1865.6,297.9 1846.7,315.1 1827.8,332.2 1808.8,349.4 1789.9,366.6 1771,383.8 1752.1,401 1733.2,418.3 1714.3,435.6 1695.4,452.9 1676.5,470.2 1657.6,487.5 1638.7,504.9 1619.8,522.2 1600.9,539.6 1581.9,557 1563,574.5 1544.1,591.9 1525.2,609.4 1506.3,626.9 1487.4,644.4 1468.5,662 1449.6,679.5 1430.7,697.1 1411.8,714.7 1392.9,732.3 1373.9,750 1355,767.7 1336.1,785.3 1317.2,803.1" fill="#6E6A6A" fill-opacity="0.8"/>
<line x1="1317.2" y1="796.7" x2="2073.6" y2="102.5" stroke="#0A0A0A" stroke-width="6.5" stroke-linecap="butt"/>
<rect x="1280.6" y="22.7" width="829.3" height="868.3" fill="none" stroke="#000" stroke-width="2.5"/>
<line x1="1280.6" y1="20.8" x2="1280.6" y2="893" stroke="#000" stroke-width="3.9" stroke-linecap="butt"/>
<line x1="1278.7" y1="891" x2="2111.2" y2="891" stroke="#000" stroke-width="3.9" stroke-linecap="butt"/>
<line x1="1311" y1="891" x2="1311" y2="900.7" stroke="#000" stroke-width="3.2" stroke-linecap="butt"/>
<line x1="1570.2" y1="891" x2="1570.2" y2="900.7" stroke="#000" stroke-width="3.2" stroke-linecap="butt"/>
<line x1="1829.4" y1="891" x2="1829.4" y2="900.7" stroke="#000" stroke-width="3.2" stroke-linecap="butt"/>
<line x1="2088.6" y1="891" x2="2088.6" y2="900.7" stroke="#000" stroke-width="3.2" stroke-linecap="butt"/>
<line x1="1270.7" y1="43.7" x2="1280.6" y2="43.7" stroke="#000" stroke-width="3.2" stroke-linecap="butt"/>
<line x1="1270.7" y1="202.6" x2="1280.6" y2="202.6" stroke="#000" stroke-width="3.2" stroke-linecap="butt"/>
<line x1="1270.7" y1="361.4" x2="1280.6" y2="361.4" stroke="#000" stroke-width="3.2" stroke-linecap="butt"/>
<line x1="1270.7" y1="520.3" x2="1280.6" y2="520.3" stroke="#000" stroke-width="3.2" stroke-linecap="butt"/>
<line x1="1270.7" y1="679.1" x2="1280.6" y2="679.1" stroke="#000" stroke-width="3.2" stroke-linecap="butt"/>
<line x1="1270.7" y1="838" x2="1280.6" y2="838" stroke="#000" stroke-width="3.2" stroke-linecap="butt"/>
<text x="1274.8" y="931" font-size="32" fill="#404040">−100</text>
<text x="1561.3" y="931" font-size="32" fill="#404040">0</text>
<text x="1802.1" y="931" font-size="32" fill="#404040">100</text>
<text x="2061.7" y="931" font-size="32" fill="#404040">200</text>
<text x="1209.8" y="55.3" font-size="32" fill="#404040">150</text>
<text x="1209.8" y="214.2" font-size="32" fill="#404040">100</text>
<text x="1227.6" y="373" font-size="32" fill="#404040">50</text>
<text x="1245.4" y="531.9" font-size="32" fill="#404040">0</text>
<text x="1208.9" y="690.8" font-size="32" fill="#404040">−50</text>
<text x="1191.1" y="849.6" font-size="32" fill="#404040">−100</text>
<text x="1450.6" y="982.9" font-size="42" fill="#000">Effect on pathogen growth</text>
<text x="1350.4" y="1032.9" font-size="42" fill="#000">by siderophore and other metabolites</text>
<text x="1322.9" y="1082.5" font-size="42" fill="#000">in the rhizobacteria supernatant (GE<tspan font-size="26" dy="13">li</tspan><tspan dy="-13">, %)</tspan></text>
<text transform="translate(1124.3,703.4) rotate(-90)" font-size="42" fill="#000">Effect on pathogen growth</text>
<text transform="translate(1175.8,794.4) rotate(-90)" font-size="42" fill="#000">by siderophore alone (GE<tspan font-size="26" dy="13">li</tspan><tspan dy="-13"> - GE</tspan><tspan font-size="26" dy="13">re</tspan><tspan dy="-13">, %)</tspan></text>
<text x="1124.4" y="45.5" font-size="62" fill="#000">b</text>
</g>
<g id="panel-c">
<rect x="229.5" y="1290.1" width="142.3" height="744.4" fill="#74D7CB"/>
<rect x="428.8" y="1261.3" width="142.4" height="30.2" fill="#BDBDC0"/>
<rect x="628.3" y="1290.1" width="141.7" height="187.6" fill="#74D7CB"/>
<rect x="827" y="1288.3" width="142.4" height="11.4" fill="#BDBDC0"/>
<line x1="300.5" y1="2003.7" x2="300.5" y2="2059.7" stroke="#000" stroke-width="4" stroke-linecap="butt"/>
<line x1="285.3" y1="2003.7" x2="315.7" y2="2003.7" stroke="#000" stroke-width="4" stroke-linecap="butt"/>
<line x1="285.3" y1="2059.7" x2="315.7" y2="2059.7" stroke="#000" stroke-width="4" stroke-linecap="butt"/>
<circle cx="265.4" cy="2037.9" r="4.1" fill="#000"/>
<circle cx="323.3" cy="2020.3" r="4.1" fill="#000"/>
<circle cx="313.8" cy="2031.7" r="4.1" fill="#000"/>
<line x1="500" y1="1247" x2="500" y2="1276.6" stroke="#000" stroke-width="4" stroke-linecap="butt"/>
<line x1="484.8" y1="1247" x2="515.2" y2="1247" stroke="#000" stroke-width="4" stroke-linecap="butt"/>
<line x1="484.8" y1="1276.6" x2="515.2" y2="1276.6" stroke="#000" stroke-width="4" stroke-linecap="butt"/>
<circle cx="468" cy="1247" r="4.1" fill="#000"/>
<circle cx="517.8" cy="1260.5" r="4.1" fill="#000"/>
<circle cx="491.1" cy="1294.4" r="4.1" fill="#000"/>
<line x1="699.1" y1="1469.1" x2="699.1" y2="1484.2" stroke="#000" stroke-width="4" stroke-linecap="butt"/>
<line x1="683.9" y1="1469.1" x2="714.3" y2="1469.1" stroke="#000" stroke-width="4" stroke-linecap="butt"/>
<line x1="683.9" y1="1484.2" x2="714.3" y2="1484.2" stroke="#000" stroke-width="4" stroke-linecap="butt"/>
<circle cx="674.5" cy="1463.7" r="4.1" fill="#000"/>
<circle cx="673.1" cy="1488.8" r="4.1" fill="#000"/>
<circle cx="724.7" cy="1485.5" r="4.1" fill="#000"/>
<line x1="898.2" y1="1272.3" x2="898.2" y2="1323.6" stroke="#000" stroke-width="4" stroke-linecap="butt"/>
<line x1="883" y1="1272.3" x2="913.4" y2="1272.3" stroke="#000" stroke-width="4" stroke-linecap="butt"/>
<line x1="883" y1="1323.6" x2="913.4" y2="1323.6" stroke="#000" stroke-width="4" stroke-linecap="butt"/>
<circle cx="877.5" cy="1271.2" r="4.1" fill="#000"/>
<circle cx="929.2" cy="1284.8" r="4.1" fill="#000"/>
<circle cx="906" cy="1353.9" r="4.1" fill="#000"/>
<text x="218.1" y="1268.9" font-size="39" fill="#000">Producer</text>
<text x="628.6" y="1269.5" font-size="39" fill="#000">Producer</text>
<text x="379.3" y="1399.5" font-size="39" fill="#000">Non-producer</text>
<text x="772.8" y="1399.5" font-size="39" fill="#000">Non-producer</text>
<rect x="181.3" y="1209.0" width="835.4" height="868.3" fill="none" stroke="#000" stroke-width="2.6"/>
<line x1="181.3" y1="1207" x2="181.3" y2="2079.3" stroke="#000" stroke-width="4" stroke-linecap="butt"/>
<line x1="179.3" y1="2077.3" x2="1018" y2="2077.3" stroke="#000" stroke-width="4" stroke-linecap="butt"/>
<line x1="300.5" y1="2077.3" x2="300.5" y2="2086.8" stroke="#000" stroke-width="3.2" stroke-linecap="butt"/>
<line x1="500" y1="2077.3" x2="500" y2="2086.8" stroke="#000" stroke-width="3.2" stroke-linecap="butt"/>
<line x1="699.5" y1="2077.3" x2="699.5" y2="2086.8" stroke="#000" stroke-width="3.2" stroke-linecap="butt"/>
<line x1="898" y1="2077.3" x2="898" y2="2086.8" stroke="#000" stroke-width="3.2" stroke-linecap="butt"/>
<line x1="171.5" y1="1290.1" x2="181.3" y2="1290.1" stroke="#000" stroke-width="3.2" stroke-linecap="butt"/>
<line x1="171.5" y1="1499.6" x2="181.3" y2="1499.6" stroke="#000" stroke-width="3.2" stroke-linecap="butt"/>
<line x1="171.5" y1="1709.2" x2="181.3" y2="1709.2" stroke="#000" stroke-width="3.2" stroke-linecap="butt"/>
<line x1="171.5" y1="1918.7" x2="181.3" y2="1918.7" stroke="#000" stroke-width="3.2" stroke-linecap="butt"/>
<text x="119.3" y="1301.7" font-size="32" fill="#404040">0</text>
<text x="100.9" y="1511.2" font-size="32" fill="#404040">−20</text>
<text x="100.9" y="1720.8" font-size="32" fill="#404040">−40</text>
<text x="100.9" y="1930.3" font-size="32" fill="#404040">−60</text>
<text x="258.4" y="2123.3" font-size="32" fill="#404040">PAO1</text>
<text x="275.9" y="2161.3" font-size="32" fill="#404040">WT</text>
<text x="457.9" y="2123.3" font-size="32" fill="#404040">PAO1</text>
<text x="663" y="2123.3" font-size="32" fill="#404040">H111</text>
<text x="674.9" y="2161.3" font-size="32" fill="#404040">WT</text>
<text x="861.5" y="2123.3" font-size="32" fill="#404040">H111</text>
<text x="500.2" y="2161.3" font-size="32" fill="#404040" text-anchor="middle"><tspan font-family="Noto Sans CJK JP, sans-serif" font-size="27">△</tspan><tspan dx="2">pvdDpchEF</tspan></text>
<text x="899.2" y="2161.3" font-size="32" fill="#404040" text-anchor="middle"><tspan font-family="Noto Sans CJK JP, sans-serif" font-size="27">△</tspan><tspan dx="2">orbJpchAB</tspan></text>
<text x="268.6" y="2219.3" font-size="39" fill="#000" font-style="italic">Pseudomonas</text>
<text x="301.8" y="2264.9" font-size="39" fill="#000" font-style="italic">aeruginosa</text>
<text x="691.9" y="2219.3" font-size="39" fill="#000" font-style="italic">Burkholderia</text>
<text x="739.3" y="2264.9" font-size="39" fill="#000" font-style="italic">cepacia</text>
<text transform="translate(29,1871.6) rotate(-90)" font-size="39" fill="#000">Siderophore-mediated effects</text>
<text transform="translate(75.4,1818.7) rotate(-90)" font-size="39" fill="#000">on pathogen growth (%)</text>
<text x="28.9" y="1231.2" font-size="62" fill="#000" font-weight="bold">c</text>
</g>
<g id="panel-d">
<rect x="1327.1" y="1266.3" width="143.6" height="613.9" fill="#BDBDC0"/>
<rect x="1527" y="1266.3" width="143.4" height="469.3" fill="#BDBDC0"/>
<rect x="1726.8" y="1266.3" width="143.1" height="460.4" fill="#BDBDC0"/>
<rect x="1926.7" y="1266.3" width="143.1" height="632.7" fill="#BDBDC0"/>
<line x1="1398.6" y1="1836.4" x2="1398.6" y2="1920.6" stroke="#000" stroke-width="4" stroke-linecap="butt"/>
<line x1="1383.4" y1="1836.4" x2="1413.8" y2="1836.4" stroke="#000" stroke-width="4" stroke-linecap="butt"/>
<line x1="1383.4" y1="1920.6" x2="1413.8" y2="1920.6" stroke="#000" stroke-width="4" stroke-linecap="butt"/>
<circle cx="1348.7" cy="1829.9" r="4.1" fill="#000"/>
<circle cx="1445" cy="1817" r="4.1" fill="#000"/>
<circle cx="1441.8" cy="1866" r="4.1" fill="#000"/>
<circle cx="1411.3" cy="2001.1" r="4.1" fill="#000"/>
<line x1="1598.7" y1="1674.5" x2="1598.7" y2="1793.2" stroke="#000" stroke-width="4" stroke-linecap="butt"/>
<line x1="1583.5" y1="1674.5" x2="1613.9" y2="1674.5" stroke="#000" stroke-width="4" stroke-linecap="butt"/>
<line x1="1583.5" y1="1793.2" x2="1613.9" y2="1793.2" stroke="#000" stroke-width="4" stroke-linecap="butt"/>
<circle cx="1592.2" cy="1636.7" r="4.1" fill="#000"/>
<circle cx="1626.8" cy="1660.4" r="4.1" fill="#000"/>
<circle cx="1572.8" cy="1736.6" r="4.1" fill="#000"/>
<circle cx="1597.2" cy="1900.5" r="4.1" fill="#000"/>
<line x1="1798.7" y1="1681.6" x2="1798.7" y2="1769" stroke="#000" stroke-width="4" stroke-linecap="butt"/>
<line x1="1783.5" y1="1681.6" x2="1813.9" y2="1681.6" stroke="#000" stroke-width="4" stroke-linecap="butt"/>
<line x1="1783.5" y1="1769" x2="1813.9" y2="1769" stroke="#000" stroke-width="4" stroke-linecap="butt"/>
<circle cx="1798.7" cy="1637.8" r="4.1" fill="#000"/>
<circle cx="1778.4" cy="1697.8" r="4.1" fill="#000"/>
<circle cx="1823.7" cy="1719.8" r="4.1" fill="#000"/>
<circle cx="1784.4" cy="1845" r="4.1" fill="#000"/>
<line x1="1998.1" y1="1871.1" x2="1998.1" y2="1923.8" stroke="#000" stroke-width="4" stroke-linecap="butt"/>
<line x1="1982.9" y1="1871.1" x2="2013.3" y2="1871.1" stroke="#000" stroke-width="4" stroke-linecap="butt"/>
<line x1="1982.9" y1="1923.8" x2="2013.3" y2="1923.8" stroke="#000" stroke-width="4" stroke-linecap="butt"/>
<circle cx="1990.8" cy="1840.3" r="4.1" fill="#000"/>
<circle cx="2046" cy="1883.4" r="4.1" fill="#000"/>
<circle cx="1980.6" cy="1899" r="4.1" fill="#000"/>
<circle cx="2007" cy="1967" r="4.1" fill="#000"/>
<rect x="1278.9" y="1227.0" width="835.4" height="869.2" fill="none" stroke="#000" stroke-width="4"/>
<line x1="1398.6" y1="2096.2" x2="1398.6" y2="2105.9" stroke="#000" stroke-width="3.2" stroke-linecap="butt"/>
<line x1="1598.3" y1="2096.2" x2="1598.3" y2="2105.9" stroke="#000" stroke-width="3.2" stroke-linecap="butt"/>
<line x1="1798" y1="2096.2" x2="1798" y2="2105.9" stroke="#000" stroke-width="3.2" stroke-linecap="butt"/>
<line x1="1997" y1="2096.2" x2="1997" y2="2105.9" stroke="#000" stroke-width="3.2" stroke-linecap="butt"/>
<line x1="1268.9" y1="1266.3" x2="1278.9" y2="1266.3" stroke="#000" stroke-width="3.2" stroke-linecap="butt"/>
<line x1="1268.9" y1="1463.6" x2="1278.9" y2="1463.6" stroke="#000" stroke-width="3.2" stroke-linecap="butt"/>
<line x1="1268.9" y1="1660.9" x2="1278.9" y2="1660.9" stroke="#000" stroke-width="3.2" stroke-linecap="butt"/>
<line x1="1268.9" y1="1858.2" x2="1278.9" y2="1858.2" stroke="#000" stroke-width="3.2" stroke-linecap="butt"/>
<line x1="1268.9" y1="2055.5" x2="1278.9" y2="2055.5" stroke="#000" stroke-width="3.2" stroke-linecap="butt"/>
<text x="1217.1" y="1277.7" font-size="32" fill="#404040">0</text>
<text x="1198.7" y="1475" font-size="32" fill="#404040">−10</text>
<text x="1198.7" y="1672.3" font-size="32" fill="#404040">−20</text>
<text x="1198.7" y="1869.6" font-size="32" fill="#404040">−30</text>
<text x="1198.7" y="2066.9" font-size="32" fill="#404040">−40</text>
<text x="1338.4" y="2144.3" font-size="32" fill="#404040">BS0048</text>
<text x="1337.5" y="2227.9" font-size="39" fill="#000">(-33%)</text>
<text x="1540.4" y="2144.3" font-size="32" fill="#404040">BS0408</text>
<text x="1539.5" y="2227.9" font-size="39" fill="#000">(-46%)</text>
<text x="1739.5" y="2144.3" font-size="32" fill="#404040">BS0599</text>
<text x="1738.5" y="2227.9" font-size="39" fill="#000">(-30%)</text>
<text x="1939.5" y="2144.3" font-size="32" fill="#404040">BS1719</text>
<text x="1938.5" y="2227.9" font-size="39" fill="#000">(-32%)</text>
<text transform="translate(1127.9,1832.7) rotate(-90)" font-size="39" fill="#000">Effect on pathogen growth</text>
<text transform="translate(1175.2,1826.5) rotate(-90)" font-size="39" fill="#000">by purified pyoverdine (%)</text>
<text x="1127.4" y="1230.5" font-size="62" fill="#000">d</text>
</g>
</svg></body></html>
